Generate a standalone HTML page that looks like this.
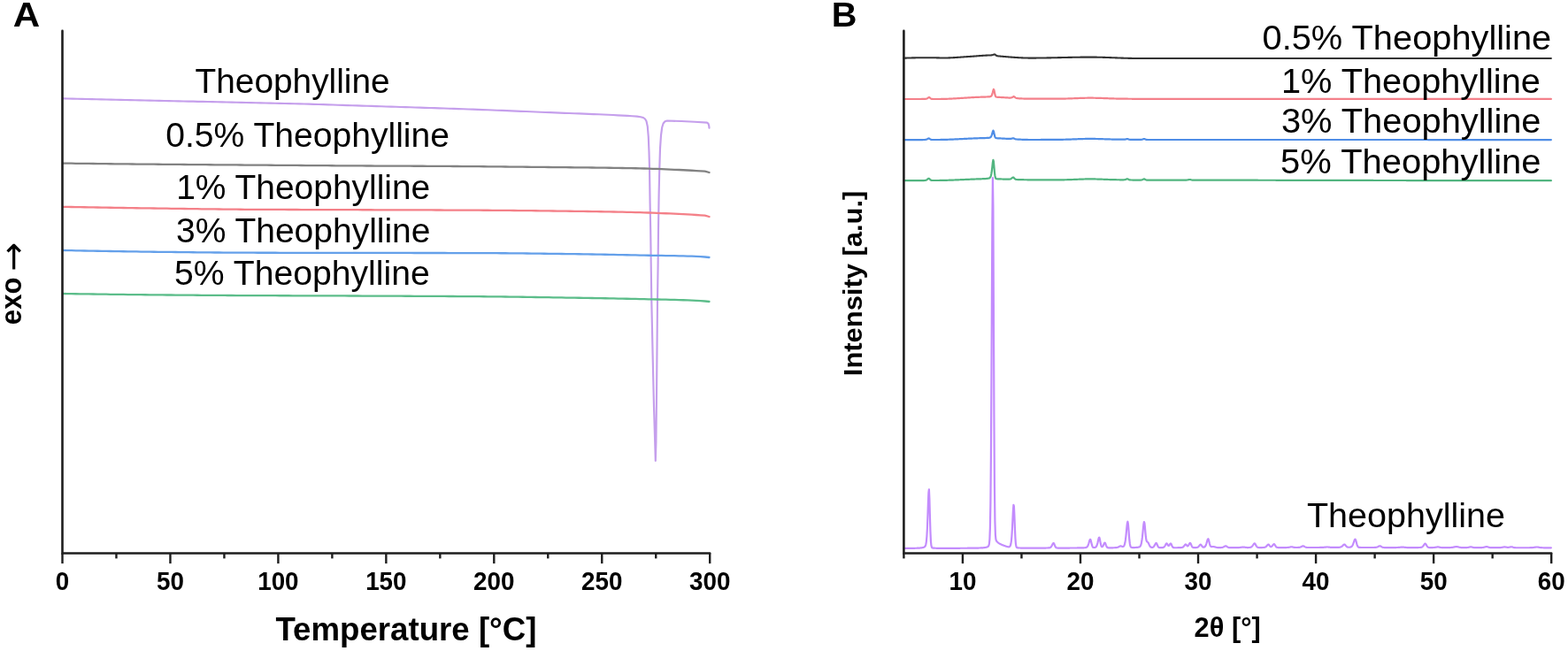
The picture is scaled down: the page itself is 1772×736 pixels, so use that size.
<!DOCTYPE html><html><head><meta charset="utf-8"><style>html,body{margin:0;padding:0;background:#fff;}svg{display:block;}</style></head><body>
<svg width="1772" height="736" viewBox="0 0 1772 736" font-family='"Liberation Sans", Arial, Helvetica, sans-serif'>
<rect width="1772" height="736" fill="#fff"/>
<path d="M71.00 111.40 L76.45 111.52 L81.91 111.65 L87.36 111.77 L92.82 111.89 L98.27 112.02 L103.72 112.14 L109.18 112.26 L114.63 112.38 L120.08 112.51 L125.54 112.63 L130.99 112.75 L136.45 112.87 L141.90 113.00 L147.35 113.12 L152.81 113.24 L158.26 113.36 L163.71 113.48 L169.17 113.60 L174.62 113.73 L180.08 113.85 L185.53 113.97 L190.98 114.09 L196.44 114.21 L201.89 114.33 L207.34 114.45 L212.80 114.57 L218.25 114.69 L223.71 114.81 L229.16 114.93 L234.61 115.05 L240.07 115.18 L245.52 115.30 L250.97 115.42 L256.43 115.54 L261.88 115.66 L267.34 115.78 L272.79 115.90 L278.24 116.02 L283.70 116.14 L289.15 116.25 L294.61 116.37 L300.06 116.49 L305.51 116.61 L310.97 116.74 L316.42 116.86 L321.87 116.99 L327.33 117.12 L332.78 117.25 L338.24 117.39 L343.69 117.53 L349.14 117.68 L354.60 117.83 L360.05 117.99 L365.50 118.16 L370.96 118.34 L376.41 118.52 L381.87 118.70 L387.32 118.88 L392.77 119.06 L398.23 119.24 L403.68 119.42 L409.13 119.59 L414.59 119.76 L420.04 119.94 L425.50 120.11 L430.95 120.28 L436.40 120.45 L441.86 120.62 L447.31 120.79 L452.76 120.96 L458.22 121.13 L463.67 121.30 L469.13 121.47 L474.58 121.64 L480.03 121.82 L485.49 121.99 L490.94 122.17 L496.39 122.35 L501.85 122.53 L507.30 122.71 L512.76 122.90 L518.21 123.08 L523.66 123.27 L529.12 123.47 L534.57 123.67 L540.03 123.87 L545.48 124.07 L550.93 124.28 L556.39 124.50 L561.84 124.71 L567.29 124.93 L572.75 125.15 L578.20 125.38 L583.66 125.60 L589.11 125.82 L594.56 126.05 L600.02 126.27 L605.47 126.50 L610.92 126.72 L616.38 126.95 L621.83 127.17 L627.29 127.39 L632.74 127.61 L638.19 127.82 L643.65 128.03 L649.10 128.23 L654.55 128.44 L660.01 128.64 L665.46 128.85 L670.92 129.07 L676.37 129.29 L681.82 129.53 L687.28 129.77 L692.73 130.03 L698.18 130.32 L703.64 130.62 L709.09 130.94 L714.55 131.26 L720.00 131.60 L724.00 132.20 L727.00 133.00 L729.00 134.50 L730.50 137.00 L731.80 143.00 L732.80 155.00 L733.50 172.00 L734.00 190.00 L734.60 230.00 L735.20 260.00 L735.80 305.00 L736.30 340.00 L737.60 400.00 L739.00 460.00 L740.20 500.00 L740.80 521.00 L741.40 500.00 L742.10 440.00 L743.00 340.00 L743.60 300.00 L744.00 260.00 L744.60 220.00 L745.30 190.00 L746.00 168.00 L747.00 153.00 L748.20 144.00 L749.60 139.50 L751.50 137.30 L754.00 136.50 L770.00 137.00 L785.00 137.80 L799.00 138.60 L800.40 139.60 L801.20 142.00 L801.50 144.60" fill="none" stroke="#c59fec" stroke-width="2.15" stroke-linejoin="round" stroke-linecap="round"/>
<path d="M71.00 184.60 L75.90 184.66 L80.81 184.72 L85.71 184.78 L90.61 184.84 L95.51 184.89 L100.42 184.95 L105.32 185.01 L110.22 185.06 L115.12 185.12 L120.03 185.17 L124.93 185.23 L129.83 185.28 L134.73 185.33 L139.64 185.38 L144.54 185.43 L149.44 185.48 L154.35 185.53 L159.25 185.58 L164.15 185.63 L169.05 185.67 L173.96 185.72 L178.86 185.76 L183.76 185.81 L188.66 185.85 L193.57 185.89 L198.47 185.93 L203.37 185.97 L208.28 186.01 L213.18 186.05 L218.08 186.09 L222.98 186.13 L227.89 186.17 L232.79 186.20 L237.69 186.24 L242.59 186.28 L247.50 186.32 L252.40 186.35 L257.30 186.39 L262.20 186.42 L267.11 186.46 L272.01 186.50 L276.91 186.53 L281.82 186.57 L286.72 186.60 L291.62 186.64 L296.52 186.67 L301.43 186.71 L306.33 186.75 L311.23 186.78 L316.13 186.82 L321.04 186.86 L325.94 186.89 L330.84 186.93 L335.74 186.97 L340.65 187.00 L345.55 187.04 L350.45 187.07 L355.36 187.11 L360.26 187.14 L365.16 187.18 L370.06 187.21 L374.97 187.24 L379.87 187.28 L384.77 187.31 L389.67 187.34 L394.58 187.37 L399.48 187.40 L404.38 187.42 L409.29 187.45 L414.19 187.48 L419.09 187.50 L423.99 187.53 L428.90 187.55 L433.80 187.57 L438.70 187.59 L443.60 187.61 L448.51 187.64 L453.41 187.66 L458.31 187.68 L463.21 187.70 L468.12 187.73 L473.02 187.75 L477.92 187.77 L482.83 187.80 L487.73 187.83 L492.63 187.85 L497.53 187.88 L502.44 187.92 L507.34 187.95 L512.24 187.98 L517.14 188.02 L522.05 188.06 L526.95 188.10 L531.85 188.14 L536.76 188.18 L541.66 188.22 L546.56 188.27 L551.46 188.31 L556.37 188.36 L561.27 188.41 L566.17 188.46 L571.07 188.50 L575.98 188.55 L580.88 188.60 L585.78 188.65 L590.68 188.70 L595.59 188.75 L600.49 188.81 L605.39 188.86 L610.30 188.90 L615.20 188.95 L620.10 189.00 L625.00 189.05 L629.91 189.10 L634.81 189.14 L639.71 189.19 L644.61 189.24 L649.52 189.29 L654.42 189.34 L659.32 189.40 L664.22 189.45 L669.13 189.51 L674.03 189.57 L678.93 189.63 L683.84 189.70 L688.74 189.77 L693.64 189.84 L698.54 189.91 L703.45 189.99 L708.35 190.08 L713.25 190.17 L718.15 190.26 L723.06 190.37 L727.96 190.49 L732.86 190.63 L737.77 190.78 L742.67 190.95 L747.57 191.14 L752.47 191.34 L757.38 191.56 L762.28 191.78 L767.18 192.01 L772.08 192.26 L776.99 192.51 L781.89 192.76 L786.79 193.03 L791.69 193.28 L796.60 193.54 L801.50 195.00" fill="none" stroke="#828282" stroke-width="2.3" stroke-linejoin="round" stroke-linecap="round"/>
<path d="M71.00 233.80 L75.90 233.89 L80.81 233.98 L85.71 234.07 L90.61 234.16 L95.51 234.25 L100.42 234.34 L105.32 234.42 L110.22 234.51 L115.12 234.59 L120.03 234.68 L124.93 234.76 L129.83 234.84 L134.73 234.92 L139.64 235.00 L144.54 235.08 L149.44 235.15 L154.35 235.23 L159.25 235.30 L164.15 235.37 L169.05 235.44 L173.96 235.52 L178.86 235.58 L183.76 235.65 L188.66 235.72 L193.57 235.79 L198.47 235.86 L203.37 235.93 L208.28 236.00 L213.18 236.08 L218.08 236.14 L222.98 236.21 L227.89 236.28 L232.79 236.34 L237.69 236.41 L242.59 236.47 L247.50 236.52 L252.40 236.58 L257.30 236.63 L262.20 236.67 L267.11 236.71 L272.01 236.75 L276.91 236.78 L281.82 236.81 L286.72 236.83 L291.62 236.86 L296.52 236.88 L301.43 236.90 L306.33 236.92 L311.23 236.94 L316.13 236.95 L321.04 236.97 L325.94 236.99 L330.84 237.00 L335.74 237.02 L340.65 237.03 L345.55 237.04 L350.45 237.06 L355.36 237.07 L360.26 237.08 L365.16 237.10 L370.06 237.11 L374.97 237.12 L379.87 237.14 L384.77 237.15 L389.67 237.17 L394.58 237.18 L399.48 237.20 L404.38 237.21 L409.29 237.23 L414.19 237.25 L419.09 237.26 L423.99 237.28 L428.90 237.29 L433.80 237.31 L438.70 237.32 L443.60 237.34 L448.51 237.35 L453.41 237.37 L458.31 237.38 L463.21 237.40 L468.12 237.41 L473.02 237.43 L477.92 237.44 L482.83 237.46 L487.73 237.47 L492.63 237.49 L497.53 237.51 L502.44 237.53 L507.34 237.55 L512.24 237.57 L517.14 237.59 L522.05 237.61 L526.95 237.63 L531.85 237.66 L536.76 237.68 L541.66 237.71 L546.56 237.74 L551.46 237.77 L556.37 237.80 L561.27 237.84 L566.17 237.88 L571.07 237.92 L575.98 237.96 L580.88 238.00 L585.78 238.05 L590.68 238.10 L595.59 238.15 L600.49 238.20 L605.39 238.25 L610.30 238.31 L615.20 238.36 L620.10 238.42 L625.00 238.48 L629.91 238.54 L634.81 238.60 L639.71 238.67 L644.61 238.73 L649.52 238.79 L654.42 238.86 L659.32 238.93 L664.22 239.00 L669.13 239.07 L674.03 239.15 L678.93 239.23 L683.84 239.32 L688.74 239.41 L693.64 239.50 L698.54 239.60 L703.45 239.70 L708.35 239.81 L713.25 239.93 L718.15 240.05 L723.06 240.18 L727.96 240.33 L732.86 240.48 L737.77 240.65 L742.67 240.83 L747.57 241.03 L752.47 241.24 L757.38 241.46 L762.28 241.69 L767.18 241.93 L772.08 242.18 L776.99 242.45 L781.89 242.72 L786.79 243.01 L791.69 243.29 L796.60 243.61 L801.50 245.00" fill="none" stroke="#f48088" stroke-width="2.3" stroke-linejoin="round" stroke-linecap="round"/>
<path d="M71.00 283.00 L75.90 283.10 L80.81 283.20 L85.71 283.29 L90.61 283.39 L95.51 283.48 L100.42 283.58 L105.32 283.67 L110.22 283.76 L115.12 283.84 L120.03 283.93 L124.93 284.01 L129.83 284.09 L134.73 284.17 L139.64 284.25 L144.54 284.32 L149.44 284.40 L154.35 284.47 L159.25 284.54 L164.15 284.60 L169.05 284.67 L173.96 284.73 L178.86 284.79 L183.76 284.84 L188.66 284.90 L193.57 284.96 L198.47 285.02 L203.37 285.07 L208.28 285.13 L213.18 285.18 L218.08 285.24 L222.98 285.29 L227.89 285.34 L232.79 285.39 L237.69 285.43 L242.59 285.48 L247.50 285.52 L252.40 285.55 L257.30 285.59 L262.20 285.62 L267.11 285.65 L272.01 285.67 L276.91 285.69 L281.82 285.71 L286.72 285.72 L291.62 285.73 L296.52 285.74 L301.43 285.75 L306.33 285.76 L311.23 285.77 L316.13 285.78 L321.04 285.79 L325.94 285.80 L330.84 285.81 L335.74 285.81 L340.65 285.82 L345.55 285.83 L350.45 285.83 L355.36 285.84 L360.26 285.85 L365.16 285.85 L370.06 285.86 L374.97 285.87 L379.87 285.87 L384.77 285.88 L389.67 285.88 L394.58 285.89 L399.48 285.90 L404.38 285.91 L409.29 285.91 L414.19 285.92 L419.09 285.93 L423.99 285.93 L428.90 285.94 L433.80 285.94 L438.70 285.95 L443.60 285.95 L448.51 285.96 L453.41 285.96 L458.31 285.97 L463.21 285.97 L468.12 285.98 L473.02 285.99 L477.92 285.99 L482.83 286.00 L487.73 286.00 L492.63 286.01 L497.53 286.02 L502.44 286.02 L507.34 286.03 L512.24 286.04 L517.14 286.05 L522.05 286.06 L526.95 286.07 L531.85 286.08 L536.76 286.09 L541.66 286.10 L546.56 286.12 L551.46 286.14 L556.37 286.17 L561.27 286.20 L566.17 286.23 L571.07 286.27 L575.98 286.31 L580.88 286.36 L585.78 286.41 L590.68 286.46 L595.59 286.51 L600.49 286.56 L605.39 286.62 L610.30 286.68 L615.20 286.74 L620.10 286.80 L625.00 286.87 L629.91 286.93 L634.81 287.00 L639.71 287.06 L644.61 287.13 L649.52 287.19 L654.42 287.26 L659.32 287.33 L664.22 287.41 L669.13 287.50 L674.03 287.58 L678.93 287.68 L683.84 287.77 L688.74 287.87 L693.64 287.96 L698.54 288.06 L703.45 288.16 L708.35 288.26 L713.25 288.36 L718.15 288.46 L723.06 288.56 L727.96 288.65 L732.86 288.73 L737.77 288.80 L742.67 288.88 L747.57 288.95 L752.47 289.03 L757.38 289.11 L762.28 289.21 L767.18 289.31 L772.08 289.42 L776.99 289.56 L781.89 289.71 L786.79 289.88 L791.69 290.09 L796.60 290.50 L801.50 291.00" fill="none" stroke="#64a0ea" stroke-width="2.3" stroke-linejoin="round" stroke-linecap="round"/>
<path d="M71.00 332.00 L75.90 332.08 L80.81 332.15 L85.71 332.23 L90.61 332.30 L95.51 332.38 L100.42 332.45 L105.32 332.52 L110.22 332.59 L115.12 332.65 L120.03 332.72 L124.93 332.79 L129.83 332.85 L134.73 332.91 L139.64 332.97 L144.54 333.03 L149.44 333.09 L154.35 333.14 L159.25 333.20 L164.15 333.25 L169.05 333.30 L173.96 333.34 L178.86 333.39 L183.76 333.43 L188.66 333.48 L193.57 333.52 L198.47 333.56 L203.37 333.60 L208.28 333.64 L213.18 333.68 L218.08 333.72 L222.98 333.75 L227.89 333.79 L232.79 333.83 L237.69 333.86 L242.59 333.89 L247.50 333.92 L252.40 333.95 L257.30 333.98 L262.20 334.01 L267.11 334.04 L272.01 334.06 L276.91 334.09 L281.82 334.11 L286.72 334.13 L291.62 334.15 L296.52 334.17 L301.43 334.19 L306.33 334.20 L311.23 334.22 L316.13 334.24 L321.04 334.25 L325.94 334.27 L330.84 334.28 L335.74 334.30 L340.65 334.31 L345.55 334.32 L350.45 334.34 L355.36 334.35 L360.26 334.37 L365.16 334.38 L370.06 334.40 L374.97 334.41 L379.87 334.43 L384.77 334.44 L389.67 334.46 L394.58 334.48 L399.48 334.50 L404.38 334.52 L409.29 334.54 L414.19 334.56 L419.09 334.58 L423.99 334.59 L428.90 334.61 L433.80 334.63 L438.70 334.65 L443.60 334.67 L448.51 334.69 L453.41 334.72 L458.31 334.74 L463.21 334.76 L468.12 334.78 L473.02 334.80 L477.92 334.83 L482.83 334.85 L487.73 334.88 L492.63 334.90 L497.53 334.93 L502.44 334.96 L507.34 334.98 L512.24 335.01 L517.14 335.04 L522.05 335.07 L526.95 335.11 L531.85 335.14 L536.76 335.18 L541.66 335.21 L546.56 335.25 L551.46 335.30 L556.37 335.35 L561.27 335.40 L566.17 335.45 L571.07 335.51 L575.98 335.57 L580.88 335.64 L585.78 335.70 L590.68 335.77 L595.59 335.84 L600.49 335.92 L605.39 335.99 L610.30 336.07 L615.20 336.14 L620.10 336.22 L625.00 336.30 L629.91 336.38 L634.81 336.46 L639.71 336.54 L644.61 336.61 L649.52 336.69 L654.42 336.77 L659.32 336.85 L664.22 336.93 L669.13 337.01 L674.03 337.10 L678.93 337.18 L683.84 337.27 L688.74 337.36 L693.64 337.45 L698.54 337.55 L703.45 337.65 L708.35 337.75 L713.25 337.85 L718.15 337.96 L723.06 338.07 L727.96 338.17 L732.86 338.28 L737.77 338.38 L742.67 338.48 L747.57 338.59 L752.47 338.71 L757.38 338.83 L762.28 338.96 L767.18 339.11 L772.08 339.27 L776.99 339.44 L781.89 339.63 L786.79 339.85 L791.69 340.10 L796.60 340.51 L801.50 341.00" fill="none" stroke="#5cbd8a" stroke-width="2.3" stroke-linejoin="round" stroke-linecap="round"/>
<path d="M1021.40 619.94 L1021.90 619.93 L1022.40 619.93 L1022.90 619.93 L1023.40 619.92 L1023.90 619.92 L1024.40 619.91 L1024.90 619.91 L1025.40 619.91 L1025.90 619.90 L1026.40 619.90 L1026.90 619.89 L1027.40 619.89 L1027.90 619.88 L1028.40 619.88 L1028.90 619.87 L1029.40 619.86 L1029.90 619.86 L1030.40 619.85 L1030.90 619.84 L1031.40 619.83 L1031.90 619.83 L1032.40 619.82 L1032.90 619.81 L1033.40 619.80 L1033.90 619.78 L1034.40 619.77 L1034.90 619.76 L1035.40 619.74 L1035.90 619.73 L1036.40 619.71 L1036.90 619.69 L1037.40 619.66 L1037.90 619.64 L1038.40 619.61 L1038.90 619.58 L1039.40 619.54 L1039.90 619.50 L1040.40 619.45 L1040.90 619.40 L1041.40 619.33 L1041.90 619.25 L1042.40 619.16 L1042.90 619.05 L1043.40 618.91 L1043.90 618.73 L1044.40 618.51 L1044.90 618.20 L1045.40 617.73 L1045.90 616.89 L1046.40 615.26 L1046.90 612.09 L1047.40 606.33 L1047.90 597.05 L1048.40 584.17 L1048.90 569.34 L1049.40 556.79 L1049.90 553.27 L1050.40 564.42 L1050.90 583.27 L1051.40 600.34 L1051.90 611.29 L1052.40 616.57 L1052.90 618.58 L1053.40 619.23 L1053.90 619.45 L1054.40 619.55 L1054.90 619.61 L1055.40 619.66 L1055.90 619.69 L1056.40 619.72 L1056.90 619.74 L1057.40 619.76 L1057.90 619.77 L1058.40 619.78 L1058.90 619.79 L1059.40 619.80 L1059.90 619.80 L1060.40 619.81 L1060.90 619.81 L1061.40 619.82 L1061.90 619.82 L1062.40 619.82 L1062.90 619.83 L1063.40 619.83 L1063.90 619.83 L1064.40 619.83 L1064.90 619.83 L1065.40 619.83 L1065.90 619.83 L1066.40 619.83 L1066.90 619.83 L1067.40 619.83 L1067.90 619.83 L1068.40 619.83 L1068.90 619.83 L1069.40 619.83 L1069.90 619.83 L1070.40 619.83 L1070.90 619.82 L1071.40 619.82 L1071.90 619.82 L1072.40 619.82 L1072.90 619.82 L1073.40 619.82 L1073.90 619.82 L1074.40 619.82 L1074.90 619.81 L1075.40 619.81 L1075.90 619.81 L1076.40 619.81 L1076.90 619.81 L1077.40 619.81 L1077.90 619.81 L1078.40 619.80 L1078.90 619.80 L1079.40 619.80 L1079.90 619.80 L1080.40 619.80 L1080.90 619.79 L1081.40 619.79 L1081.90 619.79 L1082.40 619.79 L1082.90 619.79 L1083.40 619.78 L1083.90 619.78 L1084.40 619.78 L1084.90 619.78 L1085.40 619.77 L1085.90 619.77 L1086.40 619.77 L1086.90 619.77 L1087.40 619.76 L1087.90 619.76 L1088.40 619.76 L1088.90 619.76 L1089.40 619.75 L1089.90 619.75 L1090.40 619.75 L1090.90 619.74 L1091.40 619.74 L1091.90 619.74 L1092.40 619.73 L1092.90 619.73 L1093.40 619.72 L1093.90 619.72 L1094.40 619.72 L1094.90 619.71 L1095.40 619.71 L1095.90 619.70 L1096.40 619.70 L1096.90 619.69 L1097.40 619.69 L1097.90 619.68 L1098.40 619.68 L1098.90 619.67 L1099.40 619.66 L1099.90 619.66 L1100.40 619.65 L1100.90 619.64 L1101.40 619.64 L1101.90 619.63 L1102.40 619.62 L1102.90 619.61 L1103.40 619.60 L1103.90 619.59 L1104.40 619.58 L1104.90 619.56 L1105.40 619.55 L1105.90 619.54 L1106.40 619.52 L1106.90 619.50 L1107.40 619.48 L1107.90 619.46 L1108.40 619.44 L1108.90 619.41 L1109.40 619.39 L1109.90 619.35 L1110.40 619.32 L1110.90 619.28 L1111.40 619.23 L1111.90 619.18 L1112.40 619.12 L1112.90 619.05 L1113.40 618.97 L1113.90 618.87 L1114.40 618.75 L1114.90 618.62 L1115.40 618.44 L1115.90 618.23 L1116.40 617.95 L1116.90 617.54 L1117.40 616.76 L1117.90 614.85 L1118.40 609.78 L1118.90 597.03 L1119.40 568.94 L1119.90 516.70 L1120.40 436.56 L1120.90 338.12 L1121.40 247.74 L1121.90 201.12 L1122.40 234.75 L1122.90 347.03 L1123.40 465.46 L1123.90 547.14 L1124.40 588.57 L1124.90 604.57 L1125.40 609.65 L1125.90 611.25 L1126.40 611.94 L1126.90 612.51 L1127.40 613.01 L1127.90 613.43 L1128.40 613.81 L1128.90 614.14 L1129.40 614.44 L1129.90 614.73 L1130.40 614.99 L1130.90 615.24 L1131.40 615.49 L1131.90 615.72 L1132.40 615.94 L1132.90 616.16 L1133.40 616.37 L1133.90 616.57 L1134.40 616.77 L1134.90 616.96 L1135.40 617.14 L1135.90 617.32 L1136.40 617.49 L1136.90 617.66 L1137.40 617.81 L1137.90 617.95 L1138.40 618.08 L1138.90 618.19 L1139.40 618.27 L1139.90 618.32 L1140.40 618.32 L1140.90 618.07 L1141.40 617.57 L1141.90 616.64 L1142.40 614.84 L1142.90 611.55 L1143.40 606.05 L1143.90 598.00 L1144.40 587.89 L1144.90 577.58 L1145.40 570.81 L1145.90 572.30 L1146.40 583.14 L1146.90 596.76 L1147.40 607.81 L1147.90 614.47 L1148.40 617.58 L1148.90 618.77 L1149.40 619.16 L1149.90 619.31 L1150.40 619.38 L1150.90 619.42 L1151.40 619.46 L1151.90 619.48 L1152.40 619.50 L1152.90 619.52 L1153.40 619.54 L1153.90 619.55 L1154.40 619.56 L1154.90 619.57 L1155.40 619.57 L1155.90 619.58 L1156.40 619.58 L1156.90 619.59 L1157.40 619.59 L1157.90 619.59 L1158.40 619.60 L1158.90 619.60 L1159.40 619.60 L1159.90 619.60 L1160.40 619.60 L1160.90 619.61 L1161.40 619.61 L1161.90 619.61 L1162.40 619.61 L1162.90 619.61 L1163.40 619.61 L1163.90 619.61 L1164.40 619.61 L1164.90 619.61 L1165.40 619.61 L1165.90 619.61 L1166.40 619.61 L1166.90 619.61 L1167.40 619.61 L1167.90 619.61 L1168.40 619.61 L1168.90 619.61 L1169.40 619.61 L1169.90 619.60 L1170.40 619.60 L1170.90 619.60 L1171.40 619.60 L1171.90 619.60 L1172.40 619.60 L1172.90 619.60 L1173.40 619.60 L1173.90 619.59 L1174.40 619.59 L1174.90 619.59 L1175.40 619.59 L1175.90 619.59 L1176.40 619.58 L1176.90 619.58 L1177.40 619.58 L1177.90 619.57 L1178.40 619.57 L1178.90 619.57 L1179.40 619.56 L1179.90 619.56 L1180.40 619.55 L1180.90 619.55 L1181.40 619.54 L1181.90 619.53 L1182.40 619.52 L1182.90 619.51 L1183.40 619.50 L1183.90 619.48 L1184.40 619.46 L1184.90 619.43 L1185.40 619.39 L1185.90 619.32 L1186.40 619.21 L1186.90 619.01 L1187.40 618.68 L1187.90 618.17 L1188.40 617.46 L1188.90 616.56 L1189.40 615.55 L1189.90 614.61 L1190.40 614.04 L1190.90 614.16 L1191.40 615.09 L1191.90 616.38 L1192.40 617.60 L1192.90 618.50 L1193.40 619.06 L1193.90 619.34 L1194.40 619.46 L1194.90 619.51 L1195.40 619.53 L1195.90 619.54 L1196.40 619.54 L1196.90 619.55 L1197.40 619.55 L1197.90 619.55 L1198.40 619.55 L1198.90 619.55 L1199.40 619.55 L1199.90 619.55 L1200.40 619.55 L1200.90 619.55 L1201.40 619.55 L1201.90 619.55 L1202.40 619.55 L1202.90 619.54 L1203.40 619.54 L1203.90 619.54 L1204.40 619.54 L1204.90 619.54 L1205.40 619.54 L1205.90 619.54 L1206.40 619.54 L1206.90 619.53 L1207.40 619.53 L1207.90 619.53 L1208.40 619.53 L1208.90 619.53 L1209.40 619.52 L1209.90 619.52 L1210.40 619.52 L1210.90 619.52 L1211.40 619.51 L1211.90 619.51 L1212.40 619.51 L1212.90 619.51 L1213.40 619.50 L1213.90 619.50 L1214.40 619.50 L1214.90 619.49 L1215.40 619.49 L1215.90 619.49 L1216.40 619.48 L1216.90 619.48 L1217.40 619.47 L1217.90 619.47 L1218.40 619.46 L1218.90 619.46 L1219.40 619.45 L1219.90 619.44 L1220.40 619.43 L1220.90 619.43 L1221.40 619.42 L1221.90 619.41 L1222.40 619.39 L1222.90 619.38 L1223.40 619.37 L1223.90 619.35 L1224.40 619.33 L1224.90 619.30 L1225.40 619.27 L1225.90 619.23 L1226.40 619.18 L1226.90 619.11 L1227.40 618.99 L1227.90 618.79 L1228.40 618.44 L1228.90 617.88 L1229.40 617.00 L1229.90 615.77 L1230.40 614.22 L1230.90 612.48 L1231.40 610.87 L1231.90 609.88 L1232.40 610.08 L1232.90 611.66 L1233.40 613.85 L1233.90 615.93 L1234.40 617.46 L1234.90 618.38 L1235.40 618.84 L1235.90 619.02 L1236.40 619.05 L1236.90 619.02 L1237.40 618.94 L1237.90 618.77 L1238.40 618.48 L1238.90 617.95 L1239.40 617.06 L1239.90 615.71 L1240.40 613.86 L1240.90 611.65 L1241.40 609.42 L1241.90 607.83 L1242.40 607.71 L1242.90 609.56 L1243.40 612.40 L1243.90 615.09 L1244.40 616.99 L1244.90 617.98 L1245.40 618.23 L1245.90 617.98 L1246.40 617.35 L1246.90 616.43 L1247.40 615.34 L1247.90 614.29 L1248.40 613.64 L1248.90 613.78 L1249.40 614.86 L1249.90 616.29 L1250.40 617.58 L1250.90 618.48 L1251.40 618.97 L1251.90 619.20 L1252.40 619.28 L1252.90 619.31 L1253.40 619.32 L1253.90 619.33 L1254.40 619.33 L1254.90 619.32 L1255.40 619.32 L1255.90 619.32 L1256.40 619.31 L1256.90 619.30 L1257.40 619.29 L1257.90 619.28 L1258.40 619.27 L1258.90 619.26 L1259.40 619.24 L1259.90 619.22 L1260.40 619.20 L1260.90 619.16 L1261.40 619.11 L1261.90 619.04 L1262.40 618.94 L1262.90 618.80 L1263.40 618.62 L1263.90 618.40 L1264.40 618.15 L1264.90 617.89 L1265.40 617.64 L1265.90 617.45 L1266.40 617.36 L1266.90 617.42 L1267.40 617.60 L1267.90 617.80 L1268.40 617.97 L1268.90 618.04 L1269.40 617.95 L1269.90 617.61 L1270.40 616.92 L1270.90 615.65 L1271.40 613.58 L1271.90 610.48 L1272.40 606.28 L1272.90 601.20 L1273.40 595.87 L1273.90 591.49 L1274.40 589.73 L1274.90 592.22 L1275.40 598.21 L1275.90 605.10 L1276.40 610.97 L1276.90 614.99 L1277.40 617.26 L1277.90 618.35 L1278.40 618.80 L1278.90 618.97 L1279.40 619.03 L1279.90 619.06 L1280.40 619.07 L1280.90 619.07 L1281.40 619.07 L1281.90 619.06 L1282.40 619.04 L1282.90 619.02 L1283.40 619.00 L1283.90 618.97 L1284.40 618.93 L1284.90 618.88 L1285.40 618.82 L1285.90 618.76 L1286.40 618.67 L1286.90 618.56 L1287.40 618.40 L1287.90 618.17 L1288.40 617.78 L1288.90 617.11 L1289.40 615.97 L1289.90 614.11 L1290.40 611.30 L1290.90 607.41 L1291.40 602.58 L1291.90 597.31 L1292.40 592.61 L1292.90 590.01 L1293.40 591.12 L1293.90 595.89 L1294.40 601.86 L1294.90 607.02 L1295.40 610.40 L1295.90 612.05 L1296.40 612.61 L1296.90 612.82 L1297.40 613.23 L1297.90 614.08 L1298.40 615.18 L1298.90 616.31 L1299.40 617.29 L1299.90 618.03 L1300.40 618.51 L1300.90 618.78 L1301.40 618.91 L1301.90 618.93 L1302.40 618.86 L1302.90 618.70 L1303.40 618.40 L1303.90 617.92 L1304.40 617.25 L1304.90 616.40 L1305.40 615.45 L1305.90 614.57 L1306.40 614.03 L1306.90 614.14 L1307.40 615.02 L1307.90 616.24 L1308.40 617.39 L1308.90 618.25 L1309.40 618.76 L1309.90 619.02 L1310.40 619.13 L1310.90 619.17 L1311.40 619.18 L1311.90 619.17 L1312.40 619.16 L1312.90 619.14 L1313.40 619.10 L1313.90 619.05 L1314.40 618.95 L1314.90 618.77 L1315.40 618.47 L1315.90 617.99 L1316.40 617.31 L1316.90 616.44 L1317.40 615.50 L1317.90 614.68 L1318.40 614.31 L1318.90 614.68 L1319.40 615.60 L1319.90 616.51 L1320.40 617.02 L1320.90 616.99 L1321.40 616.48 L1321.90 615.69 L1322.40 614.90 L1322.90 614.48 L1323.40 614.77 L1323.90 615.76 L1324.40 616.96 L1324.90 617.97 L1325.40 618.64 L1325.90 618.99 L1326.40 619.15 L1326.90 619.21 L1327.40 619.23 L1327.90 619.24 L1328.40 619.24 L1328.90 619.24 L1329.40 619.24 L1329.90 619.23 L1330.40 619.23 L1330.90 619.22 L1331.40 619.22 L1331.90 619.21 L1332.40 619.20 L1332.90 619.19 L1333.40 619.17 L1333.90 619.16 L1334.40 619.13 L1334.90 619.09 L1335.40 619.03 L1335.90 618.94 L1336.40 618.77 L1336.90 618.51 L1337.40 618.12 L1337.90 617.59 L1338.40 616.96 L1338.90 616.29 L1339.40 615.73 L1339.90 615.47 L1340.40 615.70 L1340.90 616.31 L1341.40 616.94 L1341.90 617.31 L1342.40 617.28 L1342.90 616.84 L1343.40 616.09 L1343.90 615.18 L1344.40 614.36 L1344.90 613.93 L1345.40 614.21 L1345.90 615.20 L1346.40 616.43 L1346.90 617.53 L1347.40 618.32 L1347.90 618.78 L1348.40 619.00 L1348.90 619.09 L1349.40 619.12 L1349.90 619.12 L1350.40 619.12 L1350.90 619.10 L1351.40 619.08 L1351.90 619.05 L1352.40 618.99 L1352.90 618.88 L1353.40 618.71 L1353.90 618.43 L1354.40 618.03 L1354.90 617.50 L1355.40 616.88 L1355.90 616.25 L1356.40 615.76 L1356.90 615.62 L1357.40 616.01 L1357.90 616.74 L1358.40 617.52 L1358.90 618.14 L1359.40 618.53 L1359.90 618.70 L1360.40 618.71 L1360.90 618.59 L1361.40 618.32 L1361.90 617.85 L1362.40 617.09 L1362.90 615.98 L1363.40 614.51 L1363.90 612.76 L1364.40 611.00 L1364.90 609.64 L1365.40 609.24 L1365.90 610.30 L1366.40 612.34 L1366.90 614.50 L1367.40 616.24 L1367.90 617.33 L1368.40 617.88 L1368.90 618.07 L1369.40 618.09 L1369.90 618.04 L1370.40 618.00 L1370.90 617.98 L1371.40 618.00 L1371.90 618.08 L1372.40 618.20 L1372.90 618.34 L1373.40 618.49 L1373.90 618.64 L1374.40 618.77 L1374.90 618.88 L1375.40 618.97 L1375.90 619.04 L1376.40 619.08 L1376.90 619.11 L1377.40 619.13 L1377.90 619.14 L1378.40 619.14 L1378.90 619.13 L1379.40 619.11 L1379.90 619.08 L1380.40 619.03 L1380.90 618.96 L1381.40 618.85 L1381.90 618.70 L1382.40 618.51 L1382.90 618.27 L1383.40 618.00 L1383.90 617.73 L1384.40 617.48 L1384.90 617.33 L1385.40 617.32 L1385.90 617.50 L1386.40 617.81 L1386.90 618.17 L1387.40 618.50 L1387.90 618.76 L1388.40 618.94 L1388.90 619.06 L1389.40 619.12 L1389.90 619.15 L1390.40 619.17 L1390.90 619.17 L1391.40 619.17 L1391.90 619.17 L1392.40 619.17 L1392.90 619.17 L1393.40 619.17 L1393.90 619.17 L1394.40 619.17 L1394.90 619.17 L1395.40 619.16 L1395.90 619.16 L1396.40 619.16 L1396.90 619.15 L1397.40 619.15 L1397.90 619.14 L1398.40 619.13 L1398.90 619.12 L1399.40 619.10 L1399.90 619.07 L1400.40 619.04 L1400.90 619.00 L1401.40 618.95 L1401.90 618.89 L1402.40 618.82 L1402.90 618.75 L1403.40 618.68 L1403.90 618.61 L1404.40 618.56 L1404.90 618.54 L1405.40 618.55 L1405.90 618.60 L1406.40 618.67 L1406.90 618.75 L1407.40 618.83 L1407.90 618.91 L1408.40 618.96 L1408.90 619.00 L1409.40 619.03 L1409.90 619.04 L1410.40 619.04 L1410.90 619.03 L1411.40 619.01 L1411.90 618.98 L1412.40 618.93 L1412.90 618.85 L1413.40 618.73 L1413.90 618.53 L1414.40 618.23 L1414.90 617.79 L1415.40 617.22 L1415.90 616.52 L1416.40 615.75 L1416.90 615.01 L1417.40 614.48 L1417.90 614.34 L1418.40 614.78 L1418.90 615.65 L1419.40 616.65 L1419.90 617.54 L1420.40 618.21 L1420.90 618.63 L1421.40 618.87 L1421.90 618.98 L1422.40 619.03 L1422.90 619.05 L1423.40 619.06 L1423.90 619.06 L1424.40 619.05 L1424.90 619.05 L1425.40 619.04 L1425.90 619.04 L1426.40 619.03 L1426.90 619.01 L1427.40 618.99 L1427.90 618.97 L1428.40 618.92 L1428.90 618.85 L1429.40 618.74 L1429.90 618.56 L1430.40 618.28 L1430.90 617.89 L1431.40 617.38 L1431.90 616.80 L1432.40 616.20 L1432.90 615.72 L1433.40 615.52 L1433.90 615.76 L1434.40 616.37 L1434.90 617.09 L1435.40 617.70 L1435.90 618.06 L1436.40 618.15 L1436.90 617.98 L1437.40 617.58 L1437.90 617.02 L1438.40 616.37 L1438.90 615.71 L1439.40 615.23 L1439.90 615.10 L1440.40 615.52 L1440.90 616.31 L1441.40 617.18 L1441.90 617.93 L1442.40 618.47 L1442.90 618.78 L1443.40 618.94 L1443.90 619.02 L1444.40 619.05 L1444.90 619.06 L1445.40 619.06 L1445.90 619.07 L1446.40 619.07 L1446.90 619.07 L1447.40 619.07 L1447.90 619.07 L1448.40 619.07 L1448.90 619.07 L1449.40 619.07 L1449.90 619.07 L1450.40 619.06 L1450.90 619.06 L1451.40 619.06 L1451.90 619.06 L1452.40 619.05 L1452.90 619.05 L1453.40 619.04 L1453.90 619.03 L1454.40 619.02 L1454.90 619.00 L1455.40 618.96 L1455.90 618.92 L1456.40 618.85 L1456.90 618.77 L1457.40 618.67 L1457.90 618.55 L1458.40 618.44 L1458.90 618.33 L1459.40 618.27 L1459.90 618.26 L1460.40 618.33 L1460.90 618.46 L1461.40 618.61 L1461.90 618.75 L1462.40 618.85 L1462.90 618.93 L1463.40 618.97 L1463.90 619.00 L1464.40 619.01 L1464.90 619.01 L1465.40 619.00 L1465.90 618.99 L1466.40 618.98 L1466.90 618.96 L1467.40 618.93 L1467.90 618.88 L1468.40 618.81 L1468.90 618.71 L1469.40 618.57 L1469.90 618.38 L1470.40 618.16 L1470.90 617.90 L1471.40 617.64 L1471.90 617.41 L1472.40 617.27 L1472.90 617.26 L1473.40 617.43 L1473.90 617.72 L1474.40 618.06 L1474.90 618.37 L1475.40 618.62 L1475.90 618.79 L1476.40 618.90 L1476.90 618.96 L1477.40 618.99 L1477.90 619.01 L1478.40 619.01 L1478.90 619.01 L1479.40 619.01 L1479.90 619.01 L1480.40 619.01 L1480.90 619.01 L1481.40 619.01 L1481.90 619.01 L1482.40 619.01 L1482.90 619.01 L1483.40 619.01 L1483.90 619.01 L1484.40 619.01 L1484.90 619.01 L1485.40 619.00 L1485.90 619.00 L1486.40 619.00 L1486.90 619.00 L1487.40 619.00 L1487.90 619.00 L1488.40 618.99 L1488.90 618.99 L1489.40 618.99 L1489.90 618.99 L1490.40 618.98 L1490.90 618.98 L1491.40 618.97 L1491.90 618.97 L1492.40 618.96 L1492.90 618.95 L1493.40 618.93 L1493.90 618.91 L1494.40 618.89 L1494.90 618.86 L1495.40 618.83 L1495.90 618.79 L1496.40 618.75 L1496.90 618.70 L1497.40 618.65 L1497.90 618.60 L1498.40 618.56 L1498.90 618.51 L1499.40 618.48 L1499.90 618.47 L1500.40 618.48 L1500.90 618.51 L1501.40 618.56 L1501.90 618.61 L1502.40 618.68 L1502.90 618.74 L1503.40 618.79 L1503.90 618.84 L1504.40 618.87 L1504.90 618.90 L1505.40 618.92 L1505.90 618.93 L1506.40 618.94 L1506.90 618.94 L1507.40 618.94 L1507.90 618.94 L1508.40 618.94 L1508.90 618.93 L1509.40 618.93 L1509.90 618.92 L1510.40 618.92 L1510.90 618.91 L1511.40 618.90 L1511.90 618.89 L1512.40 618.87 L1512.90 618.85 L1513.40 618.81 L1513.90 618.76 L1514.40 618.68 L1514.90 618.55 L1515.40 618.37 L1515.90 618.12 L1516.40 617.79 L1516.90 617.37 L1517.40 616.90 L1517.90 616.40 L1518.40 615.95 L1518.90 615.63 L1519.40 615.55 L1519.90 615.80 L1520.40 616.32 L1520.90 616.94 L1521.40 617.54 L1521.90 618.03 L1522.40 618.38 L1522.90 618.59 L1523.40 618.70 L1523.90 618.75 L1524.40 618.75 L1524.90 618.73 L1525.40 618.69 L1525.90 618.62 L1526.40 618.50 L1526.90 618.31 L1527.40 617.99 L1527.90 617.48 L1528.40 616.75 L1528.90 615.74 L1529.40 614.46 L1529.90 613.00 L1530.40 611.50 L1530.90 610.26 L1531.40 609.64 L1531.90 610.04 L1532.40 611.48 L1532.90 613.40 L1533.40 615.28 L1533.90 616.78 L1534.40 617.81 L1534.90 618.41 L1535.40 618.72 L1535.90 618.87 L1536.40 618.93 L1536.90 618.96 L1537.40 618.97 L1537.90 618.98 L1538.40 618.99 L1538.90 619.00 L1539.40 619.00 L1539.90 619.01 L1540.40 619.01 L1540.90 619.01 L1541.40 619.01 L1541.90 619.02 L1542.40 619.02 L1542.90 619.02 L1543.40 619.02 L1543.90 619.02 L1544.40 619.02 L1544.90 619.02 L1545.40 619.02 L1545.90 619.02 L1546.40 619.02 L1546.90 619.02 L1547.40 619.02 L1547.90 619.02 L1548.40 619.02 L1548.90 619.02 L1549.40 619.02 L1549.90 619.02 L1550.40 619.02 L1550.90 619.01 L1551.40 619.01 L1551.90 619.00 L1552.40 619.00 L1552.90 618.99 L1553.40 618.97 L1553.90 618.95 L1554.40 618.92 L1554.90 618.86 L1555.40 618.78 L1555.90 618.67 L1556.40 618.51 L1556.90 618.31 L1557.40 618.07 L1557.90 617.81 L1558.40 617.56 L1558.90 617.36 L1559.40 617.26 L1559.90 617.33 L1560.40 617.56 L1560.90 617.88 L1561.40 618.21 L1561.90 618.51 L1562.40 618.73 L1562.90 618.87 L1563.40 618.96 L1563.90 619.01 L1564.40 619.03 L1564.90 619.05 L1565.40 619.05 L1565.90 619.05 L1566.40 619.06 L1566.90 619.06 L1567.40 619.06 L1567.90 619.06 L1568.40 619.06 L1568.90 619.06 L1569.40 619.06 L1569.90 619.06 L1570.40 619.06 L1570.90 619.06 L1571.40 619.06 L1571.90 619.06 L1572.40 619.06 L1572.90 619.06 L1573.40 619.06 L1573.90 619.06 L1574.40 619.06 L1574.90 619.06 L1575.40 619.06 L1575.90 619.06 L1576.40 619.05 L1576.90 619.05 L1577.40 619.04 L1577.90 619.03 L1578.40 619.02 L1578.90 619.00 L1579.40 618.98 L1579.90 618.96 L1580.40 618.93 L1580.90 618.89 L1581.40 618.85 L1581.90 618.81 L1582.40 618.76 L1582.90 618.71 L1583.40 618.67 L1583.90 618.63 L1584.40 618.60 L1584.90 618.59 L1585.40 618.60 L1585.90 618.63 L1586.40 618.68 L1586.90 618.73 L1587.40 618.80 L1587.90 618.86 L1588.40 618.91 L1588.90 618.96 L1589.40 619.00 L1589.90 619.03 L1590.40 619.05 L1590.90 619.06 L1591.40 619.07 L1591.90 619.08 L1592.40 619.08 L1592.90 619.08 L1593.40 619.08 L1593.90 619.08 L1594.40 619.08 L1594.90 619.08 L1595.40 619.08 L1595.90 619.08 L1596.40 619.08 L1596.90 619.08 L1597.40 619.08 L1597.90 619.07 L1598.40 619.07 L1598.90 619.07 L1599.40 619.07 L1599.90 619.06 L1600.40 619.06 L1600.90 619.05 L1601.40 619.05 L1601.90 619.04 L1602.40 619.03 L1602.90 619.03 L1603.40 619.01 L1603.90 619.00 L1604.40 618.98 L1604.90 618.95 L1605.40 618.90 L1605.90 618.82 L1606.40 618.69 L1606.90 618.49 L1607.40 618.19 L1607.90 617.76 L1608.40 617.19 L1608.90 616.52 L1609.40 615.80 L1609.90 615.13 L1610.40 614.70 L1610.90 614.67 L1611.40 615.19 L1611.90 616.05 L1612.40 616.98 L1612.90 617.78 L1613.40 618.36 L1613.90 618.72 L1614.40 618.92 L1614.90 619.01 L1615.40 619.05 L1615.90 619.07 L1616.40 619.08 L1616.90 619.08 L1617.40 619.08 L1617.90 619.08 L1618.40 619.07 L1618.90 619.06 L1619.40 619.04 L1619.90 619.01 L1620.40 618.98 L1620.90 618.94 L1621.40 618.88 L1621.90 618.81 L1622.40 618.74 L1622.90 618.66 L1623.40 618.58 L1623.90 618.51 L1624.40 618.46 L1624.90 618.43 L1625.40 618.45 L1625.90 618.51 L1626.40 618.60 L1626.90 618.70 L1627.40 618.81 L1627.90 618.90 L1628.40 618.97 L1628.90 619.03 L1629.40 619.07 L1629.90 619.09 L1630.40 619.11 L1630.90 619.12 L1631.40 619.12 L1631.90 619.12 L1632.40 619.12 L1632.90 619.13 L1633.40 619.12 L1633.90 619.12 L1634.40 619.12 L1634.90 619.12 L1635.40 619.12 L1635.90 619.12 L1636.40 619.11 L1636.90 619.11 L1637.40 619.10 L1637.90 619.09 L1638.40 619.07 L1638.90 619.05 L1639.40 619.02 L1639.90 618.99 L1640.40 618.94 L1640.90 618.88 L1641.40 618.82 L1641.90 618.74 L1642.40 618.65 L1642.90 618.55 L1643.40 618.44 L1643.90 618.34 L1644.40 618.24 L1644.90 618.15 L1645.40 618.09 L1645.90 618.06 L1646.40 618.08 L1646.90 618.15 L1647.40 618.26 L1647.90 618.39 L1648.40 618.52 L1648.90 618.66 L1649.40 618.78 L1649.90 618.88 L1650.40 618.96 L1650.90 619.03 L1651.40 619.07 L1651.90 619.10 L1652.40 619.12 L1652.90 619.13 L1653.40 619.14 L1653.90 619.14 L1654.40 619.14 L1654.90 619.14 L1655.40 619.14 L1655.90 619.14 L1656.40 619.13 L1656.90 619.12 L1657.40 619.10 L1657.90 619.06 L1658.40 619.02 L1658.90 618.95 L1659.40 618.86 L1659.90 618.76 L1660.40 618.63 L1660.90 618.50 L1661.40 618.38 L1661.90 618.30 L1662.40 618.28 L1662.90 618.35 L1663.40 618.49 L1663.90 618.66 L1664.40 618.82 L1664.90 618.95 L1665.40 619.04 L1665.90 619.10 L1666.40 619.14 L1666.90 619.16 L1667.40 619.16 L1667.90 619.17 L1668.40 619.17 L1668.90 619.17 L1669.40 619.17 L1669.90 619.17 L1670.40 619.17 L1670.90 619.16 L1671.40 619.16 L1671.90 619.15 L1672.40 619.15 L1672.90 619.14 L1673.40 619.12 L1673.90 619.10 L1674.40 619.07 L1674.90 619.03 L1675.40 618.97 L1675.90 618.90 L1676.40 618.81 L1676.90 618.71 L1677.40 618.59 L1677.90 618.47 L1678.40 618.34 L1678.90 618.23 L1679.40 618.14 L1679.90 618.10 L1680.40 618.13 L1680.90 618.23 L1681.40 618.37 L1681.90 618.53 L1682.40 618.69 L1682.90 618.84 L1683.40 618.96 L1683.90 619.04 L1684.40 619.11 L1684.90 619.15 L1685.40 619.17 L1685.90 619.18 L1686.40 619.19 L1686.90 619.19 L1687.40 619.20 L1687.90 619.20 L1688.40 619.20 L1688.90 619.20 L1689.40 619.20 L1689.90 619.20 L1690.40 619.20 L1690.90 619.20 L1691.40 619.19 L1691.90 619.19 L1692.40 619.19 L1692.90 619.18 L1693.40 619.18 L1693.90 619.17 L1694.40 619.15 L1694.90 619.13 L1695.40 619.10 L1695.90 619.06 L1696.40 619.01 L1696.90 618.95 L1697.40 618.88 L1697.90 618.79 L1698.40 618.70 L1698.90 618.60 L1699.40 618.52 L1699.90 618.45 L1700.40 618.41 L1700.90 618.42 L1701.40 618.47 L1701.90 618.56 L1702.40 618.67 L1702.90 618.77 L1703.40 618.85 L1703.90 618.89 L1704.40 618.89 L1704.90 618.85 L1705.40 618.77 L1705.90 618.66 L1706.40 618.53 L1706.90 618.40 L1707.40 618.29 L1707.90 618.24 L1708.40 618.27 L1708.90 618.40 L1709.40 618.58 L1709.90 618.77 L1710.40 618.93 L1710.90 619.05 L1711.40 619.14 L1711.90 619.19 L1712.40 619.21 L1712.90 619.23 L1713.40 619.23 L1713.90 619.24 L1714.40 619.24 L1714.90 619.24 L1715.40 619.24 L1715.90 619.24 L1716.40 619.24 L1716.90 619.24 L1717.40 619.25 L1717.90 619.25 L1718.40 619.25 L1718.90 619.25 L1719.40 619.25 L1719.90 619.25 L1720.40 619.25 L1720.90 619.25 L1721.40 619.25 L1721.90 619.25 L1722.40 619.25 L1722.90 619.25 L1723.40 619.25 L1723.90 619.25 L1724.40 619.25 L1724.90 619.25 L1725.40 619.25 L1725.90 619.24 L1726.40 619.24 L1726.90 619.24 L1727.40 619.24 L1727.90 619.23 L1728.40 619.23 L1728.90 619.22 L1729.40 619.21 L1729.90 619.19 L1730.40 619.17 L1730.90 619.15 L1731.40 619.12 L1731.90 619.07 L1732.40 619.03 L1732.90 618.97 L1733.40 618.90 L1733.90 618.83 L1734.40 618.75 L1734.90 618.68 L1735.40 618.60 L1735.90 618.54 L1736.40 618.50 L1736.90 618.48 L1737.40 618.49 L1737.90 618.54 L1738.40 618.62 L1738.90 618.72 L1739.40 618.82 L1739.90 618.92 L1740.40 619.00 L1740.90 619.08 L1741.40 619.14 L1741.90 619.19 L1742.40 619.22 L1742.90 619.24 L1743.40 619.26 L1743.90 619.27 L1744.40 619.28 L1744.90 619.28 L1745.40 619.28 L1745.90 619.28 L1746.40 619.29 L1746.90 619.29 L1747.40 619.29 L1747.90 619.29 L1748.40 619.29 L1748.90 619.29 L1749.40 619.29 L1749.90 619.29 L1750.40 619.29 L1750.90 619.29 L1751.40 619.29 L1751.90 619.30 L1752.40 619.30 L1752.90 619.30" fill="none" stroke="#c38cfd" stroke-width="2.2" stroke-linejoin="round" stroke-linecap="round"/>
<path d="M1021.40 204.20 L1021.90 204.19 L1022.40 204.19 L1022.90 204.19 L1023.40 204.19 L1023.90 204.19 L1024.40 204.19 L1024.90 204.19 L1025.40 204.19 L1025.90 204.19 L1026.40 204.19 L1026.90 204.19 L1027.40 204.19 L1027.90 204.19 L1028.40 204.18 L1028.90 204.18 L1029.40 204.18 L1029.90 204.18 L1030.40 204.18 L1030.90 204.18 L1031.40 204.17 L1031.90 204.17 L1032.40 204.17 L1032.90 204.17 L1033.40 204.16 L1033.90 204.16 L1034.40 204.16 L1034.90 204.16 L1035.40 204.15 L1035.90 204.15 L1036.40 204.15 L1036.90 204.14 L1037.40 204.14 L1037.90 204.14 L1038.40 204.13 L1038.90 204.13 L1039.40 204.12 L1039.90 204.12 L1040.40 204.11 L1040.90 204.11 L1041.40 204.10 L1041.90 204.09 L1042.40 204.09 L1042.90 204.08 L1043.40 204.07 L1043.90 204.05 L1044.40 204.03 L1044.90 204.00 L1045.40 203.95 L1045.90 203.87 L1046.40 203.73 L1046.90 203.52 L1047.40 203.22 L1047.90 202.85 L1048.40 202.43 L1048.90 202.04 L1049.40 201.80 L1049.90 201.85 L1050.40 202.23 L1050.90 202.75 L1051.40 203.25 L1051.90 203.62 L1052.40 203.84 L1052.90 203.96 L1053.40 204.00 L1053.90 204.02 L1054.40 204.02 L1054.90 204.02 L1055.40 204.02 L1055.90 204.02 L1056.40 204.02 L1056.90 204.01 L1057.40 204.01 L1057.90 204.01 L1058.40 204.00 L1058.90 204.00 L1059.40 204.00 L1059.90 203.99 L1060.40 203.99 L1060.90 203.98 L1061.40 203.98 L1061.90 203.97 L1062.40 203.96 L1062.90 203.96 L1063.40 203.95 L1063.90 203.94 L1064.40 203.93 L1064.90 203.92 L1065.40 203.91 L1065.90 203.90 L1066.40 203.89 L1066.90 203.88 L1067.40 203.87 L1067.90 203.85 L1068.40 203.84 L1068.90 203.83 L1069.40 203.81 L1069.90 203.80 L1070.40 203.78 L1070.90 203.77 L1071.40 203.75 L1071.90 203.74 L1072.40 203.72 L1072.90 203.70 L1073.40 203.69 L1073.90 203.67 L1074.40 203.65 L1074.90 203.63 L1075.40 203.62 L1075.90 203.60 L1076.40 203.58 L1076.90 203.56 L1077.40 203.54 L1077.90 203.52 L1078.40 203.50 L1078.90 203.48 L1079.40 203.46 L1079.90 203.44 L1080.40 203.42 L1080.90 203.40 L1081.40 203.38 L1081.90 203.36 L1082.40 203.34 L1082.90 203.31 L1083.40 203.29 L1083.90 203.27 L1084.40 203.25 L1084.90 203.23 L1085.40 203.21 L1085.90 203.18 L1086.40 203.16 L1086.90 203.14 L1087.40 203.12 L1087.90 203.10 L1088.40 203.08 L1088.90 203.05 L1089.40 203.03 L1089.90 203.01 L1090.40 202.99 L1090.90 202.97 L1091.40 202.95 L1091.90 202.92 L1092.40 202.90 L1092.90 202.88 L1093.40 202.86 L1093.90 202.84 L1094.40 202.82 L1094.90 202.80 L1095.40 202.78 L1095.90 202.76 L1096.40 202.73 L1096.90 202.71 L1097.40 202.69 L1097.90 202.67 L1098.40 202.65 L1098.90 202.64 L1099.40 202.62 L1099.90 202.60 L1100.40 202.58 L1100.90 202.56 L1101.40 202.54 L1101.90 202.52 L1102.40 202.50 L1102.90 202.48 L1103.40 202.47 L1103.90 202.45 L1104.40 202.43 L1104.90 202.41 L1105.40 202.40 L1105.90 202.38 L1106.40 202.36 L1106.90 202.35 L1107.40 202.33 L1107.90 202.31 L1108.40 202.29 L1108.90 202.28 L1109.40 202.26 L1109.90 202.24 L1110.40 202.22 L1110.90 202.20 L1111.40 202.18 L1111.90 202.16 L1112.40 202.13 L1112.90 202.11 L1113.40 202.08 L1113.90 202.05 L1114.40 202.01 L1114.90 201.97 L1115.40 201.92 L1115.90 201.86 L1116.40 201.78 L1116.90 201.69 L1117.40 201.57 L1117.90 201.41 L1118.40 201.15 L1118.90 200.72 L1119.40 199.94 L1119.90 198.54 L1120.40 196.22 L1120.90 192.76 L1121.40 188.30 L1121.90 183.66 L1122.40 180.92 L1122.90 182.60 L1123.40 188.09 L1123.90 194.08 L1124.40 198.44 L1124.90 200.79 L1125.40 201.77 L1125.90 202.11 L1126.40 202.23 L1126.90 202.28 L1127.40 202.31 L1127.90 202.34 L1128.40 202.37 L1128.90 202.39 L1129.40 202.41 L1129.90 202.42 L1130.40 202.44 L1130.90 202.46 L1131.40 202.47 L1131.90 202.49 L1132.40 202.50 L1132.90 202.52 L1133.40 202.53 L1133.90 202.55 L1134.40 202.56 L1134.90 202.57 L1135.40 202.59 L1135.90 202.60 L1136.40 202.61 L1136.90 202.63 L1137.40 202.64 L1137.90 202.65 L1138.40 202.66 L1138.90 202.67 L1139.40 202.67 L1139.90 202.67 L1140.40 202.65 L1140.90 202.61 L1141.40 202.53 L1141.90 202.39 L1142.40 202.18 L1142.90 201.87 L1143.40 201.48 L1143.90 201.07 L1144.40 200.70 L1144.90 200.52 L1145.40 200.66 L1145.90 201.13 L1146.40 201.70 L1146.90 202.22 L1147.40 202.59 L1147.90 202.81 L1148.40 202.93 L1148.90 202.99 L1149.40 203.02 L1149.90 203.04 L1150.40 203.06 L1150.90 203.08 L1151.40 203.09 L1151.90 203.11 L1152.40 203.12 L1152.90 203.13 L1153.40 203.14 L1153.90 203.16 L1154.40 203.17 L1154.90 203.18 L1155.40 203.19 L1155.90 203.20 L1156.40 203.21 L1156.90 203.22 L1157.40 203.23 L1157.90 203.24 L1158.40 203.24 L1158.90 203.25 L1159.40 203.26 L1159.90 203.26 L1160.40 203.27 L1160.90 203.28 L1161.40 203.28 L1161.90 203.28 L1162.40 203.29 L1162.90 203.29 L1163.40 203.29 L1163.90 203.30 L1164.40 203.30 L1164.90 203.30 L1165.40 203.30 L1165.90 203.30 L1166.40 203.30 L1166.90 203.30 L1167.40 203.30 L1167.90 203.30 L1168.40 203.30 L1168.90 203.30 L1169.40 203.30 L1169.90 203.30 L1170.40 203.30 L1170.90 203.30 L1171.40 203.30 L1171.90 203.30 L1172.40 203.30 L1172.90 203.30 L1173.40 203.30 L1173.90 203.30 L1174.40 203.30 L1174.90 203.30 L1175.40 203.30 L1175.90 203.30 L1176.40 203.30 L1176.90 203.30 L1177.40 203.30 L1177.90 203.30 L1178.40 203.30 L1178.90 203.30 L1179.40 203.30 L1179.90 203.30 L1180.40 203.30 L1180.90 203.30 L1181.40 203.30 L1181.90 203.30 L1182.40 203.30 L1182.90 203.30 L1183.40 203.30 L1183.90 203.30 L1184.40 203.30 L1184.90 203.30 L1185.40 203.30 L1185.90 203.30 L1186.40 203.30 L1186.90 203.30 L1187.40 203.30 L1187.90 203.30 L1188.40 203.30 L1188.90 203.30 L1189.40 203.30 L1189.90 203.30 L1190.40 203.30 L1190.90 203.30 L1191.40 203.30 L1191.90 203.30 L1192.40 203.30 L1192.90 203.30 L1193.40 203.30 L1193.90 203.30 L1194.40 203.30 L1194.90 203.30 L1195.40 203.30 L1195.90 203.30 L1196.40 203.30 L1196.90 203.30 L1197.40 203.30 L1197.90 203.30 L1198.40 203.30 L1198.90 203.30 L1199.40 203.30 L1199.90 203.30 L1200.40 203.30 L1200.90 203.30 L1201.40 203.29 L1201.90 203.29 L1202.40 203.28 L1202.90 203.28 L1203.40 203.27 L1203.90 203.26 L1204.40 203.25 L1204.90 203.24 L1205.40 203.23 L1205.90 203.22 L1206.40 203.21 L1206.90 203.19 L1207.40 203.18 L1207.90 203.16 L1208.40 203.15 L1208.90 203.13 L1209.40 203.11 L1209.90 203.09 L1210.40 203.08 L1210.90 203.06 L1211.40 203.04 L1211.90 203.02 L1212.40 203.00 L1212.90 202.98 L1213.40 202.96 L1213.90 202.94 L1214.40 202.92 L1214.90 202.90 L1215.40 202.87 L1215.90 202.85 L1216.40 202.83 L1216.90 202.81 L1217.40 202.79 L1217.90 202.77 L1218.40 202.75 L1218.90 202.73 L1219.40 202.71 L1219.90 202.69 L1220.40 202.67 L1220.90 202.65 L1221.40 202.63 L1221.90 202.61 L1222.40 202.59 L1222.90 202.58 L1223.40 202.56 L1223.90 202.54 L1224.40 202.53 L1224.90 202.51 L1225.40 202.50 L1225.90 202.48 L1226.40 202.47 L1226.90 202.46 L1227.40 202.45 L1227.90 202.44 L1228.40 202.43 L1228.90 202.42 L1229.40 202.42 L1229.90 202.41 L1230.40 202.41 L1230.90 202.40 L1231.40 202.40 L1231.90 202.40 L1232.40 202.40 L1232.90 202.40 L1233.40 202.40 L1233.90 202.41 L1234.40 202.41 L1234.90 202.42 L1235.40 202.42 L1235.90 202.43 L1236.40 202.44 L1236.90 202.45 L1237.40 202.46 L1237.90 202.47 L1238.40 202.48 L1238.90 202.50 L1239.40 202.51 L1239.90 202.53 L1240.40 202.54 L1240.90 202.56 L1241.40 202.57 L1241.90 202.59 L1242.40 202.60 L1242.90 202.62 L1243.40 202.64 L1243.90 202.66 L1244.40 202.68 L1244.90 202.69 L1245.40 202.71 L1245.90 202.73 L1246.40 202.75 L1246.90 202.77 L1247.40 202.79 L1247.90 202.81 L1248.40 202.83 L1248.90 202.85 L1249.40 202.87 L1249.90 202.89 L1250.40 202.91 L1250.90 202.92 L1251.40 202.94 L1251.90 202.96 L1252.40 202.98 L1252.90 203.00 L1253.40 203.02 L1253.90 203.03 L1254.40 203.05 L1254.90 203.07 L1255.40 203.08 L1255.90 203.10 L1256.40 203.11 L1256.90 203.12 L1257.40 203.14 L1257.90 203.15 L1258.40 203.16 L1258.90 203.17 L1259.40 203.18 L1259.90 203.19 L1260.40 203.20 L1260.90 203.21 L1261.40 203.22 L1261.90 203.23 L1262.40 203.23 L1262.90 203.24 L1263.40 203.25 L1263.90 203.26 L1264.40 203.27 L1264.90 203.27 L1265.40 203.28 L1265.90 203.29 L1266.40 203.30 L1266.90 203.30 L1267.40 203.31 L1267.90 203.31 L1268.40 203.32 L1268.90 203.32 L1269.40 203.31 L1269.90 203.30 L1270.40 203.27 L1270.90 203.21 L1271.40 203.11 L1271.90 202.97 L1272.40 202.77 L1272.90 202.55 L1273.40 202.35 L1273.90 202.24 L1274.40 202.32 L1274.90 202.58 L1275.40 202.89 L1275.90 203.15 L1276.40 203.32 L1276.90 203.42 L1277.40 203.46 L1277.90 203.49 L1278.40 203.50 L1278.90 203.51 L1279.40 203.52 L1279.90 203.53 L1280.40 203.53 L1280.90 203.54 L1281.40 203.55 L1281.90 203.55 L1282.40 203.56 L1282.90 203.57 L1283.40 203.57 L1283.90 203.58 L1284.40 203.58 L1284.90 203.58 L1285.40 203.59 L1285.90 203.59 L1286.40 203.59 L1286.90 203.60 L1287.40 203.60 L1287.90 203.59 L1288.40 203.58 L1288.90 203.57 L1289.40 203.53 L1289.90 203.46 L1290.40 203.35 L1290.90 203.18 L1291.40 202.96 L1291.90 202.72 L1292.40 202.50 L1292.90 202.38 L1293.40 202.46 L1293.90 202.73 L1294.40 203.06 L1294.90 203.33 L1295.40 203.52 L1295.90 203.61 L1296.40 203.66 L1296.90 203.68 L1297.40 203.69 L1297.90 203.69 L1298.40 203.69 L1298.90 203.69 L1299.40 203.69 L1299.90 203.70 L1300.40 203.70 L1300.90 203.70 L1301.40 203.70 L1301.90 203.70 L1302.40 203.70 L1302.90 203.70 L1303.40 203.70 L1303.90 203.70 L1304.40 203.69 L1304.90 203.69 L1305.40 203.69 L1305.90 203.69 L1306.40 203.69 L1306.90 203.69 L1307.40 203.69 L1307.90 203.69 L1308.40 203.69 L1308.90 203.69 L1309.40 203.68 L1309.90 203.68 L1310.40 203.68 L1310.90 203.68 L1311.40 203.68 L1311.90 203.68 L1312.40 203.68 L1312.90 203.67 L1313.40 203.67 L1313.90 203.67 L1314.40 203.67 L1314.90 203.67 L1315.40 203.67 L1315.90 203.66 L1316.40 203.66 L1316.90 203.66 L1317.40 203.66 L1317.90 203.66 L1318.40 203.65 L1318.90 203.65 L1319.40 203.65 L1319.90 203.65 L1320.40 203.65 L1320.90 203.65 L1321.40 203.64 L1321.90 203.64 L1322.40 203.64 L1322.90 203.64 L1323.40 203.64 L1323.90 203.63 L1324.40 203.63 L1324.90 203.63 L1325.40 203.63 L1325.90 203.63 L1326.40 203.62 L1326.90 203.62 L1327.40 203.62 L1327.90 203.62 L1328.40 203.62 L1328.90 203.62 L1329.40 203.61 L1329.90 203.61 L1330.40 203.61 L1330.90 203.61 L1331.40 203.61 L1331.90 203.61 L1332.40 203.61 L1332.90 203.60 L1333.40 203.60 L1333.90 203.60 L1334.40 203.60 L1334.90 203.60 L1335.40 203.60 L1335.90 203.60 L1336.40 203.59 L1336.90 203.59 L1337.40 203.59 L1337.90 203.59 L1338.40 203.59 L1338.90 203.58 L1339.40 203.58 L1339.90 203.57 L1340.40 203.56 L1340.90 203.54 L1341.40 203.50 L1341.90 203.45 L1342.40 203.37 L1342.90 203.28 L1343.40 203.17 L1343.90 203.07 L1344.40 203.01 L1344.90 203.02 L1345.40 203.12 L1345.90 203.26 L1346.40 203.39 L1346.90 203.49 L1347.40 203.55 L1347.90 203.58 L1348.40 203.59 L1348.90 203.60 L1349.40 203.60 L1349.90 203.60 L1350.40 203.60 L1350.90 203.60 L1351.40 203.60 L1351.90 203.60 L1352.40 203.60 L1352.90 203.60 L1353.40 203.60 L1353.90 203.60 L1354.40 203.60 L1354.90 203.60 L1355.40 203.60 L1355.90 203.61 L1356.40 203.61 L1356.90 203.61 L1357.40 203.61 L1357.90 203.61 L1358.40 203.61 L1358.90 203.61 L1359.40 203.61 L1359.90 203.61 L1360.40 203.61 L1360.90 203.61 L1361.40 203.61 L1361.90 203.61 L1362.40 203.61 L1362.90 203.61 L1363.40 203.61 L1363.90 203.61 L1364.40 203.61 L1364.90 203.61 L1365.40 203.61 L1365.90 203.62 L1366.40 203.62 L1366.90 203.62 L1367.40 203.62 L1367.90 203.62 L1368.40 203.62 L1368.90 203.62 L1369.40 203.62 L1369.90 203.62 L1370.40 203.62 L1370.90 203.62 L1371.40 203.62 L1371.90 203.62 L1372.40 203.62 L1372.90 203.62 L1373.40 203.63 L1373.90 203.63 L1374.40 203.63 L1374.90 203.63 L1375.40 203.63 L1375.90 203.63 L1376.40 203.63 L1376.90 203.63 L1377.40 203.63 L1377.90 203.63 L1378.40 203.63 L1378.90 203.63 L1379.40 203.63 L1379.90 203.64 L1380.40 203.64 L1380.90 203.64 L1381.40 203.64 L1381.90 203.64 L1382.40 203.64 L1382.90 203.64 L1383.40 203.64 L1383.90 203.64 L1384.40 203.64 L1384.90 203.64 L1385.40 203.64 L1385.90 203.65 L1386.40 203.65 L1386.90 203.65 L1387.40 203.65 L1387.90 203.65 L1388.40 203.65 L1388.90 203.65 L1389.40 203.65 L1389.90 203.65 L1390.40 203.65 L1390.90 203.66 L1391.40 203.66 L1391.90 203.66 L1392.40 203.66 L1392.90 203.66 L1393.40 203.66 L1393.90 203.66 L1394.40 203.66 L1394.90 203.66 L1395.40 203.66 L1395.90 203.67 L1396.40 203.67 L1396.90 203.67 L1397.40 203.67 L1397.90 203.67 L1398.40 203.67 L1398.90 203.67 L1399.40 203.67 L1399.90 203.67 L1400.40 203.67 L1400.90 203.68 L1401.40 203.68 L1401.90 203.68 L1402.40 203.68 L1402.90 203.68 L1403.40 203.68 L1403.90 203.68 L1404.40 203.68 L1404.90 203.68 L1405.40 203.69 L1405.90 203.69 L1406.40 203.69 L1406.90 203.69 L1407.40 203.69 L1407.90 203.69 L1408.40 203.69 L1408.90 203.69 L1409.40 203.70 L1409.90 203.70 L1410.40 203.70 L1410.90 203.70 L1411.40 203.70 L1411.90 203.70 L1412.40 203.70 L1412.90 203.70 L1413.40 203.70 L1413.90 203.71 L1414.40 203.71 L1414.90 203.71 L1415.40 203.71 L1415.90 203.71 L1416.40 203.71 L1416.90 203.71 L1417.40 203.71 L1417.90 203.72 L1418.40 203.72 L1418.90 203.72 L1419.40 203.72 L1419.90 203.72 L1420.40 203.72 L1420.90 203.72 L1421.40 203.72 L1421.90 203.73 L1422.40 203.73 L1422.90 203.73 L1423.40 203.73 L1423.90 203.73 L1424.40 203.73 L1424.90 203.73 L1425.40 203.73 L1425.90 203.73 L1426.40 203.74 L1426.90 203.74 L1427.40 203.74 L1427.90 203.74 L1428.40 203.74 L1428.90 203.74 L1429.40 203.74 L1429.90 203.74 L1430.40 203.75 L1430.90 203.75 L1431.40 203.75 L1431.90 203.75 L1432.40 203.75 L1432.90 203.75 L1433.40 203.75 L1433.90 203.75 L1434.40 203.76 L1434.90 203.76 L1435.40 203.76 L1435.90 203.76 L1436.40 203.76 L1436.90 203.76 L1437.40 203.76 L1437.90 203.77 L1438.40 203.77 L1438.90 203.77 L1439.40 203.77 L1439.90 203.77 L1440.40 203.77 L1440.90 203.77 L1441.40 203.77 L1441.90 203.78 L1442.40 203.78 L1442.90 203.78 L1443.40 203.78 L1443.90 203.78 L1444.40 203.78 L1444.90 203.78 L1445.40 203.78 L1445.90 203.79 L1446.40 203.79 L1446.90 203.79 L1447.40 203.79 L1447.90 203.79 L1448.40 203.79 L1448.90 203.79 L1449.40 203.79 L1449.90 203.80 L1450.40 203.80 L1450.90 203.80 L1451.40 203.80 L1451.90 203.80 L1452.40 203.80 L1452.90 203.80 L1453.40 203.80 L1453.90 203.81 L1454.40 203.81 L1454.90 203.81 L1455.40 203.81 L1455.90 203.81 L1456.40 203.81 L1456.90 203.81 L1457.40 203.81 L1457.90 203.81 L1458.40 203.82 L1458.90 203.82 L1459.40 203.82 L1459.90 203.82 L1460.40 203.82 L1460.90 203.82 L1461.40 203.82 L1461.90 203.82 L1462.40 203.83 L1462.90 203.83 L1463.40 203.83 L1463.90 203.83 L1464.40 203.83 L1464.90 203.83 L1465.40 203.83 L1465.90 203.83 L1466.40 203.83 L1466.90 203.84 L1467.40 203.84 L1467.90 203.84 L1468.40 203.84 L1468.90 203.84 L1469.40 203.84 L1469.90 203.84 L1470.40 203.84 L1470.90 203.85 L1471.40 203.85 L1471.90 203.85 L1472.40 203.85 L1472.90 203.85 L1473.40 203.85 L1473.90 203.85 L1474.40 203.85 L1474.90 203.85 L1475.40 203.85 L1475.90 203.86 L1476.40 203.86 L1476.90 203.86 L1477.40 203.86 L1477.90 203.86 L1478.40 203.86 L1478.90 203.86 L1479.40 203.86 L1479.90 203.86 L1480.40 203.87 L1480.90 203.87 L1481.40 203.87 L1481.90 203.87 L1482.40 203.87 L1482.90 203.87 L1483.40 203.87 L1483.90 203.87 L1484.40 203.87 L1484.90 203.87 L1485.40 203.88 L1485.90 203.88 L1486.40 203.88 L1486.90 203.88 L1487.40 203.88 L1487.90 203.88 L1488.40 203.88 L1488.90 203.88 L1489.40 203.88 L1489.90 203.88 L1490.40 203.88 L1490.90 203.89 L1491.40 203.89 L1491.90 203.89 L1492.40 203.89 L1492.90 203.89 L1493.40 203.89 L1493.90 203.89 L1494.40 203.89 L1494.90 203.89 L1495.40 203.89 L1495.90 203.89 L1496.40 203.89 L1496.90 203.90 L1497.40 203.90 L1497.90 203.90 L1498.40 203.90 L1498.90 203.90 L1499.40 203.90 L1499.90 203.90 L1500.40 203.90 L1500.90 203.90 L1501.40 203.90 L1501.90 203.90 L1502.40 203.90 L1502.90 203.90 L1503.40 203.90 L1503.90 203.91 L1504.40 203.91 L1504.90 203.91 L1505.40 203.91 L1505.90 203.91 L1506.40 203.91 L1506.90 203.91 L1507.40 203.91 L1507.90 203.91 L1508.40 203.91 L1508.90 203.91 L1509.40 203.91 L1509.90 203.91 L1510.40 203.92 L1510.90 203.92 L1511.40 203.92 L1511.90 203.92 L1512.40 203.92 L1512.90 203.92 L1513.40 203.92 L1513.90 203.92 L1514.40 203.92 L1514.90 203.92 L1515.40 203.92 L1515.90 203.92 L1516.40 203.92 L1516.90 203.92 L1517.40 203.93 L1517.90 203.93 L1518.40 203.93 L1518.90 203.93 L1519.40 203.93 L1519.90 203.93 L1520.40 203.93 L1520.90 203.93 L1521.40 203.93 L1521.90 203.93 L1522.40 203.93 L1522.90 203.93 L1523.40 203.93 L1523.90 203.93 L1524.40 203.94 L1524.90 203.94 L1525.40 203.94 L1525.90 203.94 L1526.40 203.94 L1526.90 203.94 L1527.40 203.94 L1527.90 203.94 L1528.40 203.94 L1528.90 203.94 L1529.40 203.94 L1529.90 203.94 L1530.40 203.94 L1530.90 203.94 L1531.40 203.95 L1531.90 203.95 L1532.40 203.95 L1532.90 203.95 L1533.40 203.95 L1533.90 203.95 L1534.40 203.95 L1534.90 203.95 L1535.40 203.95 L1535.90 203.95 L1536.40 203.95 L1536.90 203.95 L1537.40 203.95 L1537.90 203.95 L1538.40 203.96 L1538.90 203.96 L1539.40 203.96 L1539.90 203.96 L1540.40 203.96 L1540.90 203.96 L1541.40 203.96 L1541.90 203.96 L1542.40 203.96 L1542.90 203.96 L1543.40 203.96 L1543.90 203.96 L1544.40 203.96 L1544.90 203.96 L1545.40 203.97 L1545.90 203.97 L1546.40 203.97 L1546.90 203.97 L1547.40 203.97 L1547.90 203.97 L1548.40 203.97 L1548.90 203.97 L1549.40 203.97 L1549.90 203.97 L1550.40 203.97 L1550.90 203.97 L1551.40 203.97 L1551.90 203.97 L1552.40 203.98 L1552.90 203.98 L1553.40 203.98 L1553.90 203.98 L1554.40 203.98 L1554.90 203.98 L1555.40 203.98 L1555.90 203.98 L1556.40 203.98 L1556.90 203.98 L1557.40 203.98 L1557.90 203.98 L1558.40 203.98 L1558.90 203.98 L1559.40 203.99 L1559.90 203.99 L1560.40 203.99 L1560.90 203.99 L1561.40 203.99 L1561.90 203.99 L1562.40 203.99 L1562.90 203.99 L1563.40 203.99 L1563.90 203.99 L1564.40 203.99 L1564.90 203.99 L1565.40 203.99 L1565.90 203.99 L1566.40 203.99 L1566.90 204.00 L1567.40 204.00 L1567.90 204.00 L1568.40 204.00 L1568.90 204.00 L1569.40 204.00 L1569.90 204.00 L1570.40 204.00 L1570.90 204.00 L1571.40 204.00 L1571.90 204.00 L1572.40 204.00 L1572.90 204.00 L1573.40 204.00 L1573.90 204.00 L1574.40 204.01 L1574.90 204.01 L1575.40 204.01 L1575.90 204.01 L1576.40 204.01 L1576.90 204.01 L1577.40 204.01 L1577.90 204.01 L1578.40 204.01 L1578.90 204.01 L1579.40 204.01 L1579.90 204.01 L1580.40 204.01 L1580.90 204.01 L1581.40 204.01 L1581.90 204.02 L1582.40 204.02 L1582.90 204.02 L1583.40 204.02 L1583.90 204.02 L1584.40 204.02 L1584.90 204.02 L1585.40 204.02 L1585.90 204.02 L1586.40 204.02 L1586.90 204.02 L1587.40 204.02 L1587.90 204.02 L1588.40 204.02 L1588.90 204.02 L1589.40 204.03 L1589.90 204.03 L1590.40 204.03 L1590.90 204.03 L1591.40 204.03 L1591.90 204.03 L1592.40 204.03 L1592.90 204.03 L1593.40 204.03 L1593.90 204.03 L1594.40 204.03 L1594.90 204.03 L1595.40 204.03 L1595.90 204.03 L1596.40 204.03 L1596.90 204.04 L1597.40 204.04 L1597.90 204.04 L1598.40 204.04 L1598.90 204.04 L1599.40 204.04 L1599.90 204.04 L1600.40 204.04 L1600.90 204.04 L1601.40 204.04 L1601.90 204.04 L1602.40 204.04 L1602.90 204.04 L1603.40 204.04 L1603.90 204.04 L1604.40 204.04 L1604.90 204.05 L1605.40 204.05 L1605.90 204.05 L1606.40 204.05 L1606.90 204.05 L1607.40 204.05 L1607.90 204.05 L1608.40 204.05 L1608.90 204.05 L1609.40 204.05 L1609.90 204.05 L1610.40 204.05 L1610.90 204.05 L1611.40 204.05 L1611.90 204.05 L1612.40 204.06 L1612.90 204.06 L1613.40 204.06 L1613.90 204.06 L1614.40 204.06 L1614.90 204.06 L1615.40 204.06 L1615.90 204.06 L1616.40 204.06 L1616.90 204.06 L1617.40 204.06 L1617.90 204.06 L1618.40 204.06 L1618.90 204.06 L1619.40 204.06 L1619.90 204.06 L1620.40 204.07 L1620.90 204.07 L1621.40 204.07 L1621.90 204.07 L1622.40 204.07 L1622.90 204.07 L1623.40 204.07 L1623.90 204.07 L1624.40 204.07 L1624.90 204.07 L1625.40 204.07 L1625.90 204.07 L1626.40 204.07 L1626.90 204.07 L1627.40 204.07 L1627.90 204.07 L1628.40 204.07 L1628.90 204.08 L1629.40 204.08 L1629.90 204.08 L1630.40 204.08 L1630.90 204.08 L1631.40 204.08 L1631.90 204.08 L1632.40 204.08 L1632.90 204.08 L1633.40 204.08 L1633.90 204.08 L1634.40 204.08 L1634.90 204.08 L1635.40 204.08 L1635.90 204.08 L1636.40 204.08 L1636.90 204.09 L1637.40 204.09 L1637.90 204.09 L1638.40 204.09 L1638.90 204.09 L1639.40 204.09 L1639.90 204.09 L1640.40 204.09 L1640.90 204.09 L1641.40 204.09 L1641.90 204.09 L1642.40 204.09 L1642.90 204.09 L1643.40 204.09 L1643.90 204.09 L1644.40 204.09 L1644.90 204.09 L1645.40 204.10 L1645.90 204.10 L1646.40 204.10 L1646.90 204.10 L1647.40 204.10 L1647.90 204.10 L1648.40 204.10 L1648.90 204.10 L1649.40 204.10 L1649.90 204.10 L1650.40 204.10 L1650.90 204.10 L1651.40 204.10 L1651.90 204.10 L1652.40 204.10 L1652.90 204.10 L1653.40 204.10 L1653.90 204.10 L1654.40 204.11 L1654.90 204.11 L1655.40 204.11 L1655.90 204.11 L1656.40 204.11 L1656.90 204.11 L1657.40 204.11 L1657.90 204.11 L1658.40 204.11 L1658.90 204.11 L1659.40 204.11 L1659.90 204.11 L1660.40 204.11 L1660.90 204.11 L1661.40 204.11 L1661.90 204.11 L1662.40 204.11 L1662.90 204.11 L1663.40 204.12 L1663.90 204.12 L1664.40 204.12 L1664.90 204.12 L1665.40 204.12 L1665.90 204.12 L1666.40 204.12 L1666.90 204.12 L1667.40 204.12 L1667.90 204.12 L1668.40 204.12 L1668.90 204.12 L1669.40 204.12 L1669.90 204.12 L1670.40 204.12 L1670.90 204.12 L1671.40 204.12 L1671.90 204.12 L1672.40 204.13 L1672.90 204.13 L1673.40 204.13 L1673.90 204.13 L1674.40 204.13 L1674.90 204.13 L1675.40 204.13 L1675.90 204.13 L1676.40 204.13 L1676.90 204.13 L1677.40 204.13 L1677.90 204.13 L1678.40 204.13 L1678.90 204.13 L1679.40 204.13 L1679.90 204.13 L1680.40 204.13 L1680.90 204.13 L1681.40 204.13 L1681.90 204.14 L1682.40 204.14 L1682.90 204.14 L1683.40 204.14 L1683.90 204.14 L1684.40 204.14 L1684.90 204.14 L1685.40 204.14 L1685.90 204.14 L1686.40 204.14 L1686.90 204.14 L1687.40 204.14 L1687.90 204.14 L1688.40 204.14 L1688.90 204.14 L1689.40 204.14 L1689.90 204.14 L1690.40 204.14 L1690.90 204.14 L1691.40 204.15 L1691.90 204.15 L1692.40 204.15 L1692.90 204.15 L1693.40 204.15 L1693.90 204.15 L1694.40 204.15 L1694.90 204.15 L1695.40 204.15 L1695.90 204.15 L1696.40 204.15 L1696.90 204.15 L1697.40 204.15 L1697.90 204.15 L1698.40 204.15 L1698.90 204.15 L1699.40 204.15 L1699.90 204.15 L1700.40 204.15 L1700.90 204.15 L1701.40 204.16 L1701.90 204.16 L1702.40 204.16 L1702.90 204.16 L1703.40 204.16 L1703.90 204.16 L1704.40 204.16 L1704.90 204.16 L1705.40 204.16 L1705.90 204.16 L1706.40 204.16 L1706.90 204.16 L1707.40 204.16 L1707.90 204.16 L1708.40 204.16 L1708.90 204.16 L1709.40 204.16 L1709.90 204.16 L1710.40 204.16 L1710.90 204.16 L1711.40 204.16 L1711.90 204.17 L1712.40 204.17 L1712.90 204.17 L1713.40 204.17 L1713.90 204.17 L1714.40 204.17 L1714.90 204.17 L1715.40 204.17 L1715.90 204.17 L1716.40 204.17 L1716.90 204.17 L1717.40 204.17 L1717.90 204.17 L1718.40 204.17 L1718.90 204.17 L1719.40 204.17 L1719.90 204.17 L1720.40 204.17 L1720.90 204.17 L1721.40 204.17 L1721.90 204.17 L1722.40 204.17 L1722.90 204.18 L1723.40 204.18 L1723.90 204.18 L1724.40 204.18 L1724.90 204.18 L1725.40 204.18 L1725.90 204.18 L1726.40 204.18 L1726.90 204.18 L1727.40 204.18 L1727.90 204.18 L1728.40 204.18 L1728.90 204.18 L1729.40 204.18 L1729.90 204.18 L1730.40 204.18 L1730.90 204.18 L1731.40 204.18 L1731.90 204.18 L1732.40 204.18 L1732.90 204.18 L1733.40 204.18 L1733.90 204.18 L1734.40 204.19 L1734.90 204.19 L1735.40 204.19 L1735.90 204.19 L1736.40 204.19 L1736.90 204.19 L1737.40 204.19 L1737.90 204.19 L1738.40 204.19 L1738.90 204.19 L1739.40 204.19 L1739.90 204.19 L1740.40 204.19 L1740.90 204.19 L1741.40 204.19 L1741.90 204.19 L1742.40 204.19 L1742.90 204.19 L1743.40 204.19 L1743.90 204.19 L1744.40 204.19 L1744.90 204.19 L1745.40 204.19 L1745.90 204.19 L1746.40 204.19 L1746.90 204.20 L1747.40 204.20 L1747.90 204.20 L1748.40 204.20 L1748.90 204.20 L1749.40 204.20 L1749.90 204.20 L1750.40 204.20 L1750.90 204.20 L1751.40 204.20 L1751.90 204.20 L1752.40 204.20 L1752.90 204.20" fill="none" stroke="#52b580" stroke-width="2.2" stroke-linejoin="round" stroke-linecap="round"/>
<path d="M1021.40 158.10 L1021.90 158.10 L1022.40 158.10 L1022.90 158.10 L1023.40 158.10 L1023.90 158.10 L1024.40 158.10 L1024.90 158.10 L1025.40 158.10 L1025.90 158.09 L1026.40 158.09 L1026.90 158.09 L1027.40 158.09 L1027.90 158.09 L1028.40 158.09 L1028.90 158.09 L1029.40 158.09 L1029.90 158.09 L1030.40 158.09 L1030.90 158.09 L1031.40 158.09 L1031.90 158.09 L1032.40 158.08 L1032.90 158.08 L1033.40 158.08 L1033.90 158.08 L1034.40 158.08 L1034.90 158.08 L1035.40 158.08 L1035.90 158.07 L1036.40 158.07 L1036.90 158.07 L1037.40 158.07 L1037.90 158.07 L1038.40 158.06 L1038.90 158.06 L1039.40 158.06 L1039.90 158.06 L1040.40 158.05 L1040.90 158.05 L1041.40 158.05 L1041.90 158.04 L1042.40 158.04 L1042.90 158.03 L1043.40 158.02 L1043.90 158.01 L1044.40 158.00 L1044.90 157.98 L1045.40 157.95 L1045.90 157.89 L1046.40 157.79 L1046.90 157.65 L1047.40 157.44 L1047.90 157.18 L1048.40 156.89 L1048.90 156.62 L1049.40 156.46 L1049.90 156.49 L1050.40 156.75 L1050.90 157.12 L1051.40 157.47 L1051.90 157.73 L1052.40 157.88 L1052.90 157.96 L1053.40 157.99 L1053.90 158.01 L1054.40 158.01 L1054.90 158.01 L1055.40 158.01 L1055.90 158.01 L1056.40 158.01 L1056.90 158.01 L1057.40 158.01 L1057.90 158.00 L1058.40 158.00 L1058.90 158.00 L1059.40 158.00 L1059.90 158.00 L1060.40 157.99 L1060.90 157.99 L1061.40 157.99 L1061.90 157.98 L1062.40 157.98 L1062.90 157.97 L1063.40 157.96 L1063.90 157.96 L1064.40 157.95 L1064.90 157.94 L1065.40 157.93 L1065.90 157.92 L1066.40 157.91 L1066.90 157.90 L1067.40 157.88 L1067.90 157.87 L1068.40 157.86 L1068.90 157.84 L1069.40 157.83 L1069.90 157.81 L1070.40 157.80 L1070.90 157.78 L1071.40 157.77 L1071.90 157.75 L1072.40 157.73 L1072.90 157.71 L1073.40 157.69 L1073.90 157.68 L1074.40 157.66 L1074.90 157.64 L1075.40 157.62 L1075.90 157.60 L1076.40 157.58 L1076.90 157.56 L1077.40 157.53 L1077.90 157.51 L1078.40 157.49 L1078.90 157.47 L1079.40 157.45 L1079.90 157.42 L1080.40 157.40 L1080.90 157.38 L1081.40 157.35 L1081.90 157.33 L1082.40 157.31 L1082.90 157.28 L1083.40 157.26 L1083.90 157.24 L1084.40 157.21 L1084.90 157.19 L1085.40 157.16 L1085.90 157.14 L1086.40 157.11 L1086.90 157.09 L1087.40 157.06 L1087.90 157.04 L1088.40 157.02 L1088.90 156.99 L1089.40 156.97 L1089.90 156.94 L1090.40 156.92 L1090.90 156.89 L1091.40 156.87 L1091.90 156.84 L1092.40 156.82 L1092.90 156.80 L1093.40 156.77 L1093.90 156.75 L1094.40 156.72 L1094.90 156.70 L1095.40 156.68 L1095.90 156.65 L1096.40 156.63 L1096.90 156.61 L1097.40 156.59 L1097.90 156.56 L1098.40 156.54 L1098.90 156.52 L1099.40 156.50 L1099.90 156.48 L1100.40 156.46 L1100.90 156.44 L1101.40 156.42 L1101.90 156.40 L1102.40 156.38 L1102.90 156.36 L1103.40 156.34 L1103.90 156.32 L1104.40 156.30 L1104.90 156.28 L1105.40 156.27 L1105.90 156.25 L1106.40 156.23 L1106.90 156.22 L1107.40 156.20 L1107.90 156.19 L1108.40 156.17 L1108.90 156.16 L1109.40 156.14 L1109.90 156.13 L1110.40 156.11 L1110.90 156.10 L1111.40 156.08 L1111.90 156.07 L1112.40 156.06 L1112.90 156.04 L1113.40 156.03 L1113.90 156.01 L1114.40 155.99 L1114.90 155.97 L1115.40 155.95 L1115.90 155.92 L1116.40 155.89 L1116.90 155.86 L1117.40 155.81 L1117.90 155.74 L1118.40 155.65 L1118.90 155.48 L1119.40 155.17 L1119.90 154.61 L1120.40 153.69 L1120.90 152.31 L1121.40 150.54 L1121.90 148.69 L1122.40 147.60 L1122.90 148.28 L1123.40 150.49 L1123.90 152.90 L1124.40 154.65 L1124.90 155.60 L1125.40 156.01 L1125.90 156.16 L1126.40 156.22 L1126.90 156.26 L1127.40 156.29 L1127.90 156.31 L1128.40 156.34 L1128.90 156.37 L1129.40 156.39 L1129.90 156.42 L1130.40 156.44 L1130.90 156.47 L1131.40 156.49 L1131.90 156.52 L1132.40 156.55 L1132.90 156.57 L1133.40 156.60 L1133.90 156.63 L1134.40 156.65 L1134.90 156.68 L1135.40 156.71 L1135.90 156.73 L1136.40 156.76 L1136.90 156.79 L1137.40 156.82 L1137.90 156.84 L1138.40 156.87 L1138.90 156.90 L1139.40 156.92 L1139.90 156.94 L1140.40 156.96 L1140.90 156.97 L1141.40 156.96 L1141.90 156.92 L1142.40 156.85 L1142.90 156.75 L1143.40 156.61 L1143.90 156.46 L1144.40 156.33 L1144.90 156.28 L1145.40 156.36 L1145.90 156.58 L1146.40 156.84 L1146.90 157.07 L1147.40 157.25 L1147.90 157.37 L1148.40 157.44 L1148.90 157.48 L1149.40 157.52 L1149.90 157.55 L1150.40 157.57 L1150.90 157.60 L1151.40 157.62 L1151.90 157.65 L1152.40 157.67 L1152.90 157.69 L1153.40 157.72 L1153.90 157.74 L1154.40 157.76 L1154.90 157.78 L1155.40 157.80 L1155.90 157.82 L1156.40 157.84 L1156.90 157.85 L1157.40 157.87 L1157.90 157.89 L1158.40 157.90 L1158.90 157.91 L1159.40 157.93 L1159.90 157.94 L1160.40 157.95 L1160.90 157.96 L1161.40 157.97 L1161.90 157.98 L1162.40 157.98 L1162.90 157.99 L1163.40 157.99 L1163.90 158.00 L1164.40 158.00 L1164.90 158.00 L1165.40 158.00 L1165.90 158.00 L1166.40 158.00 L1166.90 158.00 L1167.40 158.00 L1167.90 158.00 L1168.40 158.00 L1168.90 158.00 L1169.40 158.00 L1169.90 157.99 L1170.40 157.99 L1170.90 157.99 L1171.40 157.99 L1171.90 157.99 L1172.40 157.99 L1172.90 157.99 L1173.40 157.98 L1173.90 157.98 L1174.40 157.98 L1174.90 157.98 L1175.40 157.98 L1175.90 157.98 L1176.40 157.97 L1176.90 157.97 L1177.40 157.97 L1177.90 157.97 L1178.40 157.96 L1178.90 157.96 L1179.40 157.96 L1179.90 157.96 L1180.40 157.95 L1180.90 157.95 L1181.40 157.95 L1181.90 157.95 L1182.40 157.94 L1182.90 157.94 L1183.40 157.94 L1183.90 157.93 L1184.40 157.93 L1184.90 157.93 L1185.40 157.92 L1185.90 157.92 L1186.40 157.92 L1186.90 157.91 L1187.40 157.91 L1187.90 157.90 L1188.40 157.90 L1188.90 157.90 L1189.40 157.89 L1189.90 157.89 L1190.40 157.88 L1190.90 157.88 L1191.40 157.88 L1191.90 157.87 L1192.40 157.87 L1192.90 157.86 L1193.40 157.86 L1193.90 157.86 L1194.40 157.85 L1194.90 157.85 L1195.40 157.84 L1195.90 157.84 L1196.40 157.83 L1196.90 157.83 L1197.40 157.82 L1197.90 157.82 L1198.40 157.81 L1198.90 157.81 L1199.40 157.81 L1199.90 157.80 L1200.40 157.80 L1200.90 157.79 L1201.40 157.78 L1201.90 157.77 L1202.40 157.77 L1202.90 157.76 L1203.40 157.75 L1203.90 157.73 L1204.40 157.72 L1204.90 157.71 L1205.40 157.70 L1205.90 157.68 L1206.40 157.67 L1206.90 157.65 L1207.40 157.64 L1207.90 157.62 L1208.40 157.60 L1208.90 157.58 L1209.40 157.57 L1209.90 157.55 L1210.40 157.53 L1210.90 157.51 L1211.40 157.49 L1211.90 157.47 L1212.40 157.45 L1212.90 157.43 L1213.40 157.41 L1213.90 157.39 L1214.40 157.38 L1214.90 157.36 L1215.40 157.34 L1215.90 157.32 L1216.40 157.30 L1216.90 157.28 L1217.40 157.26 L1217.90 157.24 L1218.40 157.22 L1218.90 157.20 L1219.40 157.18 L1219.90 157.16 L1220.40 157.14 L1220.90 157.13 L1221.40 157.11 L1221.90 157.09 L1222.40 157.07 L1222.90 157.06 L1223.40 157.04 L1223.90 157.03 L1224.40 157.01 L1224.90 157.00 L1225.40 156.99 L1225.90 156.98 L1226.40 156.96 L1226.90 156.95 L1227.40 156.94 L1227.90 156.94 L1228.40 156.93 L1228.90 156.92 L1229.40 156.91 L1229.90 156.91 L1230.40 156.91 L1230.90 156.90 L1231.40 156.90 L1231.90 156.90 L1232.40 156.90 L1232.90 156.90 L1233.40 156.90 L1233.90 156.91 L1234.40 156.91 L1234.90 156.92 L1235.40 156.92 L1235.90 156.93 L1236.40 156.94 L1236.90 156.95 L1237.40 156.95 L1237.90 156.96 L1238.40 156.98 L1238.90 156.99 L1239.40 157.00 L1239.90 157.01 L1240.40 157.02 L1240.90 157.04 L1241.40 157.05 L1241.90 157.07 L1242.40 157.08 L1242.90 157.10 L1243.40 157.11 L1243.90 157.13 L1244.40 157.14 L1244.90 157.16 L1245.40 157.18 L1245.90 157.19 L1246.40 157.21 L1246.90 157.23 L1247.40 157.25 L1247.90 157.26 L1248.40 157.28 L1248.90 157.30 L1249.40 157.31 L1249.90 157.33 L1250.40 157.35 L1250.90 157.36 L1251.40 157.38 L1251.90 157.40 L1252.40 157.41 L1252.90 157.43 L1253.40 157.44 L1253.90 157.46 L1254.40 157.47 L1254.90 157.49 L1255.40 157.50 L1255.90 157.51 L1256.40 157.53 L1256.90 157.54 L1257.40 157.55 L1257.90 157.56 L1258.40 157.57 L1258.90 157.58 L1259.40 157.59 L1259.90 157.59 L1260.40 157.60 L1260.90 157.61 L1261.40 157.62 L1261.90 157.62 L1262.40 157.63 L1262.90 157.64 L1263.40 157.64 L1263.90 157.65 L1264.40 157.66 L1264.90 157.66 L1265.40 157.67 L1265.90 157.68 L1266.40 157.68 L1266.90 157.69 L1267.40 157.69 L1267.90 157.70 L1268.40 157.70 L1268.90 157.70 L1269.40 157.70 L1269.90 157.69 L1270.40 157.68 L1270.90 157.64 L1271.40 157.57 L1271.90 157.47 L1272.40 157.34 L1272.90 157.20 L1273.40 157.07 L1273.90 157.00 L1274.40 157.05 L1274.90 157.22 L1275.40 157.43 L1275.90 157.60 L1276.40 157.72 L1276.90 157.79 L1277.40 157.82 L1277.90 157.83 L1278.40 157.84 L1278.90 157.85 L1279.40 157.86 L1279.90 157.86 L1280.40 157.87 L1280.90 157.88 L1281.40 157.88 L1281.90 157.89 L1282.40 157.89 L1282.90 157.90 L1283.40 157.90 L1283.90 157.90 L1284.40 157.91 L1284.90 157.91 L1285.40 157.91 L1285.90 157.92 L1286.40 157.92 L1286.90 157.92 L1287.40 157.92 L1287.90 157.92 L1288.40 157.91 L1288.90 157.90 L1289.40 157.88 L1289.90 157.83 L1290.40 157.75 L1290.90 157.64 L1291.40 157.49 L1291.90 157.32 L1292.40 157.16 L1292.90 157.08 L1293.40 157.14 L1293.90 157.33 L1294.40 157.55 L1294.90 157.74 L1295.40 157.87 L1295.90 157.94 L1296.40 157.97 L1296.90 157.98 L1297.40 157.99 L1297.90 157.99 L1298.40 157.99 L1298.90 158.00 L1299.40 158.00 L1299.90 158.00 L1300.40 158.00 L1300.90 158.00 L1301.40 158.00 L1301.90 158.00 L1302.40 158.00 L1302.90 158.00 L1303.40 158.00 L1303.90 158.00 L1304.40 158.00 L1304.90 158.00 L1305.40 158.00 L1305.90 158.00 L1306.40 158.00 L1306.90 158.00 L1307.40 158.00 L1307.90 158.00 L1308.40 158.00 L1308.90 158.00 L1309.40 158.00 L1309.90 158.00 L1310.40 158.00 L1310.90 158.00 L1311.40 158.00 L1311.90 158.00 L1312.40 158.00 L1312.90 158.00 L1313.40 158.00 L1313.90 158.00 L1314.40 158.00 L1314.90 158.00 L1315.40 158.00 L1315.90 158.00 L1316.40 158.00 L1316.90 158.00 L1317.40 158.00 L1317.90 158.00 L1318.40 158.00 L1318.90 158.00 L1319.40 158.00 L1319.90 158.00 L1320.40 158.00 L1320.90 158.00 L1321.40 158.00 L1321.90 158.00 L1322.40 158.00 L1322.90 158.00 L1323.40 158.00 L1323.90 158.00 L1324.40 158.00 L1324.90 158.00 L1325.40 158.00 L1325.90 158.00 L1326.40 158.00 L1326.90 158.00 L1327.40 158.00 L1327.90 158.00 L1328.40 158.00 L1328.90 158.00 L1329.40 158.00 L1329.90 158.00 L1330.40 158.00 L1330.90 158.00 L1331.40 158.00 L1331.90 158.00 L1332.40 158.00 L1332.90 158.00 L1333.40 158.00 L1333.90 158.00 L1334.40 158.00 L1334.90 158.00 L1335.40 158.00 L1335.90 158.00 L1336.40 158.00 L1336.90 158.00 L1337.40 158.00 L1337.90 158.00 L1338.40 158.00 L1338.90 158.00 L1339.40 158.00 L1339.90 158.00 L1340.40 158.00 L1340.90 158.00 L1341.40 158.00 L1341.90 158.00 L1342.40 158.00 L1342.90 158.00 L1343.40 158.00 L1343.90 158.00 L1344.40 158.00 L1344.90 158.00 L1345.40 158.00 L1345.90 158.00 L1346.40 158.00 L1346.90 158.00 L1347.40 158.00 L1347.90 158.00 L1348.40 158.00 L1348.90 158.00 L1349.40 158.00 L1349.90 158.00 L1350.40 158.00 L1350.90 158.00 L1351.40 158.00 L1351.90 158.00 L1352.40 158.00 L1352.90 158.00 L1353.40 158.00 L1353.90 158.00 L1354.40 158.00 L1354.90 158.00 L1355.40 158.00 L1355.90 158.00 L1356.40 158.00 L1356.90 158.00 L1357.40 158.00 L1357.90 158.00 L1358.40 158.00 L1358.90 158.00 L1359.40 158.00 L1359.90 158.00 L1360.40 158.00 L1360.90 158.00 L1361.40 158.00 L1361.90 158.00 L1362.40 158.00 L1362.90 158.00 L1363.40 158.00 L1363.90 158.00 L1364.40 158.00 L1364.90 158.00 L1365.40 158.00 L1365.90 158.00 L1366.40 158.00 L1366.90 158.00 L1367.40 158.00 L1367.90 158.00 L1368.40 158.00 L1368.90 158.00 L1369.40 158.00 L1369.90 158.00 L1370.40 158.00 L1370.90 158.00 L1371.40 158.00 L1371.90 158.00 L1372.40 158.00 L1372.90 158.00 L1373.40 158.00 L1373.90 158.00 L1374.40 158.00 L1374.90 158.00 L1375.40 158.00 L1375.90 158.00 L1376.40 158.00 L1376.90 158.00 L1377.40 158.00 L1377.90 158.00 L1378.40 158.00 L1378.90 158.00 L1379.40 158.00 L1379.90 158.00 L1380.40 158.00 L1380.90 158.00 L1381.40 158.00 L1381.90 158.00 L1382.40 158.00 L1382.90 158.00 L1383.40 158.00 L1383.90 158.00 L1384.40 158.00 L1384.90 158.00 L1385.40 158.00 L1385.90 158.00 L1386.40 158.00 L1386.90 158.00 L1387.40 158.00 L1387.90 158.00 L1388.40 158.00 L1388.90 158.00 L1389.40 158.00 L1389.90 158.00 L1390.40 158.00 L1390.90 158.00 L1391.40 158.00 L1391.90 158.00 L1392.40 158.00 L1392.90 158.00 L1393.40 158.00 L1393.90 158.00 L1394.40 158.00 L1394.90 158.00 L1395.40 158.00 L1395.90 158.00 L1396.40 158.00 L1396.90 158.00 L1397.40 158.00 L1397.90 158.00 L1398.40 158.00 L1398.90 158.00 L1399.40 158.00 L1399.90 158.00 L1400.40 158.00 L1400.90 158.00 L1401.40 158.00 L1401.90 158.00 L1402.40 158.00 L1402.90 158.00 L1403.40 158.00 L1403.90 158.00 L1404.40 158.00 L1404.90 158.00 L1405.40 158.00 L1405.90 158.00 L1406.40 158.00 L1406.90 158.00 L1407.40 158.00 L1407.90 158.00 L1408.40 158.00 L1408.90 158.00 L1409.40 158.00 L1409.90 158.00 L1410.40 158.00 L1410.90 158.00 L1411.40 158.00 L1411.90 158.00 L1412.40 158.00 L1412.90 158.00 L1413.40 158.00 L1413.90 158.00 L1414.40 158.00 L1414.90 158.00 L1415.40 158.00 L1415.90 158.00 L1416.40 158.00 L1416.90 158.00 L1417.40 158.00 L1417.90 158.00 L1418.40 158.00 L1418.90 158.00 L1419.40 158.00 L1419.90 158.00 L1420.40 158.00 L1420.90 158.00 L1421.40 158.00 L1421.90 158.00 L1422.40 158.00 L1422.90 158.00 L1423.40 158.00 L1423.90 158.00 L1424.40 158.00 L1424.90 158.00 L1425.40 158.00 L1425.90 158.00 L1426.40 158.00 L1426.90 158.00 L1427.40 158.00 L1427.90 158.00 L1428.40 158.00 L1428.90 158.00 L1429.40 158.00 L1429.90 158.00 L1430.40 158.00 L1430.90 158.00 L1431.40 158.00 L1431.90 158.00 L1432.40 158.00 L1432.90 158.00 L1433.40 158.00 L1433.90 158.00 L1434.40 158.00 L1434.90 158.00 L1435.40 158.00 L1435.90 158.00 L1436.40 158.00 L1436.90 158.00 L1437.40 158.00 L1437.90 158.00 L1438.40 158.00 L1438.90 158.00 L1439.40 158.00 L1439.90 158.00 L1440.40 158.00 L1440.90 158.00 L1441.40 158.00 L1441.90 158.00 L1442.40 158.00 L1442.90 158.00 L1443.40 158.00 L1443.90 158.00 L1444.40 158.00 L1444.90 158.00 L1445.40 158.00 L1445.90 158.00 L1446.40 158.00 L1446.90 158.00 L1447.40 158.00 L1447.90 158.00 L1448.40 158.00 L1448.90 158.00 L1449.40 158.00 L1449.90 158.00 L1450.40 158.00 L1450.90 158.00 L1451.40 158.00 L1451.90 158.00 L1452.40 158.00 L1452.90 158.00 L1453.40 158.00 L1453.90 158.00 L1454.40 158.00 L1454.90 158.00 L1455.40 158.00 L1455.90 158.00 L1456.40 158.00 L1456.90 158.00 L1457.40 158.00 L1457.90 158.00 L1458.40 158.00 L1458.90 158.00 L1459.40 158.00 L1459.90 158.00 L1460.40 158.00 L1460.90 158.00 L1461.40 158.00 L1461.90 158.00 L1462.40 158.00 L1462.90 158.00 L1463.40 158.00 L1463.90 158.00 L1464.40 158.00 L1464.90 158.00 L1465.40 158.00 L1465.90 158.00 L1466.40 158.00 L1466.90 158.00 L1467.40 158.00 L1467.90 158.00 L1468.40 158.00 L1468.90 158.00 L1469.40 158.00 L1469.90 158.00 L1470.40 158.00 L1470.90 158.00 L1471.40 158.00 L1471.90 158.00 L1472.40 158.00 L1472.90 158.00 L1473.40 158.00 L1473.90 158.00 L1474.40 158.00 L1474.90 158.00 L1475.40 158.00 L1475.90 158.00 L1476.40 158.00 L1476.90 158.00 L1477.40 158.00 L1477.90 158.00 L1478.40 158.00 L1478.90 158.00 L1479.40 158.00 L1479.90 158.00 L1480.40 158.00 L1480.90 158.00 L1481.40 158.00 L1481.90 158.00 L1482.40 158.00 L1482.90 158.00 L1483.40 158.00 L1483.90 158.00 L1484.40 158.00 L1484.90 158.00 L1485.40 158.00 L1485.90 158.00 L1486.40 158.00 L1486.90 158.00 L1487.40 158.00 L1487.90 158.00 L1488.40 158.00 L1488.90 158.00 L1489.40 158.00 L1489.90 158.00 L1490.40 158.00 L1490.90 158.00 L1491.40 158.00 L1491.90 158.00 L1492.40 158.00 L1492.90 158.00 L1493.40 158.00 L1493.90 158.00 L1494.40 158.00 L1494.90 158.00 L1495.40 158.00 L1495.90 158.00 L1496.40 158.00 L1496.90 158.00 L1497.40 158.00 L1497.90 158.00 L1498.40 158.00 L1498.90 158.00 L1499.40 158.00 L1499.90 158.00 L1500.40 158.00 L1500.90 158.00 L1501.40 158.00 L1501.90 158.00 L1502.40 158.00 L1502.90 158.00 L1503.40 158.00 L1503.90 158.00 L1504.40 158.00 L1504.90 158.00 L1505.40 158.00 L1505.90 158.00 L1506.40 158.00 L1506.90 158.00 L1507.40 158.00 L1507.90 158.00 L1508.40 158.00 L1508.90 158.00 L1509.40 158.00 L1509.90 158.00 L1510.40 158.00 L1510.90 158.00 L1511.40 158.00 L1511.90 158.00 L1512.40 158.00 L1512.90 158.00 L1513.40 158.00 L1513.90 158.00 L1514.40 158.00 L1514.90 158.00 L1515.40 158.00 L1515.90 158.00 L1516.40 158.00 L1516.90 158.00 L1517.40 158.00 L1517.90 158.00 L1518.40 158.00 L1518.90 158.00 L1519.40 158.00 L1519.90 158.00 L1520.40 158.00 L1520.90 158.00 L1521.40 158.00 L1521.90 158.00 L1522.40 158.00 L1522.90 158.00 L1523.40 158.00 L1523.90 158.00 L1524.40 158.00 L1524.90 158.00 L1525.40 158.00 L1525.90 158.00 L1526.40 158.00 L1526.90 158.00 L1527.40 158.00 L1527.90 158.00 L1528.40 158.00 L1528.90 158.00 L1529.40 158.00 L1529.90 158.00 L1530.40 158.00 L1530.90 158.00 L1531.40 158.00 L1531.90 158.00 L1532.40 158.00 L1532.90 158.00 L1533.40 158.00 L1533.90 158.00 L1534.40 158.00 L1534.90 158.00 L1535.40 158.00 L1535.90 158.00 L1536.40 158.00 L1536.90 158.00 L1537.40 158.00 L1537.90 158.00 L1538.40 158.00 L1538.90 158.00 L1539.40 158.00 L1539.90 158.00 L1540.40 158.00 L1540.90 158.00 L1541.40 158.00 L1541.90 158.00 L1542.40 158.00 L1542.90 158.00 L1543.40 158.00 L1543.90 158.00 L1544.40 158.00 L1544.90 158.00 L1545.40 158.00 L1545.90 158.00 L1546.40 158.00 L1546.90 158.00 L1547.40 158.00 L1547.90 158.00 L1548.40 158.00 L1548.90 158.01 L1549.40 158.01 L1549.90 158.01 L1550.40 158.01 L1550.90 158.01 L1551.40 158.01 L1551.90 158.01 L1552.40 158.01 L1552.90 158.01 L1553.40 158.01 L1553.90 158.01 L1554.40 158.01 L1554.90 158.01 L1555.40 158.01 L1555.90 158.01 L1556.40 158.01 L1556.90 158.01 L1557.40 158.01 L1557.90 158.01 L1558.40 158.01 L1558.90 158.01 L1559.40 158.01 L1559.90 158.01 L1560.40 158.01 L1560.90 158.01 L1561.40 158.01 L1561.90 158.01 L1562.40 158.01 L1562.90 158.01 L1563.40 158.01 L1563.90 158.01 L1564.40 158.01 L1564.90 158.01 L1565.40 158.01 L1565.90 158.01 L1566.40 158.01 L1566.90 158.01 L1567.40 158.01 L1567.90 158.01 L1568.40 158.01 L1568.90 158.01 L1569.40 158.01 L1569.90 158.01 L1570.40 158.01 L1570.90 158.01 L1571.40 158.01 L1571.90 158.01 L1572.40 158.01 L1572.90 158.01 L1573.40 158.01 L1573.90 158.01 L1574.40 158.01 L1574.90 158.01 L1575.40 158.01 L1575.90 158.01 L1576.40 158.01 L1576.90 158.01 L1577.40 158.01 L1577.90 158.01 L1578.40 158.01 L1578.90 158.01 L1579.40 158.01 L1579.90 158.01 L1580.40 158.01 L1580.90 158.01 L1581.40 158.01 L1581.90 158.01 L1582.40 158.01 L1582.90 158.01 L1583.40 158.01 L1583.90 158.01 L1584.40 158.01 L1584.90 158.01 L1585.40 158.01 L1585.90 158.01 L1586.40 158.02 L1586.90 158.02 L1587.40 158.02 L1587.90 158.02 L1588.40 158.02 L1588.90 158.02 L1589.40 158.02 L1589.90 158.02 L1590.40 158.02 L1590.90 158.02 L1591.40 158.02 L1591.90 158.02 L1592.40 158.02 L1592.90 158.02 L1593.40 158.02 L1593.90 158.02 L1594.40 158.02 L1594.90 158.02 L1595.40 158.02 L1595.90 158.02 L1596.40 158.02 L1596.90 158.02 L1597.40 158.02 L1597.90 158.02 L1598.40 158.02 L1598.90 158.02 L1599.40 158.02 L1599.90 158.02 L1600.40 158.02 L1600.90 158.02 L1601.40 158.02 L1601.90 158.02 L1602.40 158.02 L1602.90 158.02 L1603.40 158.02 L1603.90 158.02 L1604.40 158.02 L1604.90 158.02 L1605.40 158.02 L1605.90 158.02 L1606.40 158.02 L1606.90 158.02 L1607.40 158.02 L1607.90 158.02 L1608.40 158.02 L1608.90 158.02 L1609.40 158.02 L1609.90 158.02 L1610.40 158.02 L1610.90 158.02 L1611.40 158.02 L1611.90 158.02 L1612.40 158.02 L1612.90 158.02 L1613.40 158.02 L1613.90 158.03 L1614.40 158.03 L1614.90 158.03 L1615.40 158.03 L1615.90 158.03 L1616.40 158.03 L1616.90 158.03 L1617.40 158.03 L1617.90 158.03 L1618.40 158.03 L1618.90 158.03 L1619.40 158.03 L1619.90 158.03 L1620.40 158.03 L1620.90 158.03 L1621.40 158.03 L1621.90 158.03 L1622.40 158.03 L1622.90 158.03 L1623.40 158.03 L1623.90 158.03 L1624.40 158.03 L1624.90 158.03 L1625.40 158.03 L1625.90 158.03 L1626.40 158.03 L1626.90 158.03 L1627.40 158.03 L1627.90 158.03 L1628.40 158.03 L1628.90 158.03 L1629.40 158.03 L1629.90 158.03 L1630.40 158.03 L1630.90 158.03 L1631.40 158.03 L1631.90 158.03 L1632.40 158.03 L1632.90 158.03 L1633.40 158.03 L1633.90 158.03 L1634.40 158.03 L1634.90 158.03 L1635.40 158.03 L1635.90 158.03 L1636.40 158.03 L1636.90 158.04 L1637.40 158.04 L1637.90 158.04 L1638.40 158.04 L1638.90 158.04 L1639.40 158.04 L1639.90 158.04 L1640.40 158.04 L1640.90 158.04 L1641.40 158.04 L1641.90 158.04 L1642.40 158.04 L1642.90 158.04 L1643.40 158.04 L1643.90 158.04 L1644.40 158.04 L1644.90 158.04 L1645.40 158.04 L1645.90 158.04 L1646.40 158.04 L1646.90 158.04 L1647.40 158.04 L1647.90 158.04 L1648.40 158.04 L1648.90 158.04 L1649.40 158.04 L1649.90 158.04 L1650.40 158.04 L1650.90 158.04 L1651.40 158.04 L1651.90 158.04 L1652.40 158.04 L1652.90 158.04 L1653.40 158.04 L1653.90 158.04 L1654.40 158.04 L1654.90 158.04 L1655.40 158.04 L1655.90 158.04 L1656.40 158.04 L1656.90 158.04 L1657.40 158.05 L1657.90 158.05 L1658.40 158.05 L1658.90 158.05 L1659.40 158.05 L1659.90 158.05 L1660.40 158.05 L1660.90 158.05 L1661.40 158.05 L1661.90 158.05 L1662.40 158.05 L1662.90 158.05 L1663.40 158.05 L1663.90 158.05 L1664.40 158.05 L1664.90 158.05 L1665.40 158.05 L1665.90 158.05 L1666.40 158.05 L1666.90 158.05 L1667.40 158.05 L1667.90 158.05 L1668.40 158.05 L1668.90 158.05 L1669.40 158.05 L1669.90 158.05 L1670.40 158.05 L1670.90 158.05 L1671.40 158.05 L1671.90 158.05 L1672.40 158.05 L1672.90 158.05 L1673.40 158.05 L1673.90 158.05 L1674.40 158.05 L1674.90 158.05 L1675.40 158.05 L1675.90 158.05 L1676.40 158.06 L1676.90 158.06 L1677.40 158.06 L1677.90 158.06 L1678.40 158.06 L1678.90 158.06 L1679.40 158.06 L1679.90 158.06 L1680.40 158.06 L1680.90 158.06 L1681.40 158.06 L1681.90 158.06 L1682.40 158.06 L1682.90 158.06 L1683.40 158.06 L1683.90 158.06 L1684.40 158.06 L1684.90 158.06 L1685.40 158.06 L1685.90 158.06 L1686.40 158.06 L1686.90 158.06 L1687.40 158.06 L1687.90 158.06 L1688.40 158.06 L1688.90 158.06 L1689.40 158.06 L1689.90 158.06 L1690.40 158.06 L1690.90 158.06 L1691.40 158.06 L1691.90 158.06 L1692.40 158.06 L1692.90 158.06 L1693.40 158.06 L1693.90 158.06 L1694.40 158.07 L1694.90 158.07 L1695.40 158.07 L1695.90 158.07 L1696.40 158.07 L1696.90 158.07 L1697.40 158.07 L1697.90 158.07 L1698.40 158.07 L1698.90 158.07 L1699.40 158.07 L1699.90 158.07 L1700.40 158.07 L1700.90 158.07 L1701.40 158.07 L1701.90 158.07 L1702.40 158.07 L1702.90 158.07 L1703.40 158.07 L1703.90 158.07 L1704.40 158.07 L1704.90 158.07 L1705.40 158.07 L1705.90 158.07 L1706.40 158.07 L1706.90 158.07 L1707.40 158.07 L1707.90 158.07 L1708.40 158.07 L1708.90 158.07 L1709.40 158.07 L1709.90 158.07 L1710.40 158.07 L1710.90 158.07 L1711.40 158.07 L1711.90 158.08 L1712.40 158.08 L1712.90 158.08 L1713.40 158.08 L1713.90 158.08 L1714.40 158.08 L1714.90 158.08 L1715.40 158.08 L1715.90 158.08 L1716.40 158.08 L1716.90 158.08 L1717.40 158.08 L1717.90 158.08 L1718.40 158.08 L1718.90 158.08 L1719.40 158.08 L1719.90 158.08 L1720.40 158.08 L1720.90 158.08 L1721.40 158.08 L1721.90 158.08 L1722.40 158.08 L1722.90 158.08 L1723.40 158.08 L1723.90 158.08 L1724.40 158.08 L1724.90 158.08 L1725.40 158.08 L1725.90 158.08 L1726.40 158.08 L1726.90 158.08 L1727.40 158.08 L1727.90 158.08 L1728.40 158.08 L1728.90 158.09 L1729.40 158.09 L1729.90 158.09 L1730.40 158.09 L1730.90 158.09 L1731.40 158.09 L1731.90 158.09 L1732.40 158.09 L1732.90 158.09 L1733.40 158.09 L1733.90 158.09 L1734.40 158.09 L1734.90 158.09 L1735.40 158.09 L1735.90 158.09 L1736.40 158.09 L1736.90 158.09 L1737.40 158.09 L1737.90 158.09 L1738.40 158.09 L1738.90 158.09 L1739.40 158.09 L1739.90 158.09 L1740.40 158.09 L1740.90 158.09 L1741.40 158.09 L1741.90 158.09 L1742.40 158.09 L1742.90 158.09 L1743.40 158.09 L1743.90 158.09 L1744.40 158.09 L1744.90 158.10 L1745.40 158.10 L1745.90 158.10 L1746.40 158.10 L1746.90 158.10 L1747.40 158.10 L1747.90 158.10 L1748.40 158.10 L1748.90 158.10 L1749.40 158.10 L1749.90 158.10 L1750.40 158.10 L1750.90 158.10 L1751.40 158.10 L1751.90 158.10 L1752.40 158.10 L1752.90 158.10" fill="none" stroke="#4f8de6" stroke-width="2.2" stroke-linejoin="round" stroke-linecap="round"/>
<path d="M1021.40 112.00 L1021.90 112.00 L1022.40 112.00 L1022.90 112.00 L1023.40 112.00 L1023.90 112.00 L1024.40 112.00 L1024.90 112.00 L1025.40 112.00 L1025.90 112.00 L1026.40 112.00 L1026.90 112.00 L1027.40 112.00 L1027.90 112.00 L1028.40 112.00 L1028.90 111.99 L1029.40 111.99 L1029.90 111.99 L1030.40 111.99 L1030.90 111.99 L1031.40 111.99 L1031.90 111.99 L1032.40 111.99 L1032.90 111.99 L1033.40 111.99 L1033.90 111.99 L1034.40 111.99 L1034.90 111.99 L1035.40 111.99 L1035.90 111.99 L1036.40 111.99 L1036.90 111.99 L1037.40 111.99 L1037.90 111.99 L1038.40 111.99 L1038.90 111.98 L1039.40 111.98 L1039.90 111.98 L1040.40 111.98 L1040.90 111.98 L1041.40 111.97 L1041.90 111.97 L1042.40 111.97 L1042.90 111.96 L1043.40 111.96 L1043.90 111.95 L1044.40 111.94 L1044.90 111.93 L1045.40 111.90 L1045.90 111.86 L1046.40 111.78 L1046.90 111.66 L1047.40 111.48 L1047.90 111.22 L1048.40 110.90 L1048.90 110.56 L1049.40 110.26 L1049.90 110.10 L1050.40 110.20 L1050.90 110.56 L1051.40 111.00 L1051.90 111.40 L1052.40 111.68 L1052.90 111.85 L1053.40 111.93 L1053.90 111.96 L1054.40 111.98 L1054.90 111.98 L1055.40 111.99 L1055.90 111.99 L1056.40 111.99 L1056.90 111.99 L1057.40 111.99 L1057.90 111.99 L1058.40 111.99 L1058.90 111.99 L1059.40 111.99 L1059.90 111.99 L1060.40 111.99 L1060.90 111.99 L1061.40 111.99 L1061.90 111.99 L1062.40 111.98 L1062.90 111.98 L1063.40 111.97 L1063.90 111.96 L1064.40 111.96 L1064.90 111.95 L1065.40 111.94 L1065.90 111.92 L1066.40 111.91 L1066.90 111.90 L1067.40 111.89 L1067.90 111.87 L1068.40 111.86 L1068.90 111.84 L1069.40 111.82 L1069.90 111.80 L1070.40 111.79 L1070.90 111.77 L1071.40 111.75 L1071.90 111.73 L1072.40 111.70 L1072.90 111.68 L1073.40 111.66 L1073.90 111.64 L1074.40 111.61 L1074.90 111.59 L1075.40 111.57 L1075.90 111.54 L1076.40 111.51 L1076.90 111.49 L1077.40 111.46 L1077.90 111.43 L1078.40 111.41 L1078.90 111.38 L1079.40 111.35 L1079.90 111.32 L1080.40 111.29 L1080.90 111.26 L1081.40 111.23 L1081.90 111.20 L1082.40 111.17 L1082.90 111.14 L1083.40 111.11 L1083.90 111.08 L1084.40 111.05 L1084.90 111.02 L1085.40 110.99 L1085.90 110.96 L1086.40 110.93 L1086.90 110.89 L1087.40 110.86 L1087.90 110.83 L1088.40 110.80 L1088.90 110.77 L1089.40 110.74 L1089.90 110.70 L1090.40 110.67 L1090.90 110.64 L1091.40 110.61 L1091.90 110.58 L1092.40 110.55 L1092.90 110.52 L1093.40 110.48 L1093.90 110.45 L1094.40 110.42 L1094.90 110.39 L1095.40 110.36 L1095.90 110.33 L1096.40 110.30 L1096.90 110.27 L1097.40 110.24 L1097.90 110.22 L1098.40 110.19 L1098.90 110.16 L1099.40 110.13 L1099.90 110.10 L1100.40 110.08 L1100.90 110.05 L1101.40 110.02 L1101.90 110.00 L1102.40 109.97 L1102.90 109.95 L1103.40 109.93 L1103.90 109.90 L1104.40 109.88 L1104.90 109.86 L1105.40 109.83 L1105.90 109.81 L1106.40 109.79 L1106.90 109.77 L1107.40 109.75 L1107.90 109.73 L1108.40 109.71 L1108.90 109.70 L1109.40 109.68 L1109.90 109.66 L1110.40 109.64 L1110.90 109.63 L1111.40 109.61 L1111.90 109.60 L1112.40 109.58 L1112.90 109.57 L1113.40 109.55 L1113.90 109.54 L1114.40 109.52 L1114.90 109.50 L1115.40 109.49 L1115.90 109.47 L1116.40 109.44 L1116.90 109.42 L1117.40 109.39 L1117.90 109.35 L1118.40 109.29 L1118.90 109.21 L1119.40 109.08 L1119.90 108.84 L1120.40 108.37 L1120.90 107.53 L1121.40 106.16 L1121.90 104.28 L1122.40 102.20 L1122.90 100.93 L1123.40 101.74 L1123.90 104.27 L1124.40 106.84 L1124.90 108.53 L1125.40 109.33 L1125.90 109.62 L1126.40 109.72 L1126.90 109.77 L1127.40 109.81 L1127.90 109.84 L1128.40 109.86 L1128.90 109.89 L1129.40 109.92 L1129.90 109.95 L1130.40 109.98 L1130.90 110.00 L1131.40 110.03 L1131.90 110.06 L1132.40 110.09 L1132.90 110.12 L1133.40 110.15 L1133.90 110.18 L1134.40 110.21 L1134.90 110.24 L1135.40 110.27 L1135.90 110.30 L1136.40 110.33 L1136.90 110.36 L1137.40 110.39 L1137.90 110.42 L1138.40 110.45 L1138.90 110.47 L1139.40 110.50 L1139.90 110.53 L1140.40 110.55 L1140.90 110.56 L1141.40 110.57 L1141.90 110.55 L1142.40 110.49 L1142.90 110.39 L1143.40 110.22 L1143.90 109.98 L1144.40 109.70 L1144.90 109.41 L1145.40 109.20 L1145.90 109.17 L1146.40 109.41 L1146.90 109.83 L1147.40 110.27 L1147.90 110.64 L1148.40 110.89 L1148.90 111.04 L1149.40 111.13 L1149.90 111.18 L1150.40 111.22 L1150.90 111.25 L1151.40 111.28 L1151.90 111.31 L1152.40 111.33 L1152.90 111.36 L1153.40 111.39 L1153.90 111.41 L1154.40 111.43 L1154.90 111.46 L1155.40 111.48 L1155.90 111.50 L1156.40 111.52 L1156.90 111.54 L1157.40 111.56 L1157.90 111.57 L1158.40 111.59 L1158.90 111.60 L1159.40 111.62 L1159.90 111.63 L1160.40 111.64 L1160.90 111.65 L1161.40 111.66 L1161.90 111.67 L1162.40 111.68 L1162.90 111.69 L1163.40 111.69 L1163.90 111.70 L1164.40 111.70 L1164.90 111.70 L1165.40 111.70 L1165.90 111.70 L1166.40 111.70 L1166.90 111.70 L1167.40 111.70 L1167.90 111.70 L1168.40 111.70 L1168.90 111.70 L1169.40 111.70 L1169.90 111.70 L1170.40 111.70 L1170.90 111.70 L1171.40 111.70 L1171.90 111.69 L1172.40 111.69 L1172.90 111.69 L1173.40 111.69 L1173.90 111.69 L1174.40 111.69 L1174.90 111.69 L1175.40 111.69 L1175.90 111.69 L1176.40 111.69 L1176.90 111.69 L1177.40 111.69 L1177.90 111.68 L1178.40 111.68 L1178.90 111.68 L1179.40 111.68 L1179.90 111.68 L1180.40 111.68 L1180.90 111.68 L1181.40 111.68 L1181.90 111.67 L1182.40 111.67 L1182.90 111.67 L1183.40 111.67 L1183.90 111.67 L1184.40 111.67 L1184.90 111.66 L1185.40 111.66 L1185.90 111.66 L1186.40 111.66 L1186.90 111.66 L1187.40 111.66 L1187.90 111.65 L1188.40 111.65 L1188.90 111.65 L1189.40 111.65 L1189.90 111.65 L1190.40 111.64 L1190.90 111.64 L1191.40 111.64 L1191.90 111.64 L1192.40 111.64 L1192.90 111.63 L1193.40 111.63 L1193.90 111.63 L1194.40 111.63 L1194.90 111.62 L1195.40 111.62 L1195.90 111.62 L1196.40 111.62 L1196.90 111.62 L1197.40 111.61 L1197.90 111.61 L1198.40 111.61 L1198.90 111.61 L1199.40 111.60 L1199.90 111.60 L1200.40 111.60 L1200.90 111.59 L1201.40 111.59 L1201.90 111.58 L1202.40 111.57 L1202.90 111.57 L1203.40 111.56 L1203.90 111.55 L1204.40 111.54 L1204.90 111.52 L1205.40 111.51 L1205.90 111.50 L1206.40 111.48 L1206.90 111.47 L1207.40 111.45 L1207.90 111.44 L1208.40 111.42 L1208.90 111.41 L1209.40 111.39 L1209.90 111.37 L1210.40 111.35 L1210.90 111.33 L1211.40 111.31 L1211.90 111.29 L1212.40 111.27 L1212.90 111.25 L1213.40 111.23 L1213.90 111.21 L1214.40 111.19 L1214.90 111.17 L1215.40 111.15 L1215.90 111.13 L1216.40 111.11 L1216.90 111.09 L1217.40 111.07 L1217.90 111.05 L1218.40 111.03 L1218.90 111.01 L1219.40 110.99 L1219.90 110.97 L1220.40 110.95 L1220.90 110.94 L1221.40 110.92 L1221.90 110.90 L1222.40 110.88 L1222.90 110.87 L1223.40 110.85 L1223.90 110.84 L1224.40 110.82 L1224.90 110.81 L1225.40 110.79 L1225.90 110.78 L1226.40 110.77 L1226.90 110.76 L1227.40 110.75 L1227.90 110.74 L1228.40 110.73 L1228.90 110.72 L1229.40 110.72 L1229.90 110.71 L1230.40 110.71 L1230.90 110.70 L1231.40 110.70 L1231.90 110.70 L1232.40 110.70 L1232.90 110.70 L1233.40 110.70 L1233.90 110.71 L1234.40 110.71 L1234.90 110.72 L1235.40 110.72 L1235.90 110.73 L1236.40 110.74 L1236.90 110.75 L1237.40 110.75 L1237.90 110.76 L1238.40 110.78 L1238.90 110.79 L1239.40 110.80 L1239.90 110.81 L1240.40 110.82 L1240.90 110.84 L1241.40 110.85 L1241.90 110.87 L1242.40 110.88 L1242.90 110.90 L1243.40 110.91 L1243.90 110.93 L1244.40 110.95 L1244.90 110.96 L1245.40 110.98 L1245.90 111.00 L1246.40 111.02 L1246.90 111.04 L1247.40 111.05 L1247.90 111.07 L1248.40 111.09 L1248.90 111.11 L1249.40 111.13 L1249.90 111.15 L1250.40 111.17 L1250.90 111.19 L1251.40 111.21 L1251.90 111.22 L1252.40 111.24 L1252.90 111.26 L1253.40 111.28 L1253.90 111.30 L1254.40 111.32 L1254.90 111.33 L1255.40 111.35 L1255.90 111.37 L1256.40 111.39 L1256.90 111.40 L1257.40 111.42 L1257.90 111.44 L1258.40 111.45 L1258.90 111.47 L1259.40 111.48 L1259.90 111.49 L1260.40 111.51 L1260.90 111.52 L1261.40 111.53 L1261.90 111.54 L1262.40 111.56 L1262.90 111.57 L1263.40 111.57 L1263.90 111.58 L1264.40 111.59 L1264.90 111.60 L1265.40 111.61 L1265.90 111.61 L1266.40 111.62 L1266.90 111.62 L1267.40 111.63 L1267.90 111.64 L1268.40 111.64 L1268.90 111.65 L1269.40 111.66 L1269.90 111.66 L1270.40 111.67 L1270.90 111.68 L1271.40 111.68 L1271.90 111.69 L1272.40 111.69 L1272.90 111.70 L1273.40 111.71 L1273.90 111.71 L1274.40 111.72 L1274.90 111.73 L1275.40 111.73 L1275.90 111.74 L1276.40 111.74 L1276.90 111.75 L1277.40 111.75 L1277.90 111.76 L1278.40 111.77 L1278.90 111.77 L1279.40 111.78 L1279.90 111.78 L1280.40 111.79 L1280.90 111.79 L1281.40 111.80 L1281.90 111.80 L1282.40 111.81 L1282.90 111.81 L1283.40 111.82 L1283.90 111.82 L1284.40 111.82 L1284.90 111.83 L1285.40 111.83 L1285.90 111.84 L1286.40 111.84 L1286.90 111.85 L1287.40 111.85 L1287.90 111.85 L1288.40 111.86 L1288.90 111.86 L1289.40 111.86 L1289.90 111.87 L1290.40 111.87 L1290.90 111.87 L1291.40 111.88 L1291.90 111.88 L1292.40 111.88 L1292.90 111.88 L1293.40 111.89 L1293.90 111.89 L1294.40 111.89 L1294.90 111.89 L1295.40 111.89 L1295.90 111.89 L1296.40 111.90 L1296.90 111.90 L1297.40 111.90 L1297.90 111.90 L1298.40 111.90 L1298.90 111.90 L1299.40 111.90 L1299.90 111.90 L1300.40 111.90 L1300.90 111.90 L1301.40 111.90 L1301.90 111.90 L1302.40 111.90 L1302.90 111.90 L1303.40 111.90 L1303.90 111.90 L1304.40 111.90 L1304.90 111.90 L1305.40 111.90 L1305.90 111.90 L1306.40 111.90 L1306.90 111.90 L1307.40 111.90 L1307.90 111.90 L1308.40 111.90 L1308.90 111.90 L1309.40 111.90 L1309.90 111.90 L1310.40 111.90 L1310.90 111.90 L1311.40 111.90 L1311.90 111.90 L1312.40 111.90 L1312.90 111.90 L1313.40 111.90 L1313.90 111.90 L1314.40 111.90 L1314.90 111.90 L1315.40 111.90 L1315.90 111.90 L1316.40 111.90 L1316.90 111.90 L1317.40 111.90 L1317.90 111.90 L1318.40 111.90 L1318.90 111.90 L1319.40 111.90 L1319.90 111.90 L1320.40 111.90 L1320.90 111.90 L1321.40 111.90 L1321.90 111.90 L1322.40 111.90 L1322.90 111.90 L1323.40 111.90 L1323.90 111.90 L1324.40 111.90 L1324.90 111.90 L1325.40 111.90 L1325.90 111.90 L1326.40 111.90 L1326.90 111.90 L1327.40 111.90 L1327.90 111.90 L1328.40 111.90 L1328.90 111.90 L1329.40 111.90 L1329.90 111.90 L1330.40 111.90 L1330.90 111.90 L1331.40 111.90 L1331.90 111.90 L1332.40 111.90 L1332.90 111.90 L1333.40 111.90 L1333.90 111.90 L1334.40 111.90 L1334.90 111.90 L1335.40 111.90 L1335.90 111.90 L1336.40 111.90 L1336.90 111.90 L1337.40 111.90 L1337.90 111.90 L1338.40 111.90 L1338.90 111.90 L1339.40 111.90 L1339.90 111.90 L1340.40 111.90 L1340.90 111.90 L1341.40 111.90 L1341.90 111.90 L1342.40 111.90 L1342.90 111.90 L1343.40 111.90 L1343.90 111.90 L1344.40 111.90 L1344.90 111.90 L1345.40 111.90 L1345.90 111.90 L1346.40 111.90 L1346.90 111.90 L1347.40 111.90 L1347.90 111.90 L1348.40 111.90 L1348.90 111.90 L1349.40 111.90 L1349.90 111.90 L1350.40 111.90 L1350.90 111.90 L1351.40 111.90 L1351.90 111.90 L1352.40 111.90 L1352.90 111.90 L1353.40 111.90 L1353.90 111.90 L1354.40 111.90 L1354.90 111.90 L1355.40 111.90 L1355.90 111.90 L1356.40 111.90 L1356.90 111.90 L1357.40 111.90 L1357.90 111.90 L1358.40 111.90 L1358.90 111.90 L1359.40 111.90 L1359.90 111.90 L1360.40 111.90 L1360.90 111.90 L1361.40 111.90 L1361.90 111.90 L1362.40 111.90 L1362.90 111.90 L1363.40 111.90 L1363.90 111.90 L1364.40 111.90 L1364.90 111.90 L1365.40 111.90 L1365.90 111.90 L1366.40 111.90 L1366.90 111.90 L1367.40 111.90 L1367.90 111.90 L1368.40 111.90 L1368.90 111.90 L1369.40 111.90 L1369.90 111.90 L1370.40 111.90 L1370.90 111.90 L1371.40 111.90 L1371.90 111.90 L1372.40 111.90 L1372.90 111.90 L1373.40 111.90 L1373.90 111.90 L1374.40 111.90 L1374.90 111.90 L1375.40 111.90 L1375.90 111.90 L1376.40 111.90 L1376.90 111.90 L1377.40 111.90 L1377.90 111.90 L1378.40 111.90 L1378.90 111.90 L1379.40 111.90 L1379.90 111.90 L1380.40 111.90 L1380.90 111.90 L1381.40 111.90 L1381.90 111.90 L1382.40 111.90 L1382.90 111.90 L1383.40 111.90 L1383.90 111.90 L1384.40 111.90 L1384.90 111.90 L1385.40 111.90 L1385.90 111.90 L1386.40 111.90 L1386.90 111.90 L1387.40 111.90 L1387.90 111.90 L1388.40 111.90 L1388.90 111.90 L1389.40 111.90 L1389.90 111.90 L1390.40 111.90 L1390.90 111.90 L1391.40 111.90 L1391.90 111.90 L1392.40 111.90 L1392.90 111.90 L1393.40 111.90 L1393.90 111.90 L1394.40 111.90 L1394.90 111.90 L1395.40 111.90 L1395.90 111.90 L1396.40 111.90 L1396.90 111.90 L1397.40 111.90 L1397.90 111.90 L1398.40 111.90 L1398.90 111.90 L1399.40 111.90 L1399.90 111.90 L1400.40 111.90 L1400.90 111.90 L1401.40 111.90 L1401.90 111.90 L1402.40 111.90 L1402.90 111.90 L1403.40 111.90 L1403.90 111.90 L1404.40 111.90 L1404.90 111.90 L1405.40 111.90 L1405.90 111.90 L1406.40 111.90 L1406.90 111.90 L1407.40 111.90 L1407.90 111.90 L1408.40 111.90 L1408.90 111.90 L1409.40 111.90 L1409.90 111.90 L1410.40 111.90 L1410.90 111.90 L1411.40 111.90 L1411.90 111.90 L1412.40 111.90 L1412.90 111.90 L1413.40 111.90 L1413.90 111.90 L1414.40 111.90 L1414.90 111.90 L1415.40 111.90 L1415.90 111.90 L1416.40 111.90 L1416.90 111.90 L1417.40 111.90 L1417.90 111.90 L1418.40 111.90 L1418.90 111.90 L1419.40 111.90 L1419.90 111.90 L1420.40 111.90 L1420.90 111.90 L1421.40 111.90 L1421.90 111.90 L1422.40 111.90 L1422.90 111.90 L1423.40 111.90 L1423.90 111.90 L1424.40 111.90 L1424.90 111.90 L1425.40 111.90 L1425.90 111.90 L1426.40 111.90 L1426.90 111.90 L1427.40 111.90 L1427.90 111.90 L1428.40 111.90 L1428.90 111.90 L1429.40 111.90 L1429.90 111.90 L1430.40 111.90 L1430.90 111.90 L1431.40 111.90 L1431.90 111.90 L1432.40 111.90 L1432.90 111.90 L1433.40 111.90 L1433.90 111.90 L1434.40 111.90 L1434.90 111.90 L1435.40 111.90 L1435.90 111.90 L1436.40 111.90 L1436.90 111.90 L1437.40 111.90 L1437.90 111.90 L1438.40 111.90 L1438.90 111.90 L1439.40 111.90 L1439.90 111.90 L1440.40 111.90 L1440.90 111.90 L1441.40 111.90 L1441.90 111.90 L1442.40 111.90 L1442.90 111.90 L1443.40 111.90 L1443.90 111.90 L1444.40 111.90 L1444.90 111.90 L1445.40 111.90 L1445.90 111.90 L1446.40 111.90 L1446.90 111.90 L1447.40 111.90 L1447.90 111.90 L1448.40 111.90 L1448.90 111.90 L1449.40 111.90 L1449.90 111.90 L1450.40 111.90 L1450.90 111.90 L1451.40 111.90 L1451.90 111.90 L1452.40 111.90 L1452.90 111.90 L1453.40 111.90 L1453.90 111.90 L1454.40 111.90 L1454.90 111.90 L1455.40 111.90 L1455.90 111.90 L1456.40 111.90 L1456.90 111.90 L1457.40 111.90 L1457.90 111.90 L1458.40 111.90 L1458.90 111.90 L1459.40 111.90 L1459.90 111.90 L1460.40 111.90 L1460.90 111.90 L1461.40 111.90 L1461.90 111.90 L1462.40 111.90 L1462.90 111.90 L1463.40 111.90 L1463.90 111.90 L1464.40 111.90 L1464.90 111.90 L1465.40 111.90 L1465.90 111.90 L1466.40 111.90 L1466.90 111.90 L1467.40 111.90 L1467.90 111.90 L1468.40 111.90 L1468.90 111.90 L1469.40 111.90 L1469.90 111.90 L1470.40 111.90 L1470.90 111.90 L1471.40 111.90 L1471.90 111.90 L1472.40 111.90 L1472.90 111.90 L1473.40 111.90 L1473.90 111.90 L1474.40 111.90 L1474.90 111.90 L1475.40 111.90 L1475.90 111.90 L1476.40 111.90 L1476.90 111.90 L1477.40 111.90 L1477.90 111.90 L1478.40 111.90 L1478.90 111.90 L1479.40 111.90 L1479.90 111.90 L1480.40 111.90 L1480.90 111.90 L1481.40 111.90 L1481.90 111.90 L1482.40 111.90 L1482.90 111.90 L1483.40 111.90 L1483.90 111.90 L1484.40 111.90 L1484.90 111.90 L1485.40 111.90 L1485.90 111.90 L1486.40 111.90 L1486.90 111.90 L1487.40 111.90 L1487.90 111.90 L1488.40 111.90 L1488.90 111.90 L1489.40 111.90 L1489.90 111.90 L1490.40 111.90 L1490.90 111.90 L1491.40 111.90 L1491.90 111.90 L1492.40 111.90 L1492.90 111.90 L1493.40 111.90 L1493.90 111.90 L1494.40 111.90 L1494.90 111.90 L1495.40 111.90 L1495.90 111.90 L1496.40 111.90 L1496.90 111.90 L1497.40 111.90 L1497.90 111.90 L1498.40 111.90 L1498.90 111.90 L1499.40 111.90 L1499.90 111.90 L1500.40 111.90 L1500.90 111.90 L1501.40 111.90 L1501.90 111.90 L1502.40 111.90 L1502.90 111.90 L1503.40 111.90 L1503.90 111.90 L1504.40 111.90 L1504.90 111.90 L1505.40 111.90 L1505.90 111.90 L1506.40 111.90 L1506.90 111.90 L1507.40 111.90 L1507.90 111.90 L1508.40 111.90 L1508.90 111.90 L1509.40 111.90 L1509.90 111.90 L1510.40 111.90 L1510.90 111.90 L1511.40 111.90 L1511.90 111.90 L1512.40 111.90 L1512.90 111.90 L1513.40 111.90 L1513.90 111.90 L1514.40 111.90 L1514.90 111.90 L1515.40 111.90 L1515.90 111.90 L1516.40 111.90 L1516.90 111.90 L1517.40 111.90 L1517.90 111.90 L1518.40 111.90 L1518.90 111.90 L1519.40 111.90 L1519.90 111.90 L1520.40 111.90 L1520.90 111.90 L1521.40 111.90 L1521.90 111.90 L1522.40 111.90 L1522.90 111.90 L1523.40 111.90 L1523.90 111.90 L1524.40 111.90 L1524.90 111.90 L1525.40 111.90 L1525.90 111.90 L1526.40 111.90 L1526.90 111.90 L1527.40 111.90 L1527.90 111.90 L1528.40 111.90 L1528.90 111.90 L1529.40 111.90 L1529.90 111.90 L1530.40 111.90 L1530.90 111.90 L1531.40 111.90 L1531.90 111.90 L1532.40 111.90 L1532.90 111.90 L1533.40 111.90 L1533.90 111.90 L1534.40 111.90 L1534.90 111.90 L1535.40 111.90 L1535.90 111.90 L1536.40 111.90 L1536.90 111.90 L1537.40 111.90 L1537.90 111.90 L1538.40 111.90 L1538.90 111.90 L1539.40 111.90 L1539.90 111.90 L1540.40 111.90 L1540.90 111.90 L1541.40 111.90 L1541.90 111.90 L1542.40 111.90 L1542.90 111.90 L1543.40 111.90 L1543.90 111.90 L1544.40 111.90 L1544.90 111.90 L1545.40 111.90 L1545.90 111.90 L1546.40 111.90 L1546.90 111.90 L1547.40 111.90 L1547.90 111.90 L1548.40 111.90 L1548.90 111.90 L1549.40 111.90 L1549.90 111.90 L1550.40 111.90 L1550.90 111.90 L1551.40 111.90 L1551.90 111.90 L1552.40 111.90 L1552.90 111.90 L1553.40 111.90 L1553.90 111.90 L1554.40 111.90 L1554.90 111.90 L1555.40 111.90 L1555.90 111.90 L1556.40 111.90 L1556.90 111.90 L1557.40 111.90 L1557.90 111.90 L1558.40 111.90 L1558.90 111.90 L1559.40 111.90 L1559.90 111.90 L1560.40 111.90 L1560.90 111.90 L1561.40 111.90 L1561.90 111.90 L1562.40 111.90 L1562.90 111.90 L1563.40 111.90 L1563.90 111.90 L1564.40 111.90 L1564.90 111.90 L1565.40 111.90 L1565.90 111.90 L1566.40 111.90 L1566.90 111.90 L1567.40 111.90 L1567.90 111.90 L1568.40 111.90 L1568.90 111.90 L1569.40 111.90 L1569.90 111.90 L1570.40 111.90 L1570.90 111.90 L1571.40 111.90 L1571.90 111.90 L1572.40 111.90 L1572.90 111.90 L1573.40 111.90 L1573.90 111.90 L1574.40 111.90 L1574.90 111.90 L1575.40 111.90 L1575.90 111.90 L1576.40 111.90 L1576.90 111.90 L1577.40 111.90 L1577.90 111.90 L1578.40 111.90 L1578.90 111.90 L1579.40 111.90 L1579.90 111.90 L1580.40 111.90 L1580.90 111.90 L1581.40 111.90 L1581.90 111.90 L1582.40 111.90 L1582.90 111.90 L1583.40 111.90 L1583.90 111.90 L1584.40 111.90 L1584.90 111.90 L1585.40 111.90 L1585.90 111.90 L1586.40 111.90 L1586.90 111.90 L1587.40 111.90 L1587.90 111.90 L1588.40 111.90 L1588.90 111.90 L1589.40 111.90 L1589.90 111.90 L1590.40 111.90 L1590.90 111.90 L1591.40 111.90 L1591.90 111.90 L1592.40 111.90 L1592.90 111.90 L1593.40 111.90 L1593.90 111.90 L1594.40 111.90 L1594.90 111.90 L1595.40 111.90 L1595.90 111.90 L1596.40 111.90 L1596.90 111.90 L1597.40 111.90 L1597.90 111.90 L1598.40 111.90 L1598.90 111.90 L1599.40 111.90 L1599.90 111.90 L1600.40 111.90 L1600.90 111.90 L1601.40 111.90 L1601.90 111.90 L1602.40 111.90 L1602.90 111.90 L1603.40 111.90 L1603.90 111.90 L1604.40 111.90 L1604.90 111.90 L1605.40 111.90 L1605.90 111.90 L1606.40 111.90 L1606.90 111.90 L1607.40 111.90 L1607.90 111.90 L1608.40 111.90 L1608.90 111.90 L1609.40 111.90 L1609.90 111.90 L1610.40 111.90 L1610.90 111.90 L1611.40 111.90 L1611.90 111.90 L1612.40 111.90 L1612.90 111.90 L1613.40 111.90 L1613.90 111.90 L1614.40 111.90 L1614.90 111.90 L1615.40 111.90 L1615.90 111.90 L1616.40 111.90 L1616.90 111.90 L1617.40 111.90 L1617.90 111.90 L1618.40 111.90 L1618.90 111.90 L1619.40 111.90 L1619.90 111.90 L1620.40 111.90 L1620.90 111.90 L1621.40 111.90 L1621.90 111.90 L1622.40 111.90 L1622.90 111.90 L1623.40 111.90 L1623.90 111.90 L1624.40 111.90 L1624.90 111.90 L1625.40 111.90 L1625.90 111.90 L1626.40 111.90 L1626.90 111.90 L1627.40 111.90 L1627.90 111.90 L1628.40 111.90 L1628.90 111.90 L1629.40 111.90 L1629.90 111.90 L1630.40 111.90 L1630.90 111.90 L1631.40 111.90 L1631.90 111.90 L1632.40 111.90 L1632.90 111.90 L1633.40 111.90 L1633.90 111.90 L1634.40 111.90 L1634.90 111.90 L1635.40 111.90 L1635.90 111.90 L1636.40 111.90 L1636.90 111.90 L1637.40 111.90 L1637.90 111.90 L1638.40 111.90 L1638.90 111.90 L1639.40 111.90 L1639.90 111.90 L1640.40 111.90 L1640.90 111.90 L1641.40 111.90 L1641.90 111.90 L1642.40 111.90 L1642.90 111.90 L1643.40 111.90 L1643.90 111.90 L1644.40 111.90 L1644.90 111.90 L1645.40 111.90 L1645.90 111.90 L1646.40 111.90 L1646.90 111.90 L1647.40 111.90 L1647.90 111.90 L1648.40 111.90 L1648.90 111.90 L1649.40 111.90 L1649.90 111.90 L1650.40 111.90 L1650.90 111.90 L1651.40 111.90 L1651.90 111.90 L1652.40 111.90 L1652.90 111.90 L1653.40 111.90 L1653.90 111.90 L1654.40 111.90 L1654.90 111.90 L1655.40 111.90 L1655.90 111.90 L1656.40 111.90 L1656.90 111.90 L1657.40 111.90 L1657.90 111.90 L1658.40 111.90 L1658.90 111.90 L1659.40 111.90 L1659.90 111.90 L1660.40 111.90 L1660.90 111.90 L1661.40 111.90 L1661.90 111.90 L1662.40 111.90 L1662.90 111.90 L1663.40 111.90 L1663.90 111.90 L1664.40 111.90 L1664.90 111.90 L1665.40 111.90 L1665.90 111.90 L1666.40 111.90 L1666.90 111.90 L1667.40 111.90 L1667.90 111.90 L1668.40 111.90 L1668.90 111.90 L1669.40 111.90 L1669.90 111.90 L1670.40 111.90 L1670.90 111.90 L1671.40 111.90 L1671.90 111.90 L1672.40 111.90 L1672.90 111.90 L1673.40 111.90 L1673.90 111.90 L1674.40 111.90 L1674.90 111.90 L1675.40 111.90 L1675.90 111.90 L1676.40 111.90 L1676.90 111.90 L1677.40 111.90 L1677.90 111.90 L1678.40 111.90 L1678.90 111.90 L1679.40 111.90 L1679.90 111.90 L1680.40 111.90 L1680.90 111.90 L1681.40 111.90 L1681.90 111.90 L1682.40 111.90 L1682.90 111.90 L1683.40 111.90 L1683.90 111.90 L1684.40 111.90 L1684.90 111.90 L1685.40 111.90 L1685.90 111.90 L1686.40 111.90 L1686.90 111.90 L1687.40 111.90 L1687.90 111.90 L1688.40 111.90 L1688.90 111.90 L1689.40 111.90 L1689.90 111.90 L1690.40 111.90 L1690.90 111.90 L1691.40 111.90 L1691.90 111.90 L1692.40 111.90 L1692.90 111.90 L1693.40 111.90 L1693.90 111.90 L1694.40 111.90 L1694.90 111.90 L1695.40 111.90 L1695.90 111.90 L1696.40 111.90 L1696.90 111.90 L1697.40 111.90 L1697.90 111.90 L1698.40 111.90 L1698.90 111.90 L1699.40 111.90 L1699.90 111.90 L1700.40 111.90 L1700.90 111.90 L1701.40 111.90 L1701.90 111.90 L1702.40 111.90 L1702.90 111.90 L1703.40 111.90 L1703.90 111.90 L1704.40 111.90 L1704.90 111.90 L1705.40 111.90 L1705.90 111.90 L1706.40 111.90 L1706.90 111.90 L1707.40 111.90 L1707.90 111.90 L1708.40 111.90 L1708.90 111.90 L1709.40 111.90 L1709.90 111.90 L1710.40 111.90 L1710.90 111.90 L1711.40 111.90 L1711.90 111.90 L1712.40 111.90 L1712.90 111.90 L1713.40 111.90 L1713.90 111.90 L1714.40 111.90 L1714.90 111.90 L1715.40 111.90 L1715.90 111.90 L1716.40 111.90 L1716.90 111.90 L1717.40 111.90 L1717.90 111.90 L1718.40 111.90 L1718.90 111.90 L1719.40 111.90 L1719.90 111.90 L1720.40 111.90 L1720.90 111.90 L1721.40 111.90 L1721.90 111.90 L1722.40 111.90 L1722.90 111.90 L1723.40 111.90 L1723.90 111.90 L1724.40 111.90 L1724.90 111.90 L1725.40 111.90 L1725.90 111.90 L1726.40 111.90 L1726.90 111.90 L1727.40 111.90 L1727.90 111.90 L1728.40 111.90 L1728.90 111.90 L1729.40 111.90 L1729.90 111.90 L1730.40 111.90 L1730.90 111.90 L1731.40 111.90 L1731.90 111.90 L1732.40 111.90 L1732.90 111.90 L1733.40 111.90 L1733.90 111.90 L1734.40 111.90 L1734.90 111.90 L1735.40 111.90 L1735.90 111.90 L1736.40 111.90 L1736.90 111.90 L1737.40 111.90 L1737.90 111.90 L1738.40 111.90 L1738.90 111.90 L1739.40 111.90 L1739.90 111.90 L1740.40 111.90 L1740.90 111.90 L1741.40 111.90 L1741.90 111.90 L1742.40 111.90 L1742.90 111.90 L1743.40 111.90 L1743.90 111.90 L1744.40 111.90 L1744.90 111.90 L1745.40 111.90 L1745.90 111.90 L1746.40 111.90 L1746.90 111.90 L1747.40 111.90 L1747.90 111.90 L1748.40 111.90 L1748.90 111.90 L1749.40 111.90 L1749.90 111.90 L1750.40 111.90 L1750.90 111.90 L1751.40 111.90 L1751.90 111.90 L1752.40 111.90 L1752.90 111.90" fill="none" stroke="#f4808a" stroke-width="2.2" stroke-linejoin="round" stroke-linecap="round"/>
<path d="M1021.40 65.70 L1021.90 65.68 L1022.40 65.66 L1022.90 65.64 L1023.40 65.62 L1023.90 65.61 L1024.40 65.59 L1024.90 65.57 L1025.40 65.56 L1025.90 65.54 L1026.40 65.52 L1026.90 65.51 L1027.40 65.49 L1027.90 65.48 L1028.40 65.47 L1028.90 65.45 L1029.40 65.44 L1029.90 65.43 L1030.40 65.41 L1030.90 65.40 L1031.40 65.39 L1031.90 65.38 L1032.40 65.37 L1032.90 65.36 L1033.40 65.35 L1033.90 65.34 L1034.40 65.33 L1034.90 65.32 L1035.40 65.31 L1035.90 65.31 L1036.40 65.30 L1036.90 65.29 L1037.40 65.28 L1037.90 65.28 L1038.40 65.27 L1038.90 65.27 L1039.40 65.26 L1039.90 65.25 L1040.40 65.25 L1040.90 65.24 L1041.40 65.24 L1041.90 65.23 L1042.40 65.23 L1042.90 65.23 L1043.40 65.22 L1043.90 65.22 L1044.40 65.22 L1044.90 65.21 L1045.40 65.21 L1045.90 65.21 L1046.40 65.21 L1046.90 65.21 L1047.40 65.20 L1047.90 65.20 L1048.40 65.20 L1048.90 65.20 L1049.40 65.20 L1049.90 65.20 L1050.40 65.20 L1050.90 65.20 L1051.40 65.20 L1051.90 65.20 L1052.40 65.21 L1052.90 65.21 L1053.40 65.22 L1053.90 65.23 L1054.40 65.23 L1054.90 65.24 L1055.40 65.26 L1055.90 65.27 L1056.40 65.28 L1056.90 65.29 L1057.40 65.31 L1057.90 65.32 L1058.40 65.33 L1058.90 65.35 L1059.40 65.36 L1059.90 65.37 L1060.40 65.39 L1060.90 65.40 L1061.40 65.42 L1061.90 65.43 L1062.40 65.44 L1062.90 65.45 L1063.40 65.46 L1063.90 65.47 L1064.40 65.48 L1064.90 65.49 L1065.40 65.49 L1065.90 65.50 L1066.40 65.50 L1066.90 65.50 L1067.40 65.50 L1067.90 65.50 L1068.40 65.49 L1068.90 65.49 L1069.40 65.48 L1069.90 65.47 L1070.40 65.46 L1070.90 65.45 L1071.40 65.43 L1071.90 65.42 L1072.40 65.40 L1072.90 65.38 L1073.40 65.36 L1073.90 65.34 L1074.40 65.32 L1074.90 65.30 L1075.40 65.28 L1075.90 65.25 L1076.40 65.22 L1076.90 65.20 L1077.40 65.17 L1077.90 65.14 L1078.40 65.11 L1078.90 65.08 L1079.40 65.05 L1079.90 65.02 L1080.40 64.99 L1080.90 64.95 L1081.40 64.92 L1081.90 64.89 L1082.40 64.85 L1082.90 64.82 L1083.40 64.78 L1083.90 64.75 L1084.40 64.71 L1084.90 64.68 L1085.40 64.64 L1085.90 64.61 L1086.40 64.57 L1086.90 64.53 L1087.40 64.50 L1087.90 64.46 L1088.40 64.43 L1088.90 64.39 L1089.40 64.36 L1089.90 64.32 L1090.40 64.29 L1090.90 64.26 L1091.40 64.22 L1091.90 64.19 L1092.40 64.16 L1092.90 64.12 L1093.40 64.09 L1093.90 64.06 L1094.40 64.03 L1094.90 64.00 L1095.40 63.98 L1095.90 63.95 L1096.40 63.91 L1096.90 63.88 L1097.40 63.85 L1097.90 63.81 L1098.40 63.78 L1098.90 63.74 L1099.40 63.71 L1099.90 63.67 L1100.40 63.63 L1100.90 63.59 L1101.40 63.55 L1101.90 63.51 L1102.40 63.47 L1102.90 63.43 L1103.40 63.39 L1103.90 63.35 L1104.40 63.31 L1104.90 63.27 L1105.40 63.23 L1105.90 63.19 L1106.40 63.15 L1106.90 63.11 L1107.40 63.08 L1107.90 63.04 L1108.40 63.00 L1108.90 62.96 L1109.40 62.93 L1109.90 62.89 L1110.40 62.86 L1110.90 62.83 L1111.40 62.79 L1111.90 62.76 L1112.40 62.73 L1112.90 62.70 L1113.40 62.68 L1113.90 62.65 L1114.40 62.62 L1114.90 62.60 L1115.40 62.58 L1115.90 62.56 L1116.40 62.54 L1116.90 62.52 L1117.40 62.51 L1117.90 62.49 L1118.40 62.48 L1118.90 62.46 L1119.40 62.44 L1119.90 62.42 L1120.40 62.38 L1120.90 62.32 L1121.40 62.22 L1121.90 62.08 L1122.40 61.90 L1122.90 61.69 L1123.40 61.51 L1123.90 61.46 L1124.40 61.61 L1124.90 61.98 L1125.40 62.40 L1125.90 62.77 L1126.40 63.03 L1126.90 63.20 L1127.40 63.31 L1127.90 63.37 L1128.40 63.42 L1128.90 63.47 L1129.40 63.51 L1129.90 63.55 L1130.40 63.60 L1130.90 63.64 L1131.40 63.68 L1131.90 63.72 L1132.40 63.77 L1132.90 63.81 L1133.40 63.85 L1133.90 63.90 L1134.40 63.94 L1134.90 63.98 L1135.40 64.02 L1135.90 64.06 L1136.40 64.11 L1136.90 64.15 L1137.40 64.19 L1137.90 64.23 L1138.40 64.27 L1138.90 64.31 L1139.40 64.35 L1139.90 64.39 L1140.40 64.43 L1140.90 64.47 L1141.40 64.51 L1141.90 64.55 L1142.40 64.59 L1142.90 64.63 L1143.40 64.66 L1143.90 64.70 L1144.40 64.74 L1144.90 64.77 L1145.40 64.81 L1145.90 64.84 L1146.40 64.88 L1146.90 64.91 L1147.40 64.95 L1147.90 64.98 L1148.40 65.01 L1148.90 65.04 L1149.40 65.07 L1149.90 65.10 L1150.40 65.13 L1150.90 65.16 L1151.40 65.19 L1151.90 65.22 L1152.40 65.24 L1152.90 65.27 L1153.40 65.29 L1153.90 65.32 L1154.40 65.34 L1154.90 65.36 L1155.40 65.39 L1155.90 65.41 L1156.40 65.43 L1156.90 65.45 L1157.40 65.46 L1157.90 65.48 L1158.40 65.50 L1158.90 65.51 L1159.40 65.52 L1159.90 65.54 L1160.40 65.55 L1160.90 65.56 L1161.40 65.57 L1161.90 65.58 L1162.40 65.58 L1162.90 65.59 L1163.40 65.59 L1163.90 65.60 L1164.40 65.60 L1164.90 65.60 L1165.40 65.60 L1165.90 65.60 L1166.40 65.60 L1166.90 65.60 L1167.40 65.60 L1167.90 65.59 L1168.40 65.59 L1168.90 65.59 L1169.40 65.59 L1169.90 65.58 L1170.40 65.58 L1170.90 65.58 L1171.40 65.57 L1171.90 65.57 L1172.40 65.57 L1172.90 65.56 L1173.40 65.56 L1173.90 65.55 L1174.40 65.55 L1174.90 65.54 L1175.40 65.54 L1175.90 65.53 L1176.40 65.52 L1176.90 65.52 L1177.40 65.51 L1177.90 65.50 L1178.40 65.50 L1178.90 65.49 L1179.40 65.48 L1179.90 65.47 L1180.40 65.47 L1180.90 65.46 L1181.40 65.45 L1181.90 65.44 L1182.40 65.43 L1182.90 65.42 L1183.40 65.42 L1183.90 65.41 L1184.40 65.40 L1184.90 65.39 L1185.40 65.38 L1185.90 65.37 L1186.40 65.36 L1186.90 65.35 L1187.40 65.34 L1187.90 65.33 L1188.40 65.32 L1188.90 65.31 L1189.40 65.30 L1189.90 65.29 L1190.40 65.28 L1190.90 65.27 L1191.40 65.26 L1191.90 65.25 L1192.40 65.24 L1192.90 65.22 L1193.40 65.21 L1193.90 65.20 L1194.40 65.19 L1194.90 65.18 L1195.40 65.17 L1195.90 65.16 L1196.40 65.15 L1196.90 65.14 L1197.40 65.12 L1197.90 65.11 L1198.40 65.10 L1198.90 65.09 L1199.40 65.08 L1199.90 65.07 L1200.40 65.06 L1200.90 65.05 L1201.40 65.04 L1201.90 65.02 L1202.40 65.01 L1202.90 65.00 L1203.40 64.99 L1203.90 64.98 L1204.40 64.97 L1204.90 64.96 L1205.40 64.95 L1205.90 64.94 L1206.40 64.93 L1206.90 64.92 L1207.40 64.91 L1207.90 64.90 L1208.40 64.88 L1208.90 64.87 L1209.40 64.86 L1209.90 64.85 L1210.40 64.84 L1210.90 64.84 L1211.40 64.83 L1211.90 64.82 L1212.40 64.81 L1212.90 64.80 L1213.40 64.79 L1213.90 64.78 L1214.40 64.77 L1214.90 64.76 L1215.40 64.75 L1215.90 64.75 L1216.40 64.74 L1216.90 64.73 L1217.40 64.72 L1217.90 64.71 L1218.40 64.71 L1218.90 64.70 L1219.40 64.69 L1219.90 64.69 L1220.40 64.68 L1220.90 64.67 L1221.40 64.67 L1221.90 64.66 L1222.40 64.66 L1222.90 64.65 L1223.40 64.65 L1223.90 64.64 L1224.40 64.64 L1224.90 64.63 L1225.40 64.63 L1225.90 64.62 L1226.40 64.62 L1226.90 64.62 L1227.40 64.61 L1227.90 64.61 L1228.40 64.61 L1228.90 64.61 L1229.40 64.60 L1229.90 64.60 L1230.40 64.60 L1230.90 64.60 L1231.40 64.60 L1231.90 64.60 L1232.40 64.60 L1232.90 64.60 L1233.40 64.60 L1233.90 64.60 L1234.40 64.61 L1234.90 64.61 L1235.40 64.62 L1235.90 64.62 L1236.40 64.63 L1236.90 64.63 L1237.40 64.64 L1237.90 64.64 L1238.40 64.65 L1238.90 64.66 L1239.40 64.67 L1239.90 64.68 L1240.40 64.69 L1240.90 64.70 L1241.40 64.71 L1241.90 64.72 L1242.40 64.73 L1242.90 64.74 L1243.40 64.76 L1243.90 64.77 L1244.40 64.78 L1244.90 64.79 L1245.40 64.81 L1245.90 64.82 L1246.40 64.84 L1246.90 64.85 L1247.40 64.87 L1247.90 64.88 L1248.40 64.90 L1248.90 64.92 L1249.40 64.93 L1249.90 64.95 L1250.40 64.97 L1250.90 64.98 L1251.40 65.00 L1251.90 65.02 L1252.40 65.03 L1252.90 65.05 L1253.40 65.07 L1253.90 65.09 L1254.40 65.11 L1254.90 65.13 L1255.40 65.14 L1255.90 65.16 L1256.40 65.18 L1256.90 65.20 L1257.40 65.22 L1257.90 65.24 L1258.40 65.26 L1258.90 65.28 L1259.40 65.30 L1259.90 65.32 L1260.40 65.33 L1260.90 65.35 L1261.40 65.37 L1261.90 65.39 L1262.40 65.41 L1262.90 65.43 L1263.40 65.45 L1263.90 65.47 L1264.40 65.49 L1264.90 65.50 L1265.40 65.52 L1265.90 65.54 L1266.40 65.56 L1266.90 65.58 L1267.40 65.59 L1267.90 65.61 L1268.40 65.63 L1268.90 65.64 L1269.40 65.66 L1269.90 65.68 L1270.40 65.69 L1270.90 65.71 L1271.40 65.73 L1271.90 65.74 L1272.40 65.76 L1272.90 65.77 L1273.40 65.79 L1273.90 65.80 L1274.40 65.81 L1274.90 65.83 L1275.40 65.84 L1275.90 65.85 L1276.40 65.86 L1276.90 65.88 L1277.40 65.89 L1277.90 65.90 L1278.40 65.91 L1278.90 65.92 L1279.40 65.93 L1279.90 65.94 L1280.40 65.94 L1280.90 65.95 L1281.40 65.96 L1281.90 65.97 L1282.40 65.97 L1282.90 65.98 L1283.40 65.98 L1283.90 65.99 L1284.40 65.99 L1284.90 65.99 L1285.40 66.00 L1285.90 66.00 L1286.40 66.00 L1286.90 66.00 L1287.40 66.00 L1287.90 66.00 L1288.40 66.00 L1288.90 66.00 L1289.40 66.00 L1289.90 66.00 L1290.40 66.00 L1290.90 66.00 L1291.40 66.00 L1291.90 66.00 L1292.40 66.00 L1292.90 66.00 L1293.40 66.00 L1293.90 66.00 L1294.40 66.00 L1294.90 66.00 L1295.40 66.00 L1295.90 66.00 L1296.40 66.00 L1296.90 66.00 L1297.40 66.00 L1297.90 66.00 L1298.40 66.00 L1298.90 66.00 L1299.40 66.00 L1299.90 66.00 L1300.40 66.00 L1300.90 66.00 L1301.40 66.00 L1301.90 66.00 L1302.40 66.00 L1302.90 66.00 L1303.40 66.00 L1303.90 66.00 L1304.40 66.00 L1304.90 66.00 L1305.40 66.00 L1305.90 66.00 L1306.40 66.00 L1306.90 66.00 L1307.40 66.00 L1307.90 66.00 L1308.40 66.00 L1308.90 66.00 L1309.40 66.00 L1309.90 66.00 L1310.40 66.00 L1310.90 66.00 L1311.40 66.00 L1311.90 66.00 L1312.40 66.00 L1312.90 66.00 L1313.40 66.00 L1313.90 66.00 L1314.40 66.00 L1314.90 66.00 L1315.40 66.00 L1315.90 66.00 L1316.40 66.00 L1316.90 66.00 L1317.40 66.00 L1317.90 66.00 L1318.40 66.00 L1318.90 66.00 L1319.40 66.00 L1319.90 66.00 L1320.40 66.00 L1320.90 66.00 L1321.40 66.00 L1321.90 66.00 L1322.40 66.00 L1322.90 66.00 L1323.40 66.00 L1323.90 66.00 L1324.40 66.00 L1324.90 66.00 L1325.40 66.00 L1325.90 66.00 L1326.40 66.00 L1326.90 66.00 L1327.40 66.00 L1327.90 66.00 L1328.40 66.00 L1328.90 66.00 L1329.40 66.00 L1329.90 66.00 L1330.40 66.00 L1330.90 66.00 L1331.40 66.00 L1331.90 66.00 L1332.40 66.00 L1332.90 66.00 L1333.40 66.00 L1333.90 66.00 L1334.40 66.00 L1334.90 66.00 L1335.40 66.00 L1335.90 66.00 L1336.40 66.00 L1336.90 66.00 L1337.40 66.00 L1337.90 66.00 L1338.40 66.00 L1338.90 66.00 L1339.40 66.00 L1339.90 66.00 L1340.40 66.00 L1340.90 66.00 L1341.40 66.00 L1341.90 66.00 L1342.40 66.00 L1342.90 66.00 L1343.40 66.00 L1343.90 66.00 L1344.40 66.00 L1344.90 66.00 L1345.40 66.00 L1345.90 66.00 L1346.40 66.00 L1346.90 66.00 L1347.40 66.00 L1347.90 66.00 L1348.40 66.00 L1348.90 66.00 L1349.40 66.00 L1349.90 66.00 L1350.40 66.00 L1350.90 66.00 L1351.40 66.00 L1351.90 66.00 L1352.40 66.00 L1352.90 66.00 L1353.40 66.00 L1353.90 66.00 L1354.40 66.00 L1354.90 66.00 L1355.40 66.00 L1355.90 66.00 L1356.40 66.00 L1356.90 66.00 L1357.40 66.00 L1357.90 66.00 L1358.40 66.00 L1358.90 66.00 L1359.40 66.00 L1359.90 66.00 L1360.40 66.00 L1360.90 66.00 L1361.40 66.00 L1361.90 66.00 L1362.40 66.00 L1362.90 66.00 L1363.40 66.00 L1363.90 66.00 L1364.40 66.00 L1364.90 66.00 L1365.40 66.00 L1365.90 66.00 L1366.40 66.00 L1366.90 66.00 L1367.40 66.00 L1367.90 66.00 L1368.40 66.00 L1368.90 66.00 L1369.40 66.00 L1369.90 66.00 L1370.40 66.00 L1370.90 66.00 L1371.40 66.00 L1371.90 66.00 L1372.40 66.00 L1372.90 66.00 L1373.40 66.00 L1373.90 66.00 L1374.40 66.00 L1374.90 66.00 L1375.40 66.00 L1375.90 66.00 L1376.40 66.00 L1376.90 66.00 L1377.40 66.00 L1377.90 66.00 L1378.40 66.00 L1378.90 66.00 L1379.40 66.00 L1379.90 66.00 L1380.40 66.00 L1380.90 66.00 L1381.40 66.00 L1381.90 66.00 L1382.40 66.00 L1382.90 66.00 L1383.40 66.00 L1383.90 66.00 L1384.40 66.00 L1384.90 66.00 L1385.40 66.00 L1385.90 66.00 L1386.40 66.00 L1386.90 66.00 L1387.40 66.00 L1387.90 66.00 L1388.40 66.00 L1388.90 66.00 L1389.40 66.00 L1389.90 66.00 L1390.40 66.00 L1390.90 66.00 L1391.40 66.00 L1391.90 66.00 L1392.40 66.00 L1392.90 66.00 L1393.40 66.00 L1393.90 66.00 L1394.40 66.00 L1394.90 66.00 L1395.40 66.00 L1395.90 66.00 L1396.40 66.00 L1396.90 66.00 L1397.40 66.00 L1397.90 66.00 L1398.40 66.00 L1398.90 66.00 L1399.40 66.00 L1399.90 66.00 L1400.40 66.00 L1400.90 66.00 L1401.40 66.00 L1401.90 66.00 L1402.40 66.00 L1402.90 66.00 L1403.40 66.00 L1403.90 66.00 L1404.40 66.00 L1404.90 66.00 L1405.40 66.00 L1405.90 66.00 L1406.40 66.00 L1406.90 66.00 L1407.40 66.00 L1407.90 66.00 L1408.40 66.00 L1408.90 66.00 L1409.40 66.00 L1409.90 66.00 L1410.40 66.00 L1410.90 66.00 L1411.40 66.00 L1411.90 66.00 L1412.40 66.00 L1412.90 66.00 L1413.40 66.00 L1413.90 66.00 L1414.40 66.00 L1414.90 66.00 L1415.40 66.00 L1415.90 66.00 L1416.40 66.00 L1416.90 66.00 L1417.40 66.00 L1417.90 66.00 L1418.40 66.00 L1418.90 66.00 L1419.40 66.00 L1419.90 66.00 L1420.40 66.00 L1420.90 66.00 L1421.40 66.00 L1421.90 66.00 L1422.40 66.00 L1422.90 66.00 L1423.40 66.00 L1423.90 66.00 L1424.40 66.00 L1424.90 66.00 L1425.40 66.00 L1425.90 66.00 L1426.40 66.00 L1426.90 66.00 L1427.40 66.00 L1427.90 66.00 L1428.40 66.00 L1428.90 66.00 L1429.40 66.00 L1429.90 66.00 L1430.40 66.00 L1430.90 66.00 L1431.40 66.00 L1431.90 66.00 L1432.40 66.00 L1432.90 66.00 L1433.40 66.00 L1433.90 66.00 L1434.40 66.00 L1434.90 66.00 L1435.40 66.00 L1435.90 66.00 L1436.40 66.00 L1436.90 66.00 L1437.40 66.00 L1437.90 66.00 L1438.40 66.00 L1438.90 66.00 L1439.40 66.00 L1439.90 66.00 L1440.40 66.00 L1440.90 66.00 L1441.40 66.00 L1441.90 66.00 L1442.40 66.00 L1442.90 66.00 L1443.40 66.00 L1443.90 66.00 L1444.40 66.00 L1444.90 66.00 L1445.40 66.00 L1445.90 66.00 L1446.40 66.00 L1446.90 66.00 L1447.40 66.00 L1447.90 66.00 L1448.40 66.00 L1448.90 66.00 L1449.40 66.00 L1449.90 66.00 L1450.40 66.00 L1450.90 66.00 L1451.40 66.00 L1451.90 66.00 L1452.40 66.00 L1452.90 66.00 L1453.40 66.00 L1453.90 66.00 L1454.40 66.00 L1454.90 66.00 L1455.40 66.00 L1455.90 66.00 L1456.40 66.00 L1456.90 66.00 L1457.40 66.00 L1457.90 66.00 L1458.40 66.00 L1458.90 66.00 L1459.40 66.00 L1459.90 66.00 L1460.40 66.00 L1460.90 66.00 L1461.40 66.00 L1461.90 66.00 L1462.40 66.00 L1462.90 66.00 L1463.40 66.00 L1463.90 66.00 L1464.40 66.00 L1464.90 66.00 L1465.40 66.00 L1465.90 66.00 L1466.40 66.00 L1466.90 66.00 L1467.40 66.00 L1467.90 66.00 L1468.40 66.00 L1468.90 66.00 L1469.40 66.00 L1469.90 66.00 L1470.40 66.00 L1470.90 66.00 L1471.40 66.00 L1471.90 66.00 L1472.40 66.00 L1472.90 66.00 L1473.40 66.00 L1473.90 66.00 L1474.40 66.00 L1474.90 66.00 L1475.40 66.00 L1475.90 66.00 L1476.40 66.00 L1476.90 66.00 L1477.40 66.00 L1477.90 66.00 L1478.40 66.00 L1478.90 66.00 L1479.40 66.00 L1479.90 66.00 L1480.40 66.00 L1480.90 66.00 L1481.40 66.00 L1481.90 66.00 L1482.40 66.00 L1482.90 66.00 L1483.40 66.00 L1483.90 66.00 L1484.40 66.00 L1484.90 66.00 L1485.40 66.00 L1485.90 66.00 L1486.40 66.00 L1486.90 66.00 L1487.40 66.00 L1487.90 66.00 L1488.40 66.00 L1488.90 66.00 L1489.40 66.00 L1489.90 66.00 L1490.40 66.00 L1490.90 66.00 L1491.40 66.00 L1491.90 66.00 L1492.40 66.00 L1492.90 66.00 L1493.40 66.00 L1493.90 66.00 L1494.40 66.00 L1494.90 66.00 L1495.40 66.00 L1495.90 66.00 L1496.40 66.00 L1496.90 66.00 L1497.40 66.00 L1497.90 66.00 L1498.40 66.00 L1498.90 66.00 L1499.40 66.00 L1499.90 66.00 L1500.40 66.00 L1500.90 66.00 L1501.40 66.00 L1501.90 66.00 L1502.40 66.00 L1502.90 66.00 L1503.40 66.00 L1503.90 66.00 L1504.40 66.00 L1504.90 66.00 L1505.40 66.00 L1505.90 66.00 L1506.40 66.00 L1506.90 66.00 L1507.40 66.00 L1507.90 66.00 L1508.40 66.00 L1508.90 66.00 L1509.40 66.00 L1509.90 66.00 L1510.40 66.00 L1510.90 66.00 L1511.40 66.00 L1511.90 66.00 L1512.40 66.00 L1512.90 66.00 L1513.40 66.00 L1513.90 66.00 L1514.40 66.00 L1514.90 66.00 L1515.40 66.00 L1515.90 66.00 L1516.40 66.00 L1516.90 66.00 L1517.40 66.00 L1517.90 66.00 L1518.40 66.00 L1518.90 66.00 L1519.40 66.00 L1519.90 66.00 L1520.40 66.00 L1520.90 66.00 L1521.40 66.00 L1521.90 66.00 L1522.40 66.00 L1522.90 66.00 L1523.40 66.00 L1523.90 66.00 L1524.40 66.00 L1524.90 66.00 L1525.40 66.00 L1525.90 66.00 L1526.40 66.00 L1526.90 66.00 L1527.40 66.00 L1527.90 66.00 L1528.40 66.00 L1528.90 66.00 L1529.40 66.00 L1529.90 66.00 L1530.40 66.00 L1530.90 66.00 L1531.40 66.00 L1531.90 66.00 L1532.40 66.00 L1532.90 66.00 L1533.40 66.00 L1533.90 66.00 L1534.40 66.00 L1534.90 66.00 L1535.40 66.00 L1535.90 66.00 L1536.40 66.00 L1536.90 66.00 L1537.40 66.00 L1537.90 66.00 L1538.40 66.00 L1538.90 66.00 L1539.40 66.00 L1539.90 66.00 L1540.40 66.00 L1540.90 66.00 L1541.40 66.00 L1541.90 66.00 L1542.40 66.00 L1542.90 66.00 L1543.40 66.00 L1543.90 66.00 L1544.40 66.00 L1544.90 66.00 L1545.40 66.00 L1545.90 66.00 L1546.40 66.00 L1546.90 66.00 L1547.40 66.00 L1547.90 66.00 L1548.40 66.00 L1548.90 66.00 L1549.40 66.00 L1549.90 66.00 L1550.40 66.00 L1550.90 66.00 L1551.40 66.00 L1551.90 66.00 L1552.40 66.00 L1552.90 66.00 L1553.40 66.00 L1553.90 66.00 L1554.40 66.00 L1554.90 66.00 L1555.40 66.00 L1555.90 66.00 L1556.40 66.00 L1556.90 66.00 L1557.40 66.00 L1557.90 66.00 L1558.40 66.00 L1558.90 66.00 L1559.40 66.00 L1559.90 66.00 L1560.40 66.00 L1560.90 66.00 L1561.40 66.00 L1561.90 66.00 L1562.40 66.00 L1562.90 66.00 L1563.40 66.00 L1563.90 66.00 L1564.40 66.00 L1564.90 66.00 L1565.40 66.00 L1565.90 66.00 L1566.40 66.00 L1566.90 66.00 L1567.40 66.00 L1567.90 66.00 L1568.40 66.00 L1568.90 66.00 L1569.40 66.00 L1569.90 66.00 L1570.40 66.00 L1570.90 66.00 L1571.40 66.00 L1571.90 66.00 L1572.40 66.00 L1572.90 66.00 L1573.40 66.00 L1573.90 66.00 L1574.40 66.00 L1574.90 66.00 L1575.40 66.00 L1575.90 66.00 L1576.40 66.00 L1576.90 66.00 L1577.40 66.00 L1577.90 66.00 L1578.40 66.00 L1578.90 66.00 L1579.40 66.00 L1579.90 66.00 L1580.40 66.00 L1580.90 66.00 L1581.40 66.00 L1581.90 66.00 L1582.40 66.00 L1582.90 66.00 L1583.40 66.00 L1583.90 66.00 L1584.40 66.00 L1584.90 66.00 L1585.40 66.00 L1585.90 66.00 L1586.40 66.00 L1586.90 66.00 L1587.40 66.00 L1587.90 66.00 L1588.40 66.00 L1588.90 66.00 L1589.40 66.00 L1589.90 66.00 L1590.40 66.00 L1590.90 66.00 L1591.40 66.00 L1591.90 66.00 L1592.40 66.00 L1592.90 66.00 L1593.40 66.00 L1593.90 66.00 L1594.40 66.00 L1594.90 66.00 L1595.40 66.00 L1595.90 66.00 L1596.40 66.00 L1596.90 66.00 L1597.40 66.00 L1597.90 66.00 L1598.40 66.00 L1598.90 66.00 L1599.40 66.00 L1599.90 66.00 L1600.40 66.00 L1600.90 66.00 L1601.40 66.00 L1601.90 66.00 L1602.40 66.00 L1602.90 66.00 L1603.40 66.00 L1603.90 66.00 L1604.40 66.00 L1604.90 66.00 L1605.40 66.00 L1605.90 66.00 L1606.40 66.00 L1606.90 66.00 L1607.40 66.00 L1607.90 66.00 L1608.40 66.00 L1608.90 66.00 L1609.40 66.00 L1609.90 66.00 L1610.40 66.00 L1610.90 66.00 L1611.40 66.00 L1611.90 66.00 L1612.40 66.00 L1612.90 66.00 L1613.40 66.00 L1613.90 66.00 L1614.40 66.00 L1614.90 66.00 L1615.40 66.00 L1615.90 66.00 L1616.40 66.00 L1616.90 66.00 L1617.40 66.00 L1617.90 66.00 L1618.40 66.00 L1618.90 66.00 L1619.40 66.00 L1619.90 66.00 L1620.40 66.00 L1620.90 66.00 L1621.40 66.00 L1621.90 66.00 L1622.40 66.00 L1622.90 66.00 L1623.40 66.00 L1623.90 66.00 L1624.40 66.00 L1624.90 66.00 L1625.40 66.00 L1625.90 66.00 L1626.40 66.00 L1626.90 66.00 L1627.40 66.00 L1627.90 66.00 L1628.40 66.00 L1628.90 66.00 L1629.40 66.00 L1629.90 66.00 L1630.40 66.00 L1630.90 66.00 L1631.40 66.00 L1631.90 66.00 L1632.40 66.00 L1632.90 66.00 L1633.40 66.00 L1633.90 66.00 L1634.40 66.00 L1634.90 66.00 L1635.40 66.00 L1635.90 66.00 L1636.40 66.00 L1636.90 66.00 L1637.40 66.00 L1637.90 66.00 L1638.40 66.00 L1638.90 66.00 L1639.40 66.00 L1639.90 66.00 L1640.40 66.00 L1640.90 66.00 L1641.40 66.00 L1641.90 66.00 L1642.40 66.00 L1642.90 66.00 L1643.40 66.00 L1643.90 66.00 L1644.40 66.00 L1644.90 66.00 L1645.40 66.00 L1645.90 66.00 L1646.40 66.00 L1646.90 66.00 L1647.40 66.00 L1647.90 66.00 L1648.40 66.00 L1648.90 66.00 L1649.40 66.00 L1649.90 66.00 L1650.40 66.00 L1650.90 66.00 L1651.40 66.00 L1651.90 66.00 L1652.40 66.00 L1652.90 66.00 L1653.40 66.00 L1653.90 66.00 L1654.40 66.00 L1654.90 66.00 L1655.40 66.00 L1655.90 66.00 L1656.40 66.00 L1656.90 66.00 L1657.40 66.00 L1657.90 66.00 L1658.40 66.00 L1658.90 66.00 L1659.40 66.00 L1659.90 66.00 L1660.40 66.00 L1660.90 66.00 L1661.40 66.00 L1661.90 66.00 L1662.40 66.00 L1662.90 66.00 L1663.40 66.00 L1663.90 66.00 L1664.40 66.00 L1664.90 66.00 L1665.40 66.00 L1665.90 66.00 L1666.40 66.00 L1666.90 66.00 L1667.40 66.00 L1667.90 66.00 L1668.40 66.00 L1668.90 66.00 L1669.40 66.00 L1669.90 66.00 L1670.40 66.00 L1670.90 66.00 L1671.40 66.00 L1671.90 66.00 L1672.40 66.00 L1672.90 66.00 L1673.40 66.00 L1673.90 66.00 L1674.40 66.00 L1674.90 66.00 L1675.40 66.00 L1675.90 66.00 L1676.40 66.00 L1676.90 66.00 L1677.40 66.00 L1677.90 66.00 L1678.40 66.00 L1678.90 66.00 L1679.40 66.00 L1679.90 66.00 L1680.40 66.00 L1680.90 66.00 L1681.40 66.00 L1681.90 66.00 L1682.40 66.00 L1682.90 66.00 L1683.40 66.00 L1683.90 66.00 L1684.40 66.00 L1684.90 66.00 L1685.40 66.00 L1685.90 66.00 L1686.40 66.00 L1686.90 66.00 L1687.40 66.00 L1687.90 66.00 L1688.40 66.00 L1688.90 66.00 L1689.40 66.00 L1689.90 66.00 L1690.40 66.00 L1690.90 66.00 L1691.40 66.00 L1691.90 66.00 L1692.40 66.00 L1692.90 66.00 L1693.40 66.00 L1693.90 66.00 L1694.40 66.00 L1694.90 66.00 L1695.40 66.00 L1695.90 66.00 L1696.40 66.00 L1696.90 66.00 L1697.40 66.00 L1697.90 66.00 L1698.40 66.00 L1698.90 66.00 L1699.40 66.00 L1699.90 66.00 L1700.40 66.00 L1700.90 66.00 L1701.40 66.00 L1701.90 66.00 L1702.40 66.00 L1702.90 66.00 L1703.40 66.00 L1703.90 66.00 L1704.40 66.00 L1704.90 66.00 L1705.40 66.00 L1705.90 66.00 L1706.40 66.00 L1706.90 66.00 L1707.40 66.00 L1707.90 66.00 L1708.40 66.00 L1708.90 66.00 L1709.40 66.00 L1709.90 66.00 L1710.40 66.00 L1710.90 66.00 L1711.40 66.00 L1711.90 66.00 L1712.40 66.00 L1712.90 66.00 L1713.40 66.00 L1713.90 66.00 L1714.40 66.00 L1714.90 66.00 L1715.40 66.00 L1715.90 66.00 L1716.40 66.00 L1716.90 66.00 L1717.40 66.00 L1717.90 66.00 L1718.40 66.00 L1718.90 66.00 L1719.40 66.00 L1719.90 66.00 L1720.40 66.00 L1720.90 66.00 L1721.40 66.00 L1721.90 66.00 L1722.40 66.00 L1722.90 66.00 L1723.40 66.00 L1723.90 66.00 L1724.40 66.00 L1724.90 66.00 L1725.40 66.00 L1725.90 66.00 L1726.40 66.00 L1726.90 66.00 L1727.40 66.00 L1727.90 66.00 L1728.40 66.00 L1728.90 66.00 L1729.40 66.00 L1729.90 66.00 L1730.40 66.00 L1730.90 66.00 L1731.40 66.00 L1731.90 66.00 L1732.40 66.00 L1732.90 66.00 L1733.40 66.00 L1733.90 66.00 L1734.40 66.00 L1734.90 66.00 L1735.40 66.00 L1735.90 66.00 L1736.40 66.00 L1736.90 66.00 L1737.40 66.00 L1737.90 66.00 L1738.40 66.00 L1738.90 66.00 L1739.40 66.00 L1739.90 66.00 L1740.40 66.00 L1740.90 66.00 L1741.40 66.00 L1741.90 66.00 L1742.40 66.00 L1742.90 66.00 L1743.40 66.00 L1743.90 66.00 L1744.40 66.00 L1744.90 66.00 L1745.40 66.00 L1745.90 66.00 L1746.40 66.00 L1746.90 66.00 L1747.40 66.00 L1747.90 66.00 L1748.40 66.00 L1748.90 66.00 L1749.40 66.00 L1749.90 66.00 L1750.40 66.00 L1750.90 66.00 L1751.40 66.00 L1751.90 66.00 L1752.40 66.00 L1752.90 66.00" fill="none" stroke="#333333" stroke-width="2.1" stroke-linejoin="round" stroke-linecap="round"/>
<g stroke="#1e1e1e" stroke-width="2.6" fill="none" stroke-linecap="round">
<path d="M70.5 34.9 L70.5 625.5 L802.2 625.5"/>
<path d="M1021.4 34.9 L1021.4 625.5 L1753.2 625.5"/>
</g>
<g stroke="#1e1e1e" stroke-width="2.4" fill="none" stroke-linecap="butt">
<path d="M70.50 625.5 L70.50 637.1"/>
<path d="M131.47 625.5 L131.47 631.4"/>
<path d="M192.45 625.5 L192.45 637.1"/>
<path d="M253.43 625.5 L253.43 631.4"/>
<path d="M314.40 625.5 L314.40 637.1"/>
<path d="M375.38 625.5 L375.38 631.4"/>
<path d="M436.35 625.5 L436.35 637.1"/>
<path d="M497.33 625.5 L497.33 631.4"/>
<path d="M558.30 625.5 L558.30 637.1"/>
<path d="M619.27 625.5 L619.27 631.4"/>
<path d="M680.25 625.5 L680.25 637.1"/>
<path d="M741.23 625.5 L741.23 631.4"/>
<path d="M802.20 625.5 L802.20 637.1"/>
<path d="M1021.40 625.5 L1021.40 631.4"/>
<path d="M1087.93 625.5 L1087.93 637.1"/>
<path d="M1154.45 625.5 L1154.45 631.4"/>
<path d="M1220.98 625.5 L1220.98 637.1"/>
<path d="M1287.51 625.5 L1287.51 631.4"/>
<path d="M1354.04 625.5 L1354.04 637.1"/>
<path d="M1420.56 625.5 L1420.56 631.4"/>
<path d="M1487.09 625.5 L1487.09 637.1"/>
<path d="M1553.62 625.5 L1553.62 631.4"/>
<path d="M1620.15 625.5 L1620.15 637.1"/>
<path d="M1686.67 625.5 L1686.67 631.4"/>
<path d="M1753.20 625.5 L1753.20 637.1"/>
</g>
<text x="73.06" y="667.4" font-size="28.8" font-weight="bold" text-anchor="middle" fill="#000" transform="scale(0.965 1)">0</text>
<text x="199.43" y="667.4" font-size="28.8" font-weight="bold" text-anchor="middle" fill="#000" transform="scale(0.965 1)">50</text>
<text x="325.80" y="667.4" font-size="28.8" font-weight="bold" text-anchor="middle" fill="#000" transform="scale(0.965 1)">100</text>
<text x="452.18" y="667.4" font-size="28.8" font-weight="bold" text-anchor="middle" fill="#000" transform="scale(0.965 1)">150</text>
<text x="578.55" y="667.4" font-size="28.8" font-weight="bold" text-anchor="middle" fill="#000" transform="scale(0.965 1)">200</text>
<text x="704.92" y="667.4" font-size="28.8" font-weight="bold" text-anchor="middle" fill="#000" transform="scale(0.965 1)">250</text>
<text x="831.30" y="667.4" font-size="28.8" font-weight="bold" text-anchor="middle" fill="#000" transform="scale(0.965 1)">300</text>
<text x="1127.39" y="667.4" font-size="28.8" font-weight="bold" text-anchor="middle" fill="#000" transform="scale(0.965 1)">10</text>
<text x="1265.27" y="667.4" font-size="28.8" font-weight="bold" text-anchor="middle" fill="#000" transform="scale(0.965 1)">20</text>
<text x="1403.15" y="667.4" font-size="28.8" font-weight="bold" text-anchor="middle" fill="#000" transform="scale(0.965 1)">30</text>
<text x="1541.03" y="667.4" font-size="28.8" font-weight="bold" text-anchor="middle" fill="#000" transform="scale(0.965 1)">40</text>
<text x="1678.91" y="667.4" font-size="28.8" font-weight="bold" text-anchor="middle" fill="#000" transform="scale(0.965 1)">50</text>
<text x="1816.79" y="667.4" font-size="28.8" font-weight="bold" text-anchor="middle" fill="#000" transform="scale(0.965 1)">60</text>
<text x="14.66" y="30.40" font-family="&quot;Liberation Sans&quot;, Arial, sans-serif" font-size="38.7" font-weight="bold" fill="#000" textLength="30.41" lengthAdjust="spacingAndGlyphs">A</text>
<text x="939.72" y="30.40" font-family="&quot;Liberation Sans&quot;, Arial, sans-serif" font-size="38.7" font-weight="bold" fill="#000" textLength="28.68" lengthAdjust="spacingAndGlyphs">B</text>
<text x="220.59" y="105.10" font-family="&quot;Liberation Sans&quot;, Arial, sans-serif" font-size="38.5" font-weight="normal" fill="#000" textLength="220.03" lengthAdjust="spacingAndGlyphs">Theophylline</text>
<text x="187.18" y="166.00" font-family="&quot;Liberation Sans&quot;, Arial, sans-serif" font-size="38.5" font-weight="normal" fill="#000" textLength="320.82" lengthAdjust="spacingAndGlyphs">0.5% Theophylline</text>
<text x="199.17" y="225.20" font-family="&quot;Liberation Sans&quot;, Arial, sans-serif" font-size="38.5" font-weight="normal" fill="#000" textLength="287.11" lengthAdjust="spacingAndGlyphs">1% Theophylline</text>
<text x="198.98" y="273.60" font-family="&quot;Liberation Sans&quot;, Arial, sans-serif" font-size="38.5" font-weight="normal" fill="#000" textLength="287.51" lengthAdjust="spacingAndGlyphs">3% Theophylline</text>
<text x="196.97" y="321.60" font-family="&quot;Liberation Sans&quot;, Arial, sans-serif" font-size="38.5" font-weight="normal" fill="#000" textLength="288.74" lengthAdjust="spacingAndGlyphs">5% Theophylline</text>
<text x="1426.54" y="56.00" font-family="&quot;Liberation Sans&quot;, Arial, sans-serif" font-size="38.5" font-weight="normal" fill="#000" textLength="326.68" lengthAdjust="spacingAndGlyphs">0.5% Theophylline</text>
<text x="1447.92" y="104.80" font-family="&quot;Liberation Sans&quot;, Arial, sans-serif" font-size="38.5" font-weight="normal" fill="#000" textLength="292.99" lengthAdjust="spacingAndGlyphs">1% Theophylline</text>
<text x="1447.95" y="149.70" font-family="&quot;Liberation Sans&quot;, Arial, sans-serif" font-size="38.5" font-weight="normal" fill="#000" textLength="293.57" lengthAdjust="spacingAndGlyphs">3% Theophylline</text>
<text x="1447.13" y="195.60" font-family="&quot;Liberation Sans&quot;, Arial, sans-serif" font-size="38.5" font-weight="normal" fill="#000" textLength="294.41" lengthAdjust="spacingAndGlyphs">5% Theophylline</text>
<text x="1476.97" y="595.80" font-family="&quot;Liberation Sans&quot;, Arial, sans-serif" font-size="38.5" font-weight="normal" fill="#000" textLength="223.97" lengthAdjust="spacingAndGlyphs">Theophylline</text>
<text x="311.40" y="724.00" font-family="&quot;Liberation Sans&quot;, Arial, sans-serif" font-size="36.6" font-weight="bold" fill="#000" textLength="295.04" lengthAdjust="spacingAndGlyphs">Temperature [°C]</text>
<text x="1349.61" y="719.70" font-family="&quot;Liberation Sans&quot;, Arial, sans-serif" font-size="31.4" font-weight="bold" fill="#000" textLength="75.06" lengthAdjust="spacingAndGlyphs">2θ [°]</text>
<text transform="translate(23.50 367.14) rotate(-90)" x="0" y="0" font-family="&quot;Liberation Sans&quot;, Arial, sans-serif" font-size="32.4" font-weight="bold" fill="#000" textLength="53.62" lengthAdjust="spacingAndGlyphs">exo</text>
<text transform="translate(28.10 306.62) rotate(-90)" x="0" y="0" font-family="&quot;DejaVu Sans&quot;, sans-serif" font-size="38.8" font-weight="normal" fill="#000" textLength="32.75" lengthAdjust="spacingAndGlyphs">→</text>
<text transform="translate(974.20 425.20) rotate(-90)" x="0" y="0" font-family="&quot;Liberation Sans&quot;, Arial, sans-serif" font-size="29.8" font-weight="bold" fill="#000" textLength="209.53" lengthAdjust="spacingAndGlyphs">Intensity [a.u.]</text>
</svg></body></html>
